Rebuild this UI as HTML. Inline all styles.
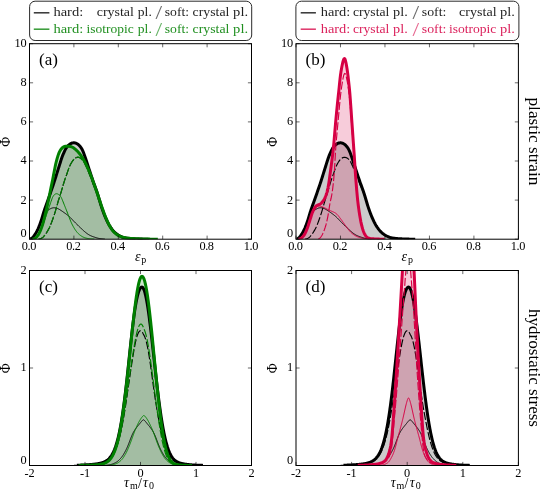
<!DOCTYPE html>
<html><head><meta charset="utf-8"><title>plot</title>
<style>html,body{margin:0;padding:0;background:#fff}body{width:540px;height:491px;overflow:hidden;font-family:"Liberation Serif",serif}</style>
</head><body>
<svg width="540" height="491" viewBox="0 0 540 491" style="display:block;font-family:'Liberation Serif',serif;will-change:transform">
<rect width="540" height="491" fill="#fff"/>
<defs>
<clipPath id="cpa"><rect x="29.5" y="43.7" width="222.0" height="195.5"/></clipPath>
<clipPath id="cpb"><rect x="296.0" y="43.7" width="222.39999999999998" height="195.5"/></clipPath>
<clipPath id="cpc"><rect x="29.5" y="270.5" width="222.0" height="195.0"/></clipPath>
<clipPath id="cpd"><rect x="296.0" y="270.5" width="222.39999999999998" height="195.0"/></clipPath>
</defs>
<g clip-path="url(#cpa)" fill="none" stroke-linejoin="round" stroke-linecap="butt">
<path d="M30.39,239.01 L30.83,238.84 L31.28,238.59 L31.72,238.27 L32.16,237.89 L32.61,237.45 L33.05,236.98 L33.50,236.48 L33.94,235.93 L34.38,235.35 L34.83,234.73 L35.27,234.05 L35.72,233.33 L36.16,232.57 L36.60,231.76 L37.05,230.91 L37.49,230.01 L37.94,229.08 L38.38,228.09 L38.82,227.04 L39.27,225.94 L39.71,224.78 L40.16,223.56 L40.60,222.29 L41.04,220.97 L41.49,219.60 L41.93,218.17 L42.38,216.70 L42.82,215.21 L43.26,213.72 L43.71,212.26 L44.15,210.85 L44.60,209.50 L45.04,208.20 L45.48,206.94 L45.93,205.71 L46.37,204.50 L46.82,203.29 L47.26,202.07 L47.70,200.84 L48.15,199.59 L48.59,198.32 L49.04,197.05 L49.48,195.76 L49.92,194.47 L50.37,193.18 L50.81,191.88 L51.26,190.59 L51.70,189.31 L52.14,188.02 L52.59,186.73 L53.03,185.43 L53.48,184.11 L53.92,182.77 L54.36,181.41 L54.81,180.02 L55.25,178.62 L55.70,177.20 L56.14,175.77 L56.58,174.34 L57.03,172.90 L57.47,171.47 L57.92,170.05 L58.36,168.62 L58.80,167.20 L59.25,165.78 L59.69,164.36 L60.14,162.93 L60.58,161.51 L61.02,160.12 L61.47,158.77 L61.91,157.48 L62.36,156.26 L62.80,155.12 L63.24,154.04 L63.69,153.02 L64.13,152.04 L64.58,151.10 L65.02,150.21 L65.46,149.36 L65.91,148.57 L66.35,147.85 L66.80,147.19 L67.24,146.61 L67.68,146.09 L68.13,145.63 L68.57,145.22 L69.02,144.84 L69.46,144.49 L69.90,144.16 L70.35,143.87 L70.79,143.60 L71.24,143.37 L71.68,143.18 L72.12,143.04 L72.57,142.94 L73.01,142.88 L73.46,142.85 L73.90,142.84 L74.34,142.85 L74.79,142.89 L75.23,142.97 L75.68,143.09 L76.12,143.25 L76.56,143.46 L77.01,143.70 L77.45,143.98 L77.90,144.28 L78.34,144.62 L78.78,145.00 L79.23,145.42 L79.67,145.90 L80.12,146.42 L80.56,147.00 L81.00,147.63 L81.45,148.31 L81.89,149.07 L82.34,149.92 L82.78,150.86 L83.22,151.89 L83.67,152.99 L84.11,154.17 L84.56,155.40 L85.00,156.68 L85.44,157.99 L85.89,159.33 L86.33,160.70 L86.78,162.07 L87.22,163.43 L87.66,164.80 L88.11,166.16 L88.55,167.51 L89.00,168.86 L89.44,170.22 L89.88,171.57 L90.33,172.92 L90.77,174.27 L91.22,175.61 L91.66,176.94 L92.10,178.26 L92.55,179.57 L92.99,180.86 L93.44,182.13 L93.88,183.39 L94.32,184.62 L94.77,185.85 L95.21,187.07 L95.66,188.30 L96.10,189.54 L96.54,190.80 L96.99,192.09 L97.43,193.42 L97.88,194.80 L98.32,196.23 L98.76,197.71 L99.21,199.23 L99.65,200.76 L100.10,202.28 L100.54,203.77 L100.98,205.21 L101.43,206.60 L101.87,207.95 L102.32,209.26 L102.76,210.54 L103.20,211.78 L103.65,212.98 L104.09,214.14 L104.54,215.26 L104.98,216.34 L105.42,217.38 L105.87,218.40 L106.31,219.39 L106.76,220.35 L107.20,221.28 L107.64,222.19 L108.09,223.06 L108.53,223.90 L108.98,224.69 L109.42,225.45 L109.86,226.17 L110.31,226.86 L110.75,227.52 L111.20,228.15 L111.64,228.75 L112.08,229.33 L112.53,229.88 L112.97,230.41 L113.42,230.92 L113.86,231.40 L114.30,231.86 L114.75,232.30 L115.19,232.71 L115.64,233.10 L116.08,233.47 L116.52,233.82 L116.97,234.16 L117.41,234.48 L117.86,234.78 L118.30,235.06 L118.74,235.32 L119.19,235.57 L119.63,235.81 L120.08,236.03 L120.52,236.25 L120.96,236.45 L121.41,236.65 L121.85,236.84 L122.30,237.02 L122.74,237.19 L123.18,237.34 L123.63,237.48 L124.07,237.60 L124.52,237.71 L124.96,237.81 L125.40,237.90 L125.85,237.97 L126.29,238.05 L126.74,238.12 L127.18,238.18 L127.62,238.24 L128.07,238.30 L128.51,238.36 L128.96,238.41 L129.40,238.46 L129.84,238.51 L130.29,238.55 L130.73,238.59 L131.18,238.63 L131.62,238.67 L132.06,238.70 L132.51,238.73 L132.95,238.76 L133.40,238.78 L133.84,238.81 L134.28,238.83 L134.73,238.85 L135.17,238.87 L135.62,238.89 L136.06,238.90 L136.50,238.92 L136.95,238.94 L137.39,238.96 L137.84,238.98 L138.28,238.99 L138.72,239.01 L139.17,239.02 L139.61,239.04 L140.06,239.05 L140.50,239.07 L140.94,239.08 L141.39,239.09 L141.83,239.10 L142.28,239.12 L142.72,239.13 L143.16,239.14 L143.61,239.15 L144.05,239.15 L144.50,239.16 L144.94,239.17 L145.38,239.18 L145.83,239.18 L146.27,239.19 L146.72,239.19 L147.16,239.19 L147.60,239.20 L148.05,239.20 L148.49,239.20 L148.49,239.20 L30.39,239.20 Z" fill="#000000" fill-opacity="0.2" stroke="none"/>
<path d="M32.16,239.18 L32.61,239.15 L33.05,239.09 L33.50,238.98 L33.94,238.83 L34.38,238.62 L34.83,238.35 L35.27,238.04 L35.72,237.68 L36.16,237.28 L36.60,236.85 L37.05,236.38 L37.49,235.87 L37.94,235.29 L38.38,234.64 L38.82,233.90 L39.27,233.07 L39.71,232.16 L40.16,231.18 L40.60,230.13 L41.04,229.01 L41.49,227.83 L41.93,226.56 L42.38,225.20 L42.82,223.76 L43.26,222.24 L43.71,220.63 L44.15,218.93 L44.60,217.16 L45.04,215.33 L45.48,213.44 L45.93,211.53 L46.37,209.59 L46.82,207.65 L47.26,205.69 L47.70,203.70 L48.15,201.65 L48.59,199.55 L49.04,197.39 L49.48,195.18 L49.92,192.95 L50.37,190.74 L50.81,188.56 L51.26,186.42 L51.70,184.30 L52.14,182.15 L52.59,179.97 L53.03,177.72 L53.48,175.40 L53.92,173.05 L54.36,170.71 L54.81,168.42 L55.25,166.24 L55.70,164.19 L56.14,162.28 L56.58,160.52 L57.03,158.87 L57.47,157.34 L57.92,155.92 L58.36,154.62 L58.80,153.44 L59.25,152.38 L59.69,151.45 L60.14,150.63 L60.58,149.91 L61.02,149.26 L61.47,148.70 L61.91,148.20 L62.36,147.78 L62.80,147.42 L63.24,147.12 L63.69,146.86 L64.13,146.64 L64.58,146.47 L65.02,146.33 L65.46,146.25 L65.91,146.20 L66.35,146.18 L66.80,146.18 L67.24,146.20 L67.68,146.22 L68.13,146.25 L68.57,146.29 L69.02,146.33 L69.46,146.38 L69.90,146.44 L70.35,146.50 L70.79,146.59 L71.24,146.70 L71.68,146.84 L72.12,147.02 L72.57,147.24 L73.01,147.50 L73.46,147.78 L73.90,148.10 L74.34,148.44 L74.79,148.80 L75.23,149.17 L75.68,149.56 L76.12,149.95 L76.56,150.36 L77.01,150.78 L77.45,151.21 L77.90,151.67 L78.34,152.16 L78.78,152.67 L79.23,153.22 L79.67,153.78 L80.12,154.37 L80.56,154.99 L81.00,155.62 L81.45,156.27 L81.89,156.94 L82.34,157.63 L82.78,158.34 L83.22,159.07 L83.67,159.83 L84.11,160.62 L84.56,161.44 L85.00,162.28 L85.44,163.16 L85.89,164.07 L86.33,164.99 L86.78,165.94 L87.22,166.91 L87.66,167.90 L88.11,168.90 L88.55,169.91 L89.00,170.95 L89.44,172.00 L89.88,173.07 L90.33,174.17 L90.77,175.29 L91.22,176.44 L91.66,177.61 L92.10,178.79 L92.55,180.00 L92.99,181.21 L93.44,182.44 L93.88,183.67 L94.32,184.91 L94.77,186.16 L95.21,187.42 L95.66,188.68 L96.10,189.96 L96.54,191.26 L96.99,192.57 L97.43,193.89 L97.88,195.22 L98.32,196.56 L98.76,197.89 L99.21,199.22 L99.65,200.54 L100.10,201.84 L100.54,203.14 L100.98,204.41 L101.43,205.68 L101.87,206.94 L102.32,208.20 L102.76,209.46 L103.20,210.72 L103.65,211.96 L104.09,213.19 L104.54,214.41 L104.98,215.59 L105.42,216.75 L105.87,217.87 L106.31,218.94 L106.76,219.97 L107.20,220.96 L107.64,221.91 L108.09,222.83 L108.53,223.72 L108.98,224.59 L109.42,225.44 L109.86,226.26 L110.31,227.06 L110.75,227.82 L111.20,228.54 L111.64,229.22 L112.08,229.86 L112.53,230.45 L112.97,231.00 L113.42,231.50 L113.86,231.97 L114.30,232.40 L114.75,232.82 L115.19,233.21 L115.64,233.58 L116.08,233.94 L116.52,234.27 L116.97,234.59 L117.41,234.88 L117.86,235.15 L118.30,235.41 L118.74,235.64 L119.19,235.85 L119.63,236.04 L120.08,236.22 L120.52,236.39 L120.96,236.55 L121.41,236.71 L121.85,236.85 L122.30,237.00 L122.74,237.13 L123.18,237.26 L123.63,237.38 L124.07,237.50 L124.52,237.61 L124.96,237.71 L125.40,237.80 L125.85,237.89 L126.29,237.97 L126.74,238.04 L127.18,238.11 L127.62,238.16 L128.07,238.21 L128.51,238.26 L128.96,238.30 L129.40,238.34 L129.84,238.37 L130.29,238.41 L130.73,238.44 L131.18,238.48 L131.62,238.51 L132.06,238.54 L132.51,238.57 L132.95,238.59 L133.40,238.62 L133.84,238.64 L134.28,238.67 L134.73,238.69 L135.17,238.71 L135.62,238.73 L136.06,238.75 L136.50,238.77 L136.95,238.79 L137.39,238.81 L137.84,238.82 L138.28,238.84 L138.72,238.85 L139.17,238.87 L139.61,238.88 L140.06,238.89 L140.50,238.91 L140.94,238.92 L141.39,238.93 L141.83,238.94 L142.28,238.95 L142.72,238.96 L143.16,238.98 L143.61,238.99 L144.05,239.00 L144.50,239.01 L144.94,239.02 L145.38,239.03 L145.83,239.04 L146.27,239.05 L146.72,239.06 L147.16,239.07 L147.60,239.08 L148.05,239.09 L148.49,239.10 L148.94,239.11 L149.38,239.11 L149.82,239.12 L150.27,239.13 L150.71,239.14 L151.16,239.14 L151.60,239.15 L152.04,239.16 L152.49,239.16 L152.93,239.17 L153.38,239.17 L153.82,239.18 L154.26,239.18 L154.71,239.19 L155.15,239.19 L155.60,239.19 L156.04,239.19 L156.48,239.20 L156.93,239.20 L157.37,239.20 L157.82,239.20 L157.82,239.20 L32.16,239.20 Z" fill="#008000" fill-opacity="0.2" stroke="none"/>
<path d="M29.83,239.13 L30.28,239.05 L30.72,238.90 L31.16,238.67 L31.61,238.37 L32.05,238.01 L32.50,237.60 L32.94,237.14 L33.38,236.65 L33.83,236.13 L34.27,235.56 L34.72,234.95 L35.16,234.30 L35.61,233.60 L36.05,232.85 L36.49,232.06 L36.94,231.22 L37.38,230.35 L37.83,229.43 L38.27,228.45 L38.71,227.42 L39.16,226.33 L39.60,225.21 L40.05,224.06 L40.49,222.92 L40.93,221.82 L41.38,220.75 L41.82,219.72 L42.27,218.73 L42.71,217.78 L43.15,216.89 L43.60,216.04 L44.04,215.25 L44.48,214.52 L44.93,213.84 L45.37,213.21 L45.82,212.62 L46.26,212.07 L46.70,211.57 L47.15,211.10 L47.59,210.68 L48.04,210.29 L48.48,209.94 L48.92,209.62 L49.37,209.34 L49.81,209.08 L50.26,208.83 L50.70,208.61 L51.14,208.40 L51.59,208.22 L52.03,208.06 L52.48,207.94 L52.92,207.85 L53.36,207.80 L53.81,207.78 L54.25,207.78 L54.70,207.81 L55.14,207.85 L55.59,207.91 L56.03,208.00 L56.47,208.11 L56.92,208.25 L57.36,208.42 L57.80,208.62 L58.25,208.84 L58.69,209.07 L59.14,209.31 L59.58,209.56 L60.03,209.82 L60.47,210.10 L60.91,210.38 L61.36,210.67 L61.80,210.98 L62.24,211.28 L62.69,211.59 L63.13,211.91 L63.58,212.22 L64.02,212.53 L64.47,212.85 L64.91,213.17 L65.35,213.49 L65.80,213.81 L66.24,214.14 L66.69,214.47 L67.13,214.81 L67.57,215.16 L68.02,215.52 L68.46,215.88 L68.91,216.26 L69.35,216.65 L69.79,217.06 L70.24,217.48 L70.68,217.92 L71.12,218.37 L71.57,218.84 L72.01,219.31 L72.46,219.79 L72.90,220.27 L73.34,220.75 L73.79,221.22 L74.23,221.68 L74.68,222.14 L75.12,222.58 L75.56,223.02 L76.01,223.46 L76.45,223.89 L76.90,224.32 L77.34,224.74 L77.78,225.17 L78.23,225.59 L78.67,226.02 L79.12,226.44 L79.56,226.87 L80.00,227.30 L80.45,227.73 L80.89,228.16 L81.34,228.59 L81.78,229.03 L82.22,229.45 L82.67,229.88 L83.11,230.29 L83.56,230.69 L84.00,231.09 L84.44,231.47 L84.89,231.84 L85.33,232.20 L85.78,232.56 L86.22,232.91 L86.66,233.25 L87.11,233.58 L87.55,233.90 L88.00,234.21 L88.44,234.50 L88.89,234.77 L89.33,235.03 L89.77,235.27 L90.22,235.49 L90.66,235.70 L91.11,235.90 L91.55,236.09 L91.99,236.27 L92.44,236.44 L92.88,236.60 L93.33,236.76 L93.77,236.91 L94.21,237.06 L94.66,237.21 L95.10,237.35 L95.55,237.49 L95.99,237.63 L96.43,237.77 L96.88,237.91 L97.32,238.04 L97.77,238.16 L98.21,238.27 L98.65,238.37 L99.10,238.46 L99.54,238.54 L99.98,238.61 L100.43,238.68 L100.87,238.73 L101.32,238.79 L101.76,238.84 L102.20,238.89 L102.65,238.93 L103.09,238.98 L103.54,239.02 L103.98,239.05 L104.43,239.09 L104.87,239.12" stroke="#000000" stroke-width="1.0"/>
<path d="M38.60,239.13 L39.05,239.07 L39.49,238.98 L39.93,238.86 L40.38,238.71 L40.82,238.52 L41.27,238.31 L41.71,238.07 L42.15,237.79 L42.60,237.46 L43.04,237.08 L43.49,236.64 L43.93,236.16 L44.37,235.64 L44.82,235.09 L45.26,234.51 L45.71,233.90 L46.15,233.26 L46.59,232.60 L47.04,231.90 L47.48,231.17 L47.93,230.41 L48.37,229.61 L48.81,228.77 L49.26,227.89 L49.70,226.94 L50.15,225.94 L50.59,224.89 L51.03,223.78 L51.48,222.64 L51.92,221.46 L52.37,220.25 L52.81,219.01 L53.25,217.75 L53.70,216.45 L54.14,215.12 L54.59,213.75 L55.03,212.34 L55.47,210.88 L55.92,209.37 L56.36,207.82 L56.81,206.24 L57.25,204.63 L57.69,203.04 L58.14,201.49 L58.58,199.99 L59.03,198.56 L59.47,197.17 L59.91,195.81 L60.36,194.46 L60.80,193.08 L61.25,191.65 L61.69,190.16 L62.13,188.63 L62.58,187.07 L63.02,185.52 L63.47,184.00 L63.91,182.55 L64.35,181.16 L64.80,179.83 L65.24,178.54 L65.69,177.27 L66.13,176.00 L66.57,174.73 L67.02,173.44 L67.46,172.15 L67.91,170.86 L68.35,169.62 L68.79,168.44 L69.24,167.32 L69.68,166.27 L70.13,165.28 L70.57,164.36 L71.01,163.50 L71.46,162.70 L71.90,161.98 L72.35,161.32 L72.79,160.71 L73.23,160.16 L73.68,159.65 L74.12,159.18 L74.57,158.77 L75.01,158.41 L75.45,158.10 L75.90,157.85 L76.34,157.65 L76.79,157.49 L77.23,157.38 L77.67,157.32 L78.12,157.31 L78.56,157.35 L79.01,157.45 L79.45,157.60 L79.89,157.79 L80.34,158.02 L80.78,158.28 L81.23,158.58 L81.67,158.92 L82.11,159.32 L82.56,159.80 L83.00,160.37 L83.45,161.04 L83.89,161.79 L84.33,162.60 L84.78,163.49 L85.22,164.42 L85.67,165.39 L86.11,166.39 L86.55,167.42 L87.00,168.45 L87.44,169.50 L87.89,170.55 L88.33,171.61 L88.77,172.68 L89.22,173.77 L89.66,174.88 L90.11,176.01 L90.55,177.14 L90.99,178.29 L91.44,179.43 L91.88,180.58 L92.33,181.72 L92.77,182.86 L93.21,183.98 L93.66,185.09 L94.10,186.18 L94.55,187.27 L94.99,188.34 L95.43,189.43 L95.88,190.52 L96.32,191.63 L96.77,192.76 L97.21,193.94 L97.65,195.17 L98.10,196.46 L98.54,197.82 L98.99,199.23 L99.43,200.67 L99.87,202.13 L100.32,203.57 L100.76,204.98 L101.21,206.34 L101.65,207.66 L102.09,208.94 L102.54,210.18 L102.98,211.40 L103.43,212.58 L103.87,213.72 L104.31,214.82 L104.76,215.89 L105.20,216.93 L105.65,217.94 L106.09,218.92 L106.53,219.89 L106.98,220.83 L107.42,221.74 L107.87,222.63 L108.31,223.48 L108.75,224.30 L109.20,225.08 L109.64,225.82 L110.09,226.52 L110.53,227.19 L110.97,227.83 L111.42,228.45 L111.86,229.04 L112.31,229.61 L112.75,230.15 L113.19,230.67 L113.64,231.17 L114.08,231.64 L114.53,232.08 L114.97,232.50 L115.41,232.90 L115.86,233.29 L116.30,233.65 L116.75,233.99 L117.19,234.32 L117.63,234.63 L118.08,234.92 L118.52,235.19 L118.97,235.45 L119.41,235.69 L119.85,235.92 L120.30,236.14 L120.74,236.35 L121.19,236.55 L121.63,236.75 L122.07,236.93 L122.52,237.10 L122.96,237.26 L123.41,237.41 L123.85,237.54 L124.29,237.66 L124.74,237.76 L125.18,237.85 L125.63,237.94 L126.07,238.01 L126.51,238.08 L126.96,238.15 L127.40,238.21 L127.85,238.27 L128.29,238.33 L128.73,238.39 L129.18,238.44 L129.62,238.49 L130.07,238.53 L130.51,238.57 L130.95,238.61 L131.40,238.65 L131.84,238.69 L132.29,238.72 L132.73,238.74 L133.17,238.77 L133.62,238.79 L134.06,238.82 L134.51,238.84 L134.95,238.86 L135.39,238.88 L135.84,238.90 L136.28,238.91 L136.73,238.93 L137.17,238.95 L137.61,238.97 L138.06,238.98 L138.50,239.00 L138.95,239.02 L139.39,239.03 L139.83,239.05 L140.28,239.06 L140.72,239.07 L141.17,239.09 L141.61,239.10 L142.05,239.11 L142.50,239.12" stroke="#000000" stroke-width="1.15" stroke-dasharray="8,2.2" stroke-dashoffset="0.8"/>
<path d="M30.39,239.01 L30.83,238.84 L31.28,238.59 L31.72,238.27 L32.16,237.89 L32.61,237.45 L33.05,236.98 L33.50,236.48 L33.94,235.93 L34.38,235.35 L34.83,234.73 L35.27,234.05 L35.72,233.33 L36.16,232.57 L36.60,231.76 L37.05,230.91 L37.49,230.01 L37.94,229.08 L38.38,228.09 L38.82,227.04 L39.27,225.94 L39.71,224.78 L40.16,223.56 L40.60,222.29 L41.04,220.97 L41.49,219.60 L41.93,218.17 L42.38,216.70 L42.82,215.21 L43.26,213.72 L43.71,212.26 L44.15,210.85 L44.60,209.50 L45.04,208.20 L45.48,206.94 L45.93,205.71 L46.37,204.50 L46.82,203.29 L47.26,202.07 L47.70,200.84 L48.15,199.59 L48.59,198.32 L49.04,197.05 L49.48,195.76 L49.92,194.47 L50.37,193.18 L50.81,191.88 L51.26,190.59 L51.70,189.31 L52.14,188.02 L52.59,186.73 L53.03,185.43 L53.48,184.11 L53.92,182.77 L54.36,181.41 L54.81,180.02 L55.25,178.62 L55.70,177.20 L56.14,175.77 L56.58,174.34 L57.03,172.90 L57.47,171.47 L57.92,170.05 L58.36,168.62 L58.80,167.20 L59.25,165.78 L59.69,164.36 L60.14,162.93 L60.58,161.51 L61.02,160.12 L61.47,158.77 L61.91,157.48 L62.36,156.26 L62.80,155.12 L63.24,154.04 L63.69,153.02 L64.13,152.04 L64.58,151.10 L65.02,150.21 L65.46,149.36 L65.91,148.57 L66.35,147.85 L66.80,147.19 L67.24,146.61 L67.68,146.09 L68.13,145.63 L68.57,145.22 L69.02,144.84 L69.46,144.49 L69.90,144.16 L70.35,143.87 L70.79,143.60 L71.24,143.37 L71.68,143.18 L72.12,143.04 L72.57,142.94 L73.01,142.88 L73.46,142.85 L73.90,142.84 L74.34,142.85 L74.79,142.89 L75.23,142.97 L75.68,143.09 L76.12,143.25 L76.56,143.46 L77.01,143.70 L77.45,143.98 L77.90,144.28 L78.34,144.62 L78.78,145.00 L79.23,145.42 L79.67,145.90 L80.12,146.42 L80.56,147.00 L81.00,147.63 L81.45,148.31 L81.89,149.07 L82.34,149.92 L82.78,150.86 L83.22,151.89 L83.67,152.99 L84.11,154.17 L84.56,155.40 L85.00,156.68 L85.44,157.99 L85.89,159.33 L86.33,160.70 L86.78,162.07 L87.22,163.43 L87.66,164.80 L88.11,166.16 L88.55,167.51 L89.00,168.86 L89.44,170.22 L89.88,171.57 L90.33,172.92 L90.77,174.27 L91.22,175.61 L91.66,176.94 L92.10,178.26 L92.55,179.57 L92.99,180.86 L93.44,182.13 L93.88,183.39 L94.32,184.62 L94.77,185.85 L95.21,187.07 L95.66,188.30 L96.10,189.54 L96.54,190.80 L96.99,192.09 L97.43,193.42 L97.88,194.80 L98.32,196.23 L98.76,197.71 L99.21,199.23 L99.65,200.76 L100.10,202.28 L100.54,203.77 L100.98,205.21 L101.43,206.60 L101.87,207.95 L102.32,209.26 L102.76,210.54 L103.20,211.78 L103.65,212.98 L104.09,214.14 L104.54,215.26 L104.98,216.34 L105.42,217.38 L105.87,218.40 L106.31,219.39 L106.76,220.35 L107.20,221.28 L107.64,222.19 L108.09,223.06 L108.53,223.90 L108.98,224.69 L109.42,225.45 L109.86,226.17 L110.31,226.86 L110.75,227.52 L111.20,228.15 L111.64,228.75 L112.08,229.33 L112.53,229.88 L112.97,230.41 L113.42,230.92 L113.86,231.40 L114.30,231.86 L114.75,232.30 L115.19,232.71 L115.64,233.10 L116.08,233.47 L116.52,233.82 L116.97,234.16 L117.41,234.48 L117.86,234.78 L118.30,235.06 L118.74,235.32 L119.19,235.57 L119.63,235.81 L120.08,236.03 L120.52,236.25 L120.96,236.45 L121.41,236.65 L121.85,236.84 L122.30,237.02 L122.74,237.19 L123.18,237.34 L123.63,237.48 L124.07,237.60 L124.52,237.71 L124.96,237.81 L125.40,237.90 L125.85,237.97 L126.29,238.05 L126.74,238.12 L127.18,238.18 L127.62,238.24 L128.07,238.30 L128.51,238.36 L128.96,238.41 L129.40,238.46 L129.84,238.51 L130.29,238.55 L130.73,238.59 L131.18,238.63 L131.62,238.67 L132.06,238.70 L132.51,238.73 L132.95,238.76 L133.40,238.78 L133.84,238.81 L134.28,238.83 L134.73,238.85 L135.17,238.87 L135.62,238.89 L136.06,238.90 L136.50,238.92 L136.95,238.94 L137.39,238.96 L137.84,238.98 L138.28,238.99 L138.72,239.01 L139.17,239.02 L139.61,239.04 L140.06,239.05 L140.50,239.07 L140.94,239.08 L141.39,239.09 L141.83,239.10 L142.28,239.12 L142.72,239.13 L143.16,239.14 L143.61,239.15 L144.05,239.15 L144.50,239.16 L144.94,239.17 L145.38,239.18 L145.83,239.18 L146.27,239.19 L146.72,239.19 L147.16,239.19 L147.60,239.20 L148.05,239.20 L148.49,239.20" stroke="#000000" stroke-width="3.0"/>
<path d="M33.38,239.12 L33.83,239.03 L34.27,238.88 L34.72,238.65 L35.16,238.36 L35.61,238.01 L36.05,237.60 L36.49,237.14 L36.94,236.65 L37.38,236.10 L37.83,235.50 L38.27,234.84 L38.71,234.11 L39.16,233.31 L39.60,232.45 L40.05,231.55 L40.49,230.60 L40.93,229.62 L41.38,228.61 L41.82,227.56 L42.27,226.48 L42.71,225.35 L43.15,224.20 L43.60,223.01 L44.04,221.80 L44.48,220.57 L44.93,219.32 L45.37,218.04 L45.82,216.76 L46.26,215.48 L46.70,214.19 L47.15,212.90 L47.59,211.61 L48.04,210.31 L48.48,209.02 L48.92,207.73 L49.37,206.43 L49.81,205.13 L50.26,203.83 L50.70,202.53 L51.14,201.23 L51.59,199.94 L52.03,198.73 L52.48,197.62 L52.92,196.69 L53.36,195.93 L53.81,195.33 L54.25,194.84 L54.70,194.46 L55.14,194.15 L55.59,193.93 L56.03,193.78 L56.47,193.72 L56.92,193.75 L57.36,193.85 L57.80,194.02 L58.25,194.26 L58.69,194.55 L59.14,194.89 L59.58,195.29 L60.03,195.76 L60.47,196.31 L60.91,196.97 L61.36,197.76 L61.80,198.68 L62.24,199.71 L62.69,200.80 L63.13,201.93 L63.58,203.06 L64.02,204.18 L64.47,205.29 L64.91,206.40 L65.35,207.51 L65.80,208.62 L66.24,209.74 L66.69,210.87 L67.13,212.00 L67.57,213.14 L68.02,214.29 L68.46,215.45 L68.91,216.62 L69.35,217.79 L69.79,218.95 L70.24,220.08 L70.68,221.18 L71.12,222.22 L71.57,223.21 L72.01,224.15 L72.46,225.04 L72.90,225.89 L73.34,226.70 L73.79,227.48 L74.23,228.23 L74.68,228.94 L75.12,229.62 L75.56,230.27 L76.01,230.88 L76.45,231.47 L76.90,232.04 L77.34,232.57 L77.78,233.06 L78.23,233.53 L78.67,233.95 L79.12,234.35 L79.56,234.72 L80.00,235.06 L80.45,235.39 L80.89,235.71 L81.34,236.01 L81.78,236.30 L82.22,236.56 L82.67,236.82 L83.11,237.05 L83.56,237.26 L84.00,237.45 L84.44,237.62 L84.89,237.77 L85.33,237.90 L85.78,238.02 L86.22,238.14 L86.66,238.24 L87.11,238.34 L87.55,238.44 L88.00,238.53 L88.44,238.61 L88.89,238.69 L89.33,238.75 L89.77,238.82 L90.22,238.87 L90.66,238.92 L91.11,238.95 L91.55,238.99 L91.99,239.02 L92.44,239.04 L92.88,239.06 L93.33,239.08 L93.77,239.10 L94.21,239.11" stroke="#008000" stroke-width="1.0"/>
<path d="M38.60,239.13 L39.05,239.07 L39.49,238.98 L39.93,238.86 L40.38,238.71 L40.82,238.52 L41.27,238.31 L41.71,238.07 L42.15,237.79 L42.60,237.46 L43.04,237.08 L43.49,236.64 L43.93,236.16 L44.37,235.64 L44.82,235.09 L45.26,234.51 L45.71,233.90 L46.15,233.26 L46.59,232.60 L47.04,231.90 L47.48,231.17 L47.93,230.41 L48.37,229.61 L48.81,228.77 L49.26,227.89 L49.70,226.94 L50.15,225.94 L50.59,224.89 L51.03,223.78 L51.48,222.64 L51.92,221.46 L52.37,220.25 L52.81,219.01 L53.25,217.75 L53.70,216.45 L54.14,215.12 L54.59,213.75 L55.03,212.34 L55.47,210.88 L55.92,209.37 L56.36,207.82 L56.81,206.24 L57.25,204.63 L57.69,203.04 L58.14,201.49 L58.58,199.99 L59.03,198.56 L59.47,197.17 L59.91,195.81 L60.36,194.46 L60.80,193.08 L61.25,191.65 L61.69,190.16 L62.13,188.63 L62.58,187.07 L63.02,185.52 L63.47,184.00 L63.91,182.55 L64.35,181.16 L64.80,179.83 L65.24,178.54 L65.69,177.27 L66.13,176.00 L66.57,174.73 L67.02,173.44 L67.46,172.15 L67.91,170.86 L68.35,169.62 L68.79,168.44 L69.24,167.32 L69.68,166.27 L70.13,165.28 L70.57,164.36 L71.01,163.50 L71.46,162.70 L71.90,161.98 L72.35,161.32 L72.79,160.71 L73.23,160.16 L73.68,159.65 L74.12,159.18 L74.57,158.75 L75.01,158.37 L75.45,158.04 L75.90,157.75 L76.34,157.51 L76.79,157.32 L77.23,157.17 L77.67,157.10 L78.12,157.09 L78.56,157.17 L79.01,157.34 L79.45,157.58 L79.89,157.89 L80.34,158.25 L80.78,158.65 L81.23,159.07 L81.67,159.51 L82.11,159.96 L82.56,160.43 L83.00,160.91 L83.45,161.44 L83.89,162.02 L84.33,162.65 L84.78,163.33 L85.22,164.05 L85.67,164.82 L86.11,165.62 L86.55,166.45 L87.00,167.31 L87.44,168.19 L87.89,169.09 L88.33,170.01 L88.77,170.96 L89.22,171.93 L89.66,172.93 L90.11,173.96 L90.55,175.02 L90.99,176.12 L91.44,177.24 L91.88,178.39 L92.33,179.56 L92.77,180.75 L93.21,181.95 L93.66,183.16 L94.10,184.38 L94.55,185.61 L94.99,186.85 L95.43,188.09 L95.88,189.36 L96.32,190.64 L96.77,191.93 L97.21,193.24 L97.65,194.57 L98.10,195.89 L98.54,197.23 L98.99,198.56 L99.43,199.88 L99.87,201.19 L100.32,202.49 L100.76,203.78 L101.21,205.05 L101.65,206.31 L102.09,207.57 L102.54,208.83 L102.98,210.09 L103.43,211.34 L103.87,212.58 L104.31,213.80 L104.76,215.00 L105.20,216.18 L105.65,217.31 L106.09,218.41 L106.53,219.46 L106.98,220.47 L107.42,221.44 L107.87,222.37 L108.31,223.28 L108.75,224.16 L109.20,225.02 L109.64,225.86 L110.09,226.66 L110.53,227.44 L110.97,228.19 L111.42,228.89 L111.86,229.55 L112.31,230.16 L112.75,230.73 L113.19,231.25 L113.64,231.74 L114.08,232.19 L114.53,232.61 L114.97,233.02 L115.41,233.40 L115.86,233.76 L116.30,234.11 L116.75,234.43 L117.19,234.74 L117.63,235.02 L118.08,235.28 L118.52,235.52 L118.97,235.75 L119.41,235.95 L119.85,236.13 L120.30,236.31 L120.74,236.47 L121.19,236.63 L121.63,236.78 L122.07,236.93 L122.52,237.06 L122.96,237.20 L123.41,237.32 L123.85,237.44 L124.29,237.55 L124.74,237.66 L125.18,237.76 L125.63,237.85 L126.07,237.93 L126.51,238.01 L126.96,238.07 L127.40,238.13 L127.85,238.19 L128.29,238.24 L128.73,238.28 L129.18,238.32 L129.62,238.36 L130.07,238.39 L130.51,238.43 L130.95,238.46 L131.40,238.49 L131.84,238.52 L132.29,238.55 L132.73,238.58 L133.17,238.61 L133.62,238.63 L134.06,238.66 L134.51,238.68 L134.95,238.70 L135.39,238.72 L135.84,238.74 L136.28,238.76 L136.73,238.78 L137.17,238.80 L137.61,238.81 L138.06,238.83 L138.50,238.85 L138.95,238.86 L139.39,238.87 L139.83,238.89 L140.28,238.90 L140.72,238.91 L141.17,238.92 L141.61,238.94 L142.05,238.95 L142.50,238.96 L142.94,238.97 L143.39,238.98 L143.83,238.99 L144.27,239.00 L144.72,239.01 L145.16,239.03 L145.61,239.04 L146.05,239.05 L146.49,239.06 L146.94,239.07 L147.38,239.08 L147.83,239.08 L148.27,239.09 L148.71,239.10 L149.16,239.11 L149.60,239.12" stroke="#008000" stroke-width="1.15" stroke-dasharray="8,2.2" stroke-dashoffset="0"/>
<path d="M32.16,239.18 L32.61,239.15 L33.05,239.09 L33.50,238.98 L33.94,238.83 L34.38,238.62 L34.83,238.35 L35.27,238.04 L35.72,237.68 L36.16,237.28 L36.60,236.85 L37.05,236.38 L37.49,235.87 L37.94,235.29 L38.38,234.64 L38.82,233.90 L39.27,233.07 L39.71,232.16 L40.16,231.18 L40.60,230.13 L41.04,229.01 L41.49,227.83 L41.93,226.56 L42.38,225.20 L42.82,223.76 L43.26,222.24 L43.71,220.63 L44.15,218.93 L44.60,217.16 L45.04,215.33 L45.48,213.44 L45.93,211.53 L46.37,209.59 L46.82,207.65 L47.26,205.69 L47.70,203.70 L48.15,201.65 L48.59,199.55 L49.04,197.39 L49.48,195.18 L49.92,192.95 L50.37,190.74 L50.81,188.56 L51.26,186.42 L51.70,184.30 L52.14,182.15 L52.59,179.97 L53.03,177.72 L53.48,175.40 L53.92,173.05 L54.36,170.71 L54.81,168.42 L55.25,166.24 L55.70,164.19 L56.14,162.28 L56.58,160.52 L57.03,158.87 L57.47,157.34 L57.92,155.92 L58.36,154.62 L58.80,153.44 L59.25,152.38 L59.69,151.45 L60.14,150.63 L60.58,149.91 L61.02,149.26 L61.47,148.70 L61.91,148.20 L62.36,147.78 L62.80,147.42 L63.24,147.12 L63.69,146.86 L64.13,146.64 L64.58,146.47 L65.02,146.33 L65.46,146.25 L65.91,146.20 L66.35,146.18 L66.80,146.18 L67.24,146.20 L67.68,146.22 L68.13,146.25 L68.57,146.29 L69.02,146.33 L69.46,146.38 L69.90,146.44 L70.35,146.50 L70.79,146.59 L71.24,146.70 L71.68,146.84 L72.12,147.02 L72.57,147.24 L73.01,147.50 L73.46,147.78 L73.90,148.10 L74.34,148.44 L74.79,148.80 L75.23,149.17 L75.68,149.56 L76.12,149.95 L76.56,150.36 L77.01,150.78 L77.45,151.21 L77.90,151.67 L78.34,152.16 L78.78,152.67 L79.23,153.22 L79.67,153.78 L80.12,154.37 L80.56,154.99 L81.00,155.62 L81.45,156.27 L81.89,156.94 L82.34,157.63 L82.78,158.34 L83.22,159.07 L83.67,159.83 L84.11,160.62 L84.56,161.44 L85.00,162.28 L85.44,163.16 L85.89,164.07 L86.33,164.99 L86.78,165.94 L87.22,166.91 L87.66,167.90 L88.11,168.90 L88.55,169.91 L89.00,170.95 L89.44,172.00 L89.88,173.07 L90.33,174.17 L90.77,175.29 L91.22,176.44 L91.66,177.61 L92.10,178.79 L92.55,180.00 L92.99,181.21 L93.44,182.44 L93.88,183.67 L94.32,184.91 L94.77,186.16 L95.21,187.42 L95.66,188.68 L96.10,189.96 L96.54,191.26 L96.99,192.57 L97.43,193.89 L97.88,195.22 L98.32,196.56 L98.76,197.89 L99.21,199.22 L99.65,200.54 L100.10,201.84 L100.54,203.14 L100.98,204.41 L101.43,205.68 L101.87,206.94 L102.32,208.20 L102.76,209.46 L103.20,210.72 L103.65,211.96 L104.09,213.19 L104.54,214.41 L104.98,215.59 L105.42,216.75 L105.87,217.87 L106.31,218.94 L106.76,219.97 L107.20,220.96 L107.64,221.91 L108.09,222.83 L108.53,223.72 L108.98,224.59 L109.42,225.44 L109.86,226.26 L110.31,227.06 L110.75,227.82 L111.20,228.54 L111.64,229.22 L112.08,229.86 L112.53,230.45 L112.97,231.00 L113.42,231.50 L113.86,231.97 L114.30,232.40 L114.75,232.82 L115.19,233.21 L115.64,233.58 L116.08,233.94 L116.52,234.27 L116.97,234.59 L117.41,234.88 L117.86,235.15 L118.30,235.41 L118.74,235.64 L119.19,235.85 L119.63,236.04 L120.08,236.22 L120.52,236.39 L120.96,236.55 L121.41,236.71 L121.85,236.85 L122.30,237.00 L122.74,237.13 L123.18,237.26 L123.63,237.38 L124.07,237.50 L124.52,237.61 L124.96,237.71 L125.40,237.80 L125.85,237.89 L126.29,237.97 L126.74,238.04 L127.18,238.11 L127.62,238.16 L128.07,238.21 L128.51,238.26 L128.96,238.30 L129.40,238.34 L129.84,238.37 L130.29,238.41 L130.73,238.44 L131.18,238.48 L131.62,238.51 L132.06,238.54 L132.51,238.57 L132.95,238.59 L133.40,238.62 L133.84,238.64 L134.28,238.67 L134.73,238.69 L135.17,238.71 L135.62,238.73 L136.06,238.75 L136.50,238.77 L136.95,238.79 L137.39,238.81 L137.84,238.82 L138.28,238.84 L138.72,238.85 L139.17,238.87 L139.61,238.88 L140.06,238.89 L140.50,238.91 L140.94,238.92 L141.39,238.93 L141.83,238.94 L142.28,238.95 L142.72,238.96 L143.16,238.98 L143.61,238.99 L144.05,239.00 L144.50,239.01 L144.94,239.02 L145.38,239.03 L145.83,239.04 L146.27,239.05 L146.72,239.06 L147.16,239.07 L147.60,239.08 L148.05,239.09 L148.49,239.10 L148.94,239.11 L149.38,239.11 L149.82,239.12 L150.27,239.13 L150.71,239.14 L151.16,239.14 L151.60,239.15 L152.04,239.16 L152.49,239.16 L152.93,239.17 L153.38,239.17 L153.82,239.18 L154.26,239.18 L154.71,239.19 L155.15,239.19 L155.60,239.19 L156.04,239.19 L156.48,239.20 L156.93,239.20 L157.37,239.20 L157.82,239.20" stroke="#008000" stroke-width="3.0"/>
</g>
<g clip-path="url(#cpb)" fill="none" stroke-linejoin="round" stroke-linecap="butt">
<path d="M296.89,239.01 L297.33,238.84 L297.78,238.59 L298.22,238.27 L298.67,237.89 L299.11,237.45 L299.56,236.98 L300.00,236.48 L300.45,235.93 L300.89,235.35 L301.34,234.73 L301.78,234.05 L302.23,233.33 L302.67,232.57 L303.12,231.76 L303.56,230.91 L304.01,230.01 L304.45,229.08 L304.90,228.09 L305.34,227.04 L305.79,225.94 L306.23,224.78 L306.68,223.56 L307.12,222.29 L307.56,220.97 L308.01,219.60 L308.45,218.17 L308.90,216.70 L309.34,215.21 L309.79,213.72 L310.23,212.26 L310.68,210.85 L311.12,209.50 L311.57,208.20 L312.01,206.94 L312.46,205.71 L312.90,204.50 L313.35,203.29 L313.79,202.07 L314.24,200.84 L314.68,199.59 L315.13,198.32 L315.57,197.05 L316.02,195.76 L316.46,194.47 L316.91,193.18 L317.35,191.88 L317.80,190.59 L318.24,189.31 L318.68,188.02 L319.13,186.73 L319.57,185.43 L320.02,184.11 L320.46,182.77 L320.91,181.41 L321.35,180.02 L321.80,178.62 L322.24,177.20 L322.69,175.77 L323.13,174.34 L323.58,172.90 L324.02,171.47 L324.47,170.05 L324.91,168.62 L325.36,167.20 L325.80,165.78 L326.25,164.36 L326.69,162.93 L327.14,161.51 L327.58,160.12 L328.03,158.77 L328.47,157.48 L328.92,156.26 L329.36,155.12 L329.80,154.04 L330.25,153.02 L330.69,152.04 L331.14,151.10 L331.58,150.21 L332.03,149.36 L332.47,148.57 L332.92,147.85 L333.36,147.19 L333.81,146.61 L334.25,146.09 L334.70,145.63 L335.14,145.22 L335.59,144.84 L336.03,144.49 L336.48,144.16 L336.92,143.87 L337.37,143.60 L337.81,143.37 L338.26,143.18 L338.70,143.04 L339.15,142.94 L339.59,142.88 L340.04,142.85 L340.48,142.84 L340.92,142.85 L341.37,142.89 L341.81,142.97 L342.26,143.09 L342.70,143.25 L343.15,143.46 L343.59,143.70 L344.04,143.98 L344.48,144.28 L344.93,144.62 L345.37,145.00 L345.82,145.42 L346.26,145.90 L346.71,146.42 L347.15,147.00 L347.60,147.63 L348.04,148.31 L348.49,149.07 L348.93,149.92 L349.38,150.86 L349.82,151.89 L350.27,152.99 L350.71,154.17 L351.16,155.40 L351.60,156.68 L352.04,157.99 L352.49,159.33 L352.93,160.70 L353.38,162.07 L353.82,163.43 L354.27,164.80 L354.71,166.16 L355.16,167.51 L355.60,168.86 L356.05,170.22 L356.49,171.57 L356.94,172.92 L357.38,174.27 L357.83,175.61 L358.27,176.94 L358.72,178.26 L359.16,179.57 L359.61,180.86 L360.05,182.13 L360.50,183.39 L360.94,184.62 L361.39,185.85 L361.83,187.07 L362.28,188.30 L362.72,189.54 L363.16,190.80 L363.61,192.09 L364.05,193.42 L364.50,194.80 L364.94,196.23 L365.39,197.71 L365.83,199.23 L366.28,200.76 L366.72,202.28 L367.17,203.77 L367.61,205.21 L368.06,206.60 L368.50,207.95 L368.95,209.26 L369.39,210.54 L369.84,211.78 L370.28,212.98 L370.73,214.14 L371.17,215.26 L371.62,216.34 L372.06,217.38 L372.51,218.40 L372.95,219.39 L373.40,220.35 L373.84,221.28 L374.28,222.19 L374.73,223.06 L375.17,223.90 L375.62,224.69 L376.06,225.45 L376.51,226.17 L376.95,226.86 L377.40,227.52 L377.84,228.15 L378.29,228.75 L378.73,229.33 L379.18,229.88 L379.62,230.41 L380.07,230.92 L380.51,231.40 L380.96,231.86 L381.40,232.30 L381.85,232.71 L382.29,233.10 L382.74,233.47 L383.18,233.82 L383.63,234.16 L384.07,234.48 L384.52,234.78 L384.96,235.06 L385.40,235.32 L385.85,235.57 L386.29,235.81 L386.74,236.03 L387.18,236.25 L387.63,236.45 L388.07,236.65 L388.52,236.84 L388.96,237.02 L389.41,237.19 L389.85,237.34 L390.30,237.48 L390.74,237.60 L391.19,237.71 L391.63,237.81 L392.08,237.90 L392.52,237.97 L392.97,238.05 L393.41,238.12 L393.86,238.18 L394.30,238.24 L394.75,238.30 L395.19,238.36 L395.64,238.41 L396.08,238.46 L396.52,238.51 L396.97,238.55 L397.41,238.59 L397.86,238.63 L398.30,238.67 L398.75,238.70 L399.19,238.73 L399.64,238.76 L400.08,238.78 L400.53,238.81 L400.97,238.83 L401.42,238.85 L401.86,238.87 L402.31,238.89 L402.75,238.90 L403.20,238.92 L403.64,238.94 L404.09,238.96 L404.53,238.98 L404.98,238.99 L405.42,239.01 L405.87,239.02 L406.31,239.04 L406.76,239.05 L407.20,239.07 L407.64,239.08 L408.09,239.09 L408.53,239.10 L408.98,239.12 L409.42,239.13 L409.87,239.14 L410.31,239.15 L410.76,239.15 L411.20,239.16 L411.65,239.17 L412.09,239.18 L412.54,239.18 L412.98,239.19 L413.43,239.19 L413.87,239.19 L414.32,239.20 L414.76,239.20 L415.21,239.20 L415.21,239.20 L296.89,239.20 Z" fill="#000000" fill-opacity="0.2" stroke="none"/>
<path d="M298.22,239.20 L298.67,239.18 L299.11,239.13 L299.56,239.02 L300.00,238.84 L300.45,238.61 L300.89,238.33 L301.34,237.99 L301.78,237.62 L302.23,237.22 L302.67,236.79 L303.12,236.34 L303.56,235.85 L304.01,235.29 L304.45,234.61 L304.90,233.81 L305.34,232.91 L305.79,231.92 L306.23,230.88 L306.68,229.79 L307.12,228.66 L307.56,227.46 L308.01,226.17 L308.45,224.79 L308.90,223.38 L309.34,221.95 L309.79,220.55 L310.23,219.13 L310.68,217.69 L311.12,216.24 L311.57,214.84 L312.01,213.52 L312.46,212.34 L312.90,211.30 L313.35,210.36 L313.79,209.48 L314.24,208.65 L314.68,207.89 L315.13,207.21 L315.57,206.62 L316.02,206.13 L316.46,205.75 L316.91,205.45 L317.35,205.21 L317.80,205.01 L318.24,204.83 L318.68,204.66 L319.13,204.49 L319.57,204.29 L320.02,204.06 L320.46,203.78 L320.91,203.44 L321.35,203.05 L321.80,202.59 L322.24,202.07 L322.69,201.51 L323.13,200.90 L323.58,200.24 L324.02,199.52 L324.47,198.71 L324.91,197.80 L325.36,196.80 L325.80,195.70 L326.25,194.48 L326.69,193.12 L327.14,191.55 L327.58,189.72 L328.03,187.61 L328.47,185.17 L328.92,182.40 L329.36,179.36 L329.80,176.16 L330.25,172.90 L330.69,169.62 L331.14,166.29 L331.58,162.91 L332.03,159.47 L332.47,156.00 L332.92,152.37 L333.36,148.26 L333.81,143.55 L334.25,138.56 L334.70,133.48 L335.14,128.25 L335.59,122.97 L336.03,118.01 L336.48,113.43 L336.92,108.98 L337.37,104.52 L337.81,100.17 L338.26,96.02 L338.70,91.87 L339.15,87.53 L339.59,83.13 L340.04,78.99 L340.48,75.30 L340.92,72.12 L341.37,69.41 L341.81,66.99 L342.26,64.75 L342.70,62.70 L343.15,60.94 L343.59,59.59 L344.04,58.76 L344.48,58.55 L344.93,59.06 L345.37,60.27 L345.82,62.06 L346.26,64.27 L346.71,66.77 L347.15,69.52 L347.60,72.66 L348.04,76.29 L348.49,80.18 L348.93,84.14 L349.38,88.33 L349.82,93.14 L350.27,98.77 L350.71,104.99 L351.16,111.40 L351.60,117.77 L352.04,124.11 L352.49,130.48 L352.93,136.90 L353.38,143.18 L353.82,149.30 L354.27,155.66 L354.71,162.62 L355.16,169.74 L355.60,176.25 L356.05,181.97 L356.49,187.33 L356.94,192.55 L357.38,197.37 L357.83,201.57 L358.27,205.26 L358.72,208.60 L359.16,211.69 L359.61,214.59 L360.05,217.31 L360.50,219.83 L360.94,222.11 L361.39,224.15 L361.83,225.98 L362.28,227.64 L362.72,229.16 L363.16,230.53 L363.61,231.73 L364.05,232.79 L364.50,233.73 L364.94,234.59 L365.39,235.35 L365.83,235.99 L366.28,236.50 L366.72,236.89 L367.17,237.21 L367.61,237.49 L368.06,237.75 L368.50,237.98 L368.95,238.17 L369.39,238.34 L369.84,238.46 L370.28,238.55 L370.73,238.62 L371.17,238.66 L371.62,238.70 L372.06,238.73 L372.51,238.77 L372.95,238.80 L373.40,238.83 L373.84,238.86 L374.28,238.89 L374.73,238.92 L375.17,238.94 L375.62,238.97 L376.06,238.99 L376.51,239.01 L376.95,239.03 L377.40,239.05 L377.84,239.07 L378.29,239.08 L378.73,239.10 L379.18,239.11 L379.62,239.13 L380.07,239.14 L380.51,239.15 L380.96,239.16 L381.40,239.17 L381.85,239.18 L382.29,239.18 L382.74,239.19 L383.18,239.19 L383.63,239.20 L384.07,239.20 L384.52,239.20 L384.52,239.20 L298.22,239.20 Z" fill="#d60044" fill-opacity="0.2" stroke="none"/>
<path d="M296.33,239.13 L296.78,239.05 L297.22,238.90 L297.67,238.67 L298.11,238.37 L298.56,238.01 L299.00,237.60 L299.45,237.14 L299.89,236.65 L300.34,236.13 L300.78,235.56 L301.23,234.95 L301.67,234.30 L302.12,233.60 L302.56,232.85 L303.01,232.06 L303.45,231.22 L303.90,230.35 L304.34,229.43 L304.78,228.45 L305.23,227.42 L305.67,226.33 L306.12,225.21 L306.56,224.06 L307.01,222.92 L307.45,221.82 L307.90,220.75 L308.34,219.72 L308.79,218.73 L309.23,217.78 L309.68,216.89 L310.12,216.04 L310.57,215.25 L311.01,214.52 L311.46,213.84 L311.90,213.21 L312.35,212.62 L312.79,212.07 L313.24,211.57 L313.68,211.10 L314.13,210.68 L314.57,210.29 L315.02,209.94 L315.46,209.62 L315.90,209.34 L316.35,209.08 L316.79,208.83 L317.24,208.61 L317.68,208.40 L318.13,208.22 L318.57,208.06 L319.02,207.94 L319.46,207.85 L319.91,207.80 L320.35,207.78 L320.80,207.78 L321.24,207.81 L321.69,207.85 L322.13,207.91 L322.58,208.00 L323.02,208.11 L323.47,208.25 L323.91,208.42 L324.36,208.62 L324.80,208.84 L325.25,209.07 L325.69,209.31 L326.14,209.56 L326.58,209.82 L327.02,210.10 L327.47,210.38 L327.91,210.67 L328.36,210.98 L328.80,211.28 L329.25,211.59 L329.69,211.91 L330.14,212.22 L330.58,212.53 L331.03,212.85 L331.47,213.17 L331.92,213.49 L332.36,213.81 L332.81,214.14 L333.25,214.47 L333.70,214.81 L334.14,215.16 L334.59,215.52 L335.03,215.88 L335.48,216.26 L335.92,216.65 L336.37,217.06 L336.81,217.48 L337.26,217.92 L337.70,218.37 L338.14,218.84 L338.59,219.31 L339.03,219.79 L339.48,220.27 L339.92,220.75 L340.37,221.22 L340.81,221.68 L341.26,222.14 L341.70,222.58 L342.15,223.02 L342.59,223.46 L343.04,223.89 L343.48,224.32 L343.93,224.74 L344.37,225.17 L344.82,225.59 L345.26,226.02 L345.71,226.44 L346.15,226.87 L346.60,227.30 L347.04,227.73 L347.49,228.16 L347.93,228.59 L348.38,229.03 L348.82,229.45 L349.26,229.88 L349.71,230.29 L350.15,230.69 L350.60,231.09 L351.04,231.47 L351.49,231.84 L351.93,232.20 L352.38,232.56 L352.82,232.91 L353.27,233.25 L353.71,233.58 L354.16,233.90 L354.60,234.21 L355.05,234.50 L355.49,234.77 L355.94,235.03 L356.38,235.27 L356.83,235.49 L357.27,235.70 L357.72,235.90 L358.16,236.09 L358.61,236.27 L359.05,236.44 L359.50,236.60 L359.94,236.76 L360.38,236.91 L360.83,237.06 L361.27,237.21 L361.72,237.35 L362.16,237.49 L362.61,237.63 L363.05,237.77 L363.50,237.91 L363.94,238.04 L364.39,238.16 L364.83,238.27 L365.28,238.37 L365.72,238.46 L366.17,238.54 L366.61,238.61 L367.06,238.68 L367.50,238.73 L367.95,238.79 L368.39,238.84 L368.84,238.89 L369.28,238.93 L369.73,238.98 L370.17,239.02 L370.62,239.05 L371.06,239.09 L371.50,239.12" stroke="#000000" stroke-width="1.0"/>
<path d="M305.12,239.13 L305.56,239.07 L306.01,238.98 L306.45,238.86 L306.90,238.71 L307.34,238.52 L307.79,238.31 L308.23,238.07 L308.68,237.79 L309.12,237.46 L309.57,237.08 L310.01,236.64 L310.46,236.16 L310.90,235.64 L311.35,235.09 L311.79,234.51 L312.24,233.90 L312.68,233.26 L313.12,232.60 L313.57,231.90 L314.01,231.17 L314.46,230.41 L314.90,229.61 L315.35,228.77 L315.79,227.89 L316.24,226.94 L316.68,225.94 L317.13,224.89 L317.57,223.78 L318.02,222.64 L318.46,221.46 L318.91,220.25 L319.35,219.01 L319.80,217.75 L320.24,216.45 L320.69,215.12 L321.13,213.75 L321.58,212.34 L322.02,210.88 L322.47,209.37 L322.91,207.82 L323.36,206.24 L323.80,204.63 L324.24,203.04 L324.69,201.49 L325.13,199.99 L325.58,198.56 L326.02,197.17 L326.47,195.81 L326.91,194.46 L327.36,193.08 L327.80,191.65 L328.25,190.16 L328.69,188.63 L329.14,187.07 L329.58,185.52 L330.03,184.00 L330.47,182.55 L330.92,181.16 L331.36,179.83 L331.81,178.54 L332.25,177.27 L332.70,176.00 L333.14,174.73 L333.59,173.44 L334.03,172.15 L334.48,170.86 L334.92,169.62 L335.36,168.44 L335.81,167.32 L336.25,166.27 L336.70,165.28 L337.14,164.36 L337.59,163.50 L338.03,162.70 L338.48,161.98 L338.92,161.32 L339.37,160.71 L339.81,160.16 L340.26,159.65 L340.70,159.18 L341.15,158.77 L341.59,158.41 L342.04,158.10 L342.48,157.85 L342.93,157.65 L343.37,157.49 L343.82,157.38 L344.26,157.32 L344.71,157.31 L345.15,157.35 L345.60,157.45 L346.04,157.60 L346.48,157.79 L346.93,158.02 L347.37,158.28 L347.82,158.58 L348.26,158.92 L348.71,159.32 L349.15,159.80 L349.60,160.37 L350.04,161.04 L350.49,161.79 L350.93,162.60 L351.38,163.49 L351.82,164.42 L352.27,165.39 L352.71,166.39 L353.16,167.42 L353.60,168.45 L354.05,169.50 L354.49,170.55 L354.94,171.61 L355.38,172.68 L355.83,173.77 L356.27,174.88 L356.72,176.01 L357.16,177.14 L357.60,178.29 L358.05,179.43 L358.49,180.58 L358.94,181.72 L359.38,182.86 L359.83,183.98 L360.27,185.09 L360.72,186.18 L361.16,187.27 L361.61,188.34 L362.05,189.43 L362.50,190.52 L362.94,191.63 L363.39,192.76 L363.83,193.94 L364.28,195.17 L364.72,196.46 L365.17,197.82 L365.61,199.23 L366.06,200.67 L366.50,202.13 L366.95,203.57 L367.39,204.98 L367.84,206.34 L368.28,207.66 L368.72,208.94 L369.17,210.18 L369.61,211.40 L370.06,212.58 L370.50,213.72 L370.95,214.82 L371.39,215.89 L371.84,216.93 L372.28,217.94 L372.73,218.92 L373.17,219.89 L373.62,220.83 L374.06,221.74 L374.51,222.63 L374.95,223.48 L375.40,224.30 L375.84,225.08 L376.29,225.82 L376.73,226.52 L377.18,227.19 L377.62,227.83 L378.07,228.45 L378.51,229.04 L378.96,229.61 L379.40,230.15 L379.84,230.67 L380.29,231.17 L380.73,231.64 L381.18,232.08 L381.62,232.50 L382.07,232.90 L382.51,233.29 L382.96,233.65 L383.40,233.99 L383.85,234.32 L384.29,234.63 L384.74,234.92 L385.18,235.19 L385.63,235.45 L386.07,235.69 L386.52,235.92 L386.96,236.14 L387.41,236.35 L387.85,236.55 L388.30,236.75 L388.74,236.93 L389.19,237.10 L389.63,237.26 L390.08,237.41 L390.52,237.54 L390.96,237.66 L391.41,237.76 L391.85,237.85 L392.30,237.94 L392.74,238.01 L393.19,238.08 L393.63,238.15 L394.08,238.21 L394.52,238.27 L394.97,238.33 L395.41,238.39 L395.86,238.44 L396.30,238.49 L396.75,238.53 L397.19,238.57 L397.64,238.61 L398.08,238.65 L398.53,238.69 L398.97,238.72 L399.42,238.74 L399.86,238.77 L400.31,238.79 L400.75,238.82 L401.20,238.84 L401.64,238.86 L402.08,238.88 L402.53,238.90 L402.97,238.91 L403.42,238.93 L403.86,238.95 L404.31,238.97 L404.75,238.98 L405.20,239.00 L405.64,239.02 L406.09,239.03 L406.53,239.05 L406.98,239.06 L407.42,239.07 L407.87,239.09 L408.31,239.10 L408.76,239.11 L409.20,239.12" stroke="#000000" stroke-width="1.15" stroke-dasharray="8,2.2" stroke-dashoffset="0.8"/>
<path d="M296.89,239.01 L297.33,238.84 L297.78,238.59 L298.22,238.27 L298.67,237.89 L299.11,237.45 L299.56,236.98 L300.00,236.48 L300.45,235.93 L300.89,235.35 L301.34,234.73 L301.78,234.05 L302.23,233.33 L302.67,232.57 L303.12,231.76 L303.56,230.91 L304.01,230.01 L304.45,229.08 L304.90,228.09 L305.34,227.04 L305.79,225.94 L306.23,224.78 L306.68,223.56 L307.12,222.29 L307.56,220.97 L308.01,219.60 L308.45,218.17 L308.90,216.70 L309.34,215.21 L309.79,213.72 L310.23,212.26 L310.68,210.85 L311.12,209.50 L311.57,208.20 L312.01,206.94 L312.46,205.71 L312.90,204.50 L313.35,203.29 L313.79,202.07 L314.24,200.84 L314.68,199.59 L315.13,198.32 L315.57,197.05 L316.02,195.76 L316.46,194.47 L316.91,193.18 L317.35,191.88 L317.80,190.59 L318.24,189.31 L318.68,188.02 L319.13,186.73 L319.57,185.43 L320.02,184.11 L320.46,182.77 L320.91,181.41 L321.35,180.02 L321.80,178.62 L322.24,177.20 L322.69,175.77 L323.13,174.34 L323.58,172.90 L324.02,171.47 L324.47,170.05 L324.91,168.62 L325.36,167.20 L325.80,165.78 L326.25,164.36 L326.69,162.93 L327.14,161.51 L327.58,160.12 L328.03,158.77 L328.47,157.48 L328.92,156.26 L329.36,155.12 L329.80,154.04 L330.25,153.02 L330.69,152.04 L331.14,151.10 L331.58,150.21 L332.03,149.36 L332.47,148.57 L332.92,147.85 L333.36,147.19 L333.81,146.61 L334.25,146.09 L334.70,145.63 L335.14,145.22 L335.59,144.84 L336.03,144.49 L336.48,144.16 L336.92,143.87 L337.37,143.60 L337.81,143.37 L338.26,143.18 L338.70,143.04 L339.15,142.94 L339.59,142.88 L340.04,142.85 L340.48,142.84 L340.92,142.85 L341.37,142.89 L341.81,142.97 L342.26,143.09 L342.70,143.25 L343.15,143.46 L343.59,143.70 L344.04,143.98 L344.48,144.28 L344.93,144.62 L345.37,145.00 L345.82,145.42 L346.26,145.90 L346.71,146.42 L347.15,147.00 L347.60,147.63 L348.04,148.31 L348.49,149.07 L348.93,149.92 L349.38,150.86 L349.82,151.89 L350.27,152.99 L350.71,154.17 L351.16,155.40 L351.60,156.68 L352.04,157.99 L352.49,159.33 L352.93,160.70 L353.38,162.07 L353.82,163.43 L354.27,164.80 L354.71,166.16 L355.16,167.51 L355.60,168.86 L356.05,170.22 L356.49,171.57 L356.94,172.92 L357.38,174.27 L357.83,175.61 L358.27,176.94 L358.72,178.26 L359.16,179.57 L359.61,180.86 L360.05,182.13 L360.50,183.39 L360.94,184.62 L361.39,185.85 L361.83,187.07 L362.28,188.30 L362.72,189.54 L363.16,190.80 L363.61,192.09 L364.05,193.42 L364.50,194.80 L364.94,196.23 L365.39,197.71 L365.83,199.23 L366.28,200.76 L366.72,202.28 L367.17,203.77 L367.61,205.21 L368.06,206.60 L368.50,207.95 L368.95,209.26 L369.39,210.54 L369.84,211.78 L370.28,212.98 L370.73,214.14 L371.17,215.26 L371.62,216.34 L372.06,217.38 L372.51,218.40 L372.95,219.39 L373.40,220.35 L373.84,221.28 L374.28,222.19 L374.73,223.06 L375.17,223.90 L375.62,224.69 L376.06,225.45 L376.51,226.17 L376.95,226.86 L377.40,227.52 L377.84,228.15 L378.29,228.75 L378.73,229.33 L379.18,229.88 L379.62,230.41 L380.07,230.92 L380.51,231.40 L380.96,231.86 L381.40,232.30 L381.85,232.71 L382.29,233.10 L382.74,233.47 L383.18,233.82 L383.63,234.16 L384.07,234.48 L384.52,234.78 L384.96,235.06 L385.40,235.32 L385.85,235.57 L386.29,235.81 L386.74,236.03 L387.18,236.25 L387.63,236.45 L388.07,236.65 L388.52,236.84 L388.96,237.02 L389.41,237.19 L389.85,237.34 L390.30,237.48 L390.74,237.60 L391.19,237.71 L391.63,237.81 L392.08,237.90 L392.52,237.97 L392.97,238.05 L393.41,238.12 L393.86,238.18 L394.30,238.24 L394.75,238.30 L395.19,238.36 L395.64,238.41 L396.08,238.46 L396.52,238.51 L396.97,238.55 L397.41,238.59 L397.86,238.63 L398.30,238.67 L398.75,238.70 L399.19,238.73 L399.64,238.76 L400.08,238.78 L400.53,238.81 L400.97,238.83 L401.42,238.85 L401.86,238.87 L402.31,238.89 L402.75,238.90 L403.20,238.92 L403.64,238.94 L404.09,238.96 L404.53,238.98 L404.98,238.99 L405.42,239.01 L405.87,239.02 L406.31,239.04 L406.76,239.05 L407.20,239.07 L407.64,239.08 L408.09,239.09 L408.53,239.10 L408.98,239.12 L409.42,239.13 L409.87,239.14 L410.31,239.15 L410.76,239.15 L411.20,239.16 L411.65,239.17 L412.09,239.18 L412.54,239.18 L412.98,239.19 L413.43,239.19 L413.87,239.19 L414.32,239.20 L414.76,239.20 L415.21,239.20" stroke="#000000" stroke-width="3.0"/>
<path d="M298.67,239.13 L299.11,239.05 L299.56,238.93 L300.00,238.76 L300.45,238.53 L300.89,238.26 L301.34,237.94 L301.78,237.57 L302.23,237.18 L302.67,236.74 L303.12,236.27 L303.56,235.74 L304.01,235.14 L304.45,234.45 L304.90,233.66 L305.34,232.79 L305.79,231.83 L306.23,230.80 L306.68,229.71 L307.12,228.56 L307.56,227.34 L308.01,226.06 L308.45,224.72 L308.90,223.34 L309.34,221.95 L309.79,220.56 L310.23,219.17 L310.68,217.80 L311.12,216.45 L311.57,215.17 L312.01,213.96 L312.46,212.85 L312.90,211.84 L313.35,210.93 L313.79,210.10 L314.24,209.34 L314.68,208.66 L315.13,208.07 L315.57,207.57 L316.02,207.17 L316.46,206.85 L316.91,206.61 L317.35,206.42 L317.80,206.27 L318.24,206.17 L318.68,206.09 L319.13,206.06 L319.57,206.06 L320.02,206.11 L320.46,206.19 L320.91,206.31 L321.35,206.46 L321.80,206.63 L322.24,206.81 L322.69,206.99 L323.13,207.18 L323.58,207.37 L324.02,207.57 L324.47,207.77 L324.91,207.97 L325.36,208.19 L325.80,208.41 L326.25,208.64 L326.69,208.87 L327.14,209.10 L327.58,209.33 L328.03,209.57 L328.47,209.79 L328.92,210.02 L329.36,210.24 L329.80,210.45 L330.25,210.65 L330.69,210.85 L331.14,211.04 L331.58,211.22 L332.03,211.40 L332.47,211.59 L332.92,211.78 L333.36,211.97 L333.81,212.17 L334.25,212.39 L334.70,212.63 L335.14,212.88 L335.59,213.17 L336.03,213.48 L336.48,213.84 L336.92,214.24 L337.37,214.69 L337.81,215.18 L338.26,215.70 L338.70,216.26 L339.15,216.83 L339.59,217.42 L340.04,218.02 L340.48,218.62 L340.92,219.22 L341.37,219.82 L341.81,220.43 L342.26,221.05 L342.70,221.68 L343.15,222.31 L343.59,222.95 L344.04,223.59 L344.48,224.23 L344.93,224.86 L345.37,225.48 L345.82,226.09 L346.26,226.70 L346.71,227.29 L347.15,227.88 L347.60,228.46 L348.04,229.04 L348.49,229.61 L348.93,230.17 L349.38,230.70 L349.82,231.22 L350.27,231.70 L350.71,232.16 L351.16,232.59 L351.60,233.00 L352.04,233.38 L352.49,233.75 L352.93,234.10 L353.38,234.43 L353.82,234.75 L354.27,235.05 L354.71,235.33 L355.16,235.60 L355.60,235.85 L356.05,236.08 L356.49,236.30 L356.94,236.51 L357.38,236.70 L357.83,236.88 L358.27,237.05 L358.72,237.21 L359.16,237.37 L359.61,237.51 L360.05,237.65 L360.50,237.78 L360.94,237.90 L361.39,238.02 L361.83,238.12 L362.28,238.23 L362.72,238.32 L363.16,238.42 L363.61,238.50 L364.05,238.58 L364.50,238.66 L364.94,238.72 L365.39,238.78 L365.83,238.84 L366.28,238.89 L366.72,238.94 L367.17,238.98 L367.61,239.02 L368.06,239.06 L368.50,239.09 L368.95,239.12" stroke="#d60044" stroke-width="1.0"/>
<path d="M318.13,239.14 L318.57,239.00 L319.02,238.75 L319.46,238.41 L319.91,238.00 L320.35,237.53 L320.80,237.01 L321.24,236.42 L321.69,235.73 L322.13,234.93 L322.58,234.04 L323.02,233.07 L323.47,232.03 L323.91,230.94 L324.36,229.79 L324.80,228.54 L325.25,227.19 L325.69,225.72 L326.14,224.13 L326.58,222.40 L327.02,220.49 L327.47,218.37 L327.91,216.07 L328.36,213.58 L328.80,210.86 L329.25,207.92 L329.69,205.01 L330.14,202.46 L330.58,200.37 L331.03,198.51 L331.47,196.48 L331.92,194.02 L332.36,191.07 L332.81,187.64 L333.25,183.77 L333.70,179.42 L334.14,174.40 L334.59,168.06 L335.03,160.16 L335.48,152.27 L335.92,145.50 L336.37,140.02 L336.81,135.16 L337.26,130.26 L337.70,125.39 L338.14,120.68 L338.59,116.01 L339.03,111.15 L339.48,106.14 L339.92,101.32 L340.37,96.91 L340.81,92.99 L341.26,89.58 L341.70,86.50 L342.15,83.60 L342.59,80.87 L343.04,78.40 L343.48,76.29 L343.93,74.68 L344.37,73.67 L344.82,73.36 L345.26,73.78 L345.71,74.82 L346.15,76.34 L346.60,78.19 L347.04,80.28 L347.49,82.71 L347.93,85.64 L348.38,88.93 L348.82,92.31 L349.26,95.87 L349.71,99.97 L350.15,104.91 L350.60,110.55 L351.04,116.51 L351.49,122.48 L351.93,128.44 L352.38,134.43 L352.82,140.49 L353.27,146.48 L353.71,152.30 L354.16,158.24 L354.60,164.77 L355.05,171.66 L355.49,178.11 L355.94,183.77 L356.38,188.95 L356.83,194.01 L357.27,198.77 L357.72,202.94 L358.16,206.57 L358.61,209.82 L359.05,212.81 L359.50,215.60 L359.94,218.23 L360.38,220.67 L360.83,222.89 L361.27,224.87 L361.72,226.64 L362.16,228.24 L362.61,229.69 L363.05,231.01 L363.50,232.16 L363.94,233.18 L364.39,234.07 L364.83,234.88 L365.28,235.60 L365.72,236.22 L366.17,236.71 L366.61,237.08 L367.06,237.37 L367.50,237.62 L367.95,237.84 L368.39,238.04 L368.84,238.21 L369.28,238.36 L369.73,238.47 L370.17,238.56 L370.62,238.61 L371.06,238.65 L371.50,238.69 L371.95,238.72 L372.39,238.76 L372.84,238.79 L373.28,238.82 L373.73,238.85 L374.17,238.88 L374.62,238.91 L375.06,238.93 L375.51,238.96 L375.95,238.98 L376.40,239.00 L376.84,239.03 L377.29,239.04 L377.73,239.06 L378.18,239.08 L378.62,239.10 L379.07,239.11 L379.51,239.12" stroke="#d60044" stroke-width="1.15" stroke-dasharray="8,2.2" stroke-dashoffset="0"/>
<path d="M298.22,239.20 L298.67,239.18 L299.11,239.13 L299.56,239.02 L300.00,238.84 L300.45,238.61 L300.89,238.33 L301.34,237.99 L301.78,237.62 L302.23,237.22 L302.67,236.79 L303.12,236.34 L303.56,235.85 L304.01,235.29 L304.45,234.61 L304.90,233.81 L305.34,232.91 L305.79,231.92 L306.23,230.88 L306.68,229.79 L307.12,228.66 L307.56,227.46 L308.01,226.17 L308.45,224.79 L308.90,223.38 L309.34,221.95 L309.79,220.55 L310.23,219.13 L310.68,217.69 L311.12,216.24 L311.57,214.84 L312.01,213.52 L312.46,212.34 L312.90,211.30 L313.35,210.36 L313.79,209.48 L314.24,208.65 L314.68,207.89 L315.13,207.21 L315.57,206.62 L316.02,206.13 L316.46,205.75 L316.91,205.45 L317.35,205.21 L317.80,205.01 L318.24,204.83 L318.68,204.66 L319.13,204.49 L319.57,204.29 L320.02,204.06 L320.46,203.78 L320.91,203.44 L321.35,203.05 L321.80,202.59 L322.24,202.07 L322.69,201.51 L323.13,200.90 L323.58,200.24 L324.02,199.52 L324.47,198.71 L324.91,197.80 L325.36,196.80 L325.80,195.70 L326.25,194.48 L326.69,193.12 L327.14,191.55 L327.58,189.72 L328.03,187.61 L328.47,185.17 L328.92,182.40 L329.36,179.36 L329.80,176.16 L330.25,172.90 L330.69,169.62 L331.14,166.29 L331.58,162.91 L332.03,159.47 L332.47,156.00 L332.92,152.37 L333.36,148.26 L333.81,143.55 L334.25,138.56 L334.70,133.48 L335.14,128.25 L335.59,122.97 L336.03,118.01 L336.48,113.43 L336.92,108.98 L337.37,104.52 L337.81,100.17 L338.26,96.02 L338.70,91.87 L339.15,87.53 L339.59,83.13 L340.04,78.99 L340.48,75.30 L340.92,72.12 L341.37,69.41 L341.81,66.99 L342.26,64.75 L342.70,62.70 L343.15,60.94 L343.59,59.59 L344.04,58.76 L344.48,58.55 L344.93,59.06 L345.37,60.27 L345.82,62.06 L346.26,64.27 L346.71,66.77 L347.15,69.52 L347.60,72.66 L348.04,76.29 L348.49,80.18 L348.93,84.14 L349.38,88.33 L349.82,93.14 L350.27,98.77 L350.71,104.99 L351.16,111.40 L351.60,117.77 L352.04,124.11 L352.49,130.48 L352.93,136.90 L353.38,143.18 L353.82,149.30 L354.27,155.66 L354.71,162.62 L355.16,169.74 L355.60,176.25 L356.05,181.97 L356.49,187.33 L356.94,192.55 L357.38,197.37 L357.83,201.57 L358.27,205.26 L358.72,208.60 L359.16,211.69 L359.61,214.59 L360.05,217.31 L360.50,219.83 L360.94,222.11 L361.39,224.15 L361.83,225.98 L362.28,227.64 L362.72,229.16 L363.16,230.53 L363.61,231.73 L364.05,232.79 L364.50,233.73 L364.94,234.59 L365.39,235.35 L365.83,235.99 L366.28,236.50 L366.72,236.89 L367.17,237.21 L367.61,237.49 L368.06,237.75 L368.50,237.98 L368.95,238.17 L369.39,238.34 L369.84,238.46 L370.28,238.55 L370.73,238.62 L371.17,238.66 L371.62,238.70 L372.06,238.73 L372.51,238.77 L372.95,238.80 L373.40,238.83 L373.84,238.86 L374.28,238.89 L374.73,238.92 L375.17,238.94 L375.62,238.97 L376.06,238.99 L376.51,239.01 L376.95,239.03 L377.40,239.05 L377.84,239.07 L378.29,239.08 L378.73,239.10 L379.18,239.11 L379.62,239.13 L380.07,239.14 L380.51,239.15 L380.96,239.16 L381.40,239.17 L381.85,239.18 L382.29,239.18 L382.74,239.19 L383.18,239.19 L383.63,239.20 L384.07,239.20 L384.52,239.20" stroke="#d60044" stroke-width="3.0"/>
</g>
<g clip-path="url(#cpc)" fill="none" stroke-linejoin="round" stroke-linecap="butt">
<path d="M76.90,465.24 L77.12,465.23 L77.34,465.22 L77.56,465.22 L77.78,465.21 L78.01,465.20 L78.23,465.20 L78.45,465.19 L78.67,465.18 L78.90,465.18 L79.12,465.17 L79.34,465.16 L79.56,465.15 L79.78,465.15 L80.01,465.14 L80.23,465.13 L80.45,465.12 L80.67,465.11 L80.89,465.10 L81.12,465.10 L81.34,465.09 L81.56,465.08 L81.78,465.07 L82.00,465.06 L82.23,465.05 L82.45,465.04 L82.67,465.03 L82.89,465.02 L83.11,465.01 L83.34,465.00 L83.56,464.99 L83.78,464.98 L84.00,464.97 L84.22,464.96 L84.44,464.94 L84.67,464.93 L84.89,464.92 L85.11,464.91 L85.33,464.90 L85.56,464.89 L85.78,464.87 L86.00,464.86 L86.22,464.85 L86.44,464.83 L86.66,464.82 L86.89,464.81 L87.11,464.79 L87.33,464.78 L87.55,464.76 L87.78,464.75 L88.00,464.73 L88.22,464.72 L88.44,464.70 L88.66,464.69 L88.89,464.67 L89.11,464.66 L89.33,464.64 L89.55,464.62 L89.77,464.61 L90.00,464.59 L90.22,464.57 L90.44,464.55 L90.66,464.53 L90.88,464.52 L91.11,464.50 L91.33,464.48 L91.55,464.46 L91.77,464.44 L91.99,464.42 L92.22,464.40 L92.44,464.37 L92.66,464.35 L92.88,464.33 L93.10,464.31 L93.33,464.29 L93.55,464.26 L93.77,464.24 L93.99,464.21 L94.21,464.19 L94.44,464.16 L94.66,464.14 L94.88,464.11 L95.10,464.08 L95.32,464.06 L95.55,464.03 L95.77,464.00 L95.99,463.97 L96.21,463.94 L96.43,463.91 L96.66,463.87 L96.88,463.84 L97.10,463.81 L97.32,463.77 L97.54,463.74 L97.77,463.70 L97.99,463.66 L98.21,463.62 L98.43,463.58 L98.65,463.54 L98.88,463.50 L99.10,463.46 L99.32,463.41 L99.54,463.37 L99.76,463.32 L99.98,463.27 L100.21,463.22 L100.43,463.17 L100.65,463.12 L100.87,463.06 L101.09,463.00 L101.32,462.94 L101.54,462.88 L101.76,462.82 L101.98,462.75 L102.20,462.68 L102.43,462.61 L102.65,462.54 L102.87,462.46 L103.09,462.38 L103.31,462.30 L103.54,462.22 L103.76,462.13 L103.98,462.04 L104.20,461.94 L104.43,461.84 L104.65,461.74 L104.87,461.63 L105.09,461.52 L105.31,461.41 L105.54,461.29 L105.76,461.16 L105.98,461.03 L106.20,460.90 L106.42,460.76 L106.65,460.61 L106.87,460.46 L107.09,460.30 L107.31,460.14 L107.53,459.97 L107.75,459.79 L107.98,459.61 L108.20,459.42 L108.42,459.22 L108.64,459.01 L108.86,458.80 L109.09,458.57 L109.31,458.34 L109.53,458.10 L109.75,457.85 L109.97,457.59 L110.20,457.32 L110.42,457.04 L110.64,456.74 L110.86,456.44 L111.08,456.13 L111.31,455.80 L111.53,455.46 L111.75,455.11 L111.97,454.74 L112.19,454.37 L112.42,453.97 L112.64,453.57 L112.86,453.15 L113.08,452.71 L113.31,452.26 L113.53,451.79 L113.75,451.31 L113.97,450.81 L114.19,450.29 L114.42,449.75 L114.64,449.20 L114.86,448.63 L115.08,448.04 L115.30,447.42 L115.53,446.79 L115.75,446.14 L115.97,445.47 L116.19,444.77 L116.41,444.06 L116.64,443.32 L116.86,442.56 L117.08,441.78 L117.30,440.97 L117.52,440.14 L117.75,439.28 L117.97,438.40 L118.19,437.49 L118.41,436.56 L118.63,435.60 L118.86,434.61 L119.08,433.60 L119.30,432.56 L119.52,431.49 L119.74,430.40 L119.97,429.27 L120.19,428.12 L120.41,426.94 L120.63,425.72 L120.85,424.48 L121.08,423.21 L121.30,421.91 L121.52,420.58 L121.74,419.22 L121.96,417.82 L122.19,416.40 L122.41,414.95 L122.63,413.46 L122.85,411.95 L123.07,410.40 L123.30,408.83 L123.52,407.22 L123.74,405.59 L123.96,403.92 L124.18,402.23 L124.41,400.50 L124.63,398.75 L124.85,396.97 L125.07,395.16 L125.29,393.33 L125.52,391.47 L125.74,389.59 L125.96,387.68 L126.18,385.75 L126.40,383.79 L126.62,381.82 L126.85,379.82 L127.07,377.81 L127.29,375.78 L127.51,373.73 L127.73,371.67 L127.96,369.60 L128.18,367.52 L128.40,365.42 L128.62,363.33 L128.84,361.22 L129.07,359.11 L129.29,357.00 L129.51,354.89 L129.73,352.79 L129.95,350.69 L130.18,348.59 L130.40,346.51 L130.62,344.43 L130.84,342.37 L131.06,340.32 L131.29,338.30 L131.51,336.29 L131.73,334.30 L131.95,332.34 L132.18,330.41 L132.40,328.50 L132.62,326.62 L132.84,324.78 L133.06,322.97 L133.29,321.19 L133.51,319.45 L133.73,317.75 L133.95,316.09 L134.17,314.47 L134.40,312.90 L134.62,311.36 L134.84,309.87 L135.06,308.43 L135.28,307.03 L135.50,305.68 L135.73,304.38 L135.95,303.12 L136.17,301.91 L136.39,300.75 L136.62,299.64 L136.84,298.58 L137.06,297.57 L137.28,296.60 L137.50,295.69 L137.72,294.82 L137.95,294.00 L138.17,293.23 L138.39,292.50 L138.61,291.82 L138.83,291.19 L139.06,290.61 L139.28,290.07 L139.50,289.58 L139.72,289.13 L139.94,288.73 L140.17,288.37 L140.39,288.06 L140.61,287.79 L140.83,287.56 L141.06,287.38 L141.28,287.24 L141.50,287.14 L141.72,287.09 L141.94,287.08 L142.17,287.12 L142.39,287.23 L142.61,287.40 L142.83,287.62 L143.05,287.91 L143.27,288.26 L143.50,288.67 L143.72,289.13 L143.94,289.66 L144.16,290.24 L144.38,290.88 L144.61,291.58 L144.83,292.33 L145.05,293.14 L145.27,294.01 L145.50,294.93 L145.72,295.90 L145.94,296.92 L146.16,298.00 L146.38,299.13 L146.60,300.30 L146.83,301.52 L147.05,302.79 L147.27,304.11 L147.49,305.47 L147.71,306.87 L147.94,308.31 L148.16,309.80 L148.38,311.32 L148.60,312.88 L148.82,314.48 L149.05,316.11 L149.27,317.78 L149.49,319.47 L149.71,321.20 L149.94,322.96 L150.16,324.74 L150.38,326.55 L150.60,328.39 L150.82,330.25 L151.05,332.12 L151.27,334.02 L151.49,335.94 L151.71,337.87 L151.93,339.82 L152.16,341.78 L152.38,343.75 L152.60,345.73 L152.82,347.73 L153.04,349.73 L153.26,351.73 L153.49,353.74 L153.71,355.75 L153.93,357.77 L154.15,359.78 L154.38,361.79 L154.60,363.80 L154.82,365.81 L155.04,367.81 L155.26,369.80 L155.49,371.79 L155.71,373.76 L155.93,375.73 L156.15,377.68 L156.37,379.63 L156.59,381.55 L156.82,383.47 L157.04,385.36 L157.26,387.25 L157.48,389.11 L157.71,390.95 L157.93,392.78 L158.15,394.59 L158.37,396.37 L158.59,398.13 L158.81,399.87 L159.04,401.59 L159.26,403.28 L159.48,404.95 L159.70,406.59 L159.93,408.21 L160.15,409.81 L160.37,411.37 L160.59,412.91 L160.81,414.43 L161.03,415.91 L161.26,417.37 L161.48,418.80 L161.70,420.20 L161.92,421.58 L162.15,422.92 L162.37,424.24 L162.59,425.53 L162.81,426.79 L163.03,428.02 L163.25,429.23 L163.48,430.40 L163.70,431.55 L163.92,432.67 L164.14,433.76 L164.37,434.82 L164.59,435.86 L164.81,436.87 L165.03,437.85 L165.25,438.80 L165.48,439.73 L165.70,440.63 L165.92,441.51 L166.14,442.36 L166.36,443.19 L166.59,443.99 L166.81,444.76 L167.03,445.51 L167.25,446.24 L167.47,446.95 L167.70,447.63 L167.92,448.29 L168.14,448.93 L168.36,449.54 L168.58,450.14 L168.81,450.71 L169.03,451.27 L169.25,451.80 L169.47,452.32 L169.69,452.82 L169.92,453.30 L170.14,453.76 L170.36,454.20 L170.58,454.63 L170.80,455.04 L171.03,455.44 L171.25,455.82 L171.47,456.19 L171.69,456.54 L171.91,456.88 L172.13,457.20 L172.36,457.51 L172.58,457.81 L172.80,458.10 L173.02,458.37 L173.25,458.63 L173.47,458.89 L173.69,459.13 L173.91,459.36 L174.13,459.58 L174.35,459.79 L174.58,460.00 L174.80,460.19 L175.02,460.38 L175.24,460.56 L175.47,460.73 L175.69,460.89 L175.91,461.05 L176.13,461.20 L176.35,461.35 L176.57,461.48 L176.80,461.61 L177.02,461.74 L177.24,461.86 L177.46,461.98 L177.69,462.09 L177.91,462.19 L178.13,462.30 L178.35,462.39 L178.57,462.49 L178.79,462.58 L179.02,462.66 L179.24,462.75 L179.46,462.83 L179.68,462.90 L179.91,462.98 L180.13,463.05 L180.35,463.11 L180.57,463.18 L180.79,463.24 L181.01,463.30 L181.24,463.36 L181.46,463.42 L181.68,463.47 L181.90,463.53 L182.12,463.58 L182.35,463.63 L182.57,463.67 L182.79,463.72 L183.01,463.76 L183.24,463.81 L183.46,463.85 L183.68,463.89 L183.90,463.93 L184.12,463.97 L184.34,464.01 L184.57,464.04 L184.79,464.08 L185.01,464.11 L185.23,464.15 L185.46,464.18 L185.68,464.21 L185.90,464.24 L186.12,464.27 L186.34,464.30 L186.56,464.33 L186.79,464.36 L187.01,464.39 L187.23,464.42 L187.45,464.44 L187.68,464.47 L187.90,464.49 L188.12,464.52 L188.34,464.54 L188.56,464.57 L188.78,464.59 L189.01,464.61 L189.23,464.64 L189.45,464.66 L189.67,464.68 L189.90,464.70 L190.12,464.72 L190.34,464.74 L190.56,464.76 L190.78,464.78 L191.00,464.80 L191.23,464.82 L191.45,464.84 L191.67,464.85 L191.89,464.87 L192.12,464.89 L192.34,464.91 L192.56,464.92 L192.78,464.94 L193.00,464.95 L193.23,464.97 L193.45,464.98 L193.67,465.00 L193.89,465.01 L194.11,465.03 L194.34,465.04 L194.56,465.06 L194.78,465.07 L195.00,465.08 L195.22,465.09 L195.45,465.11 L195.67,465.12 L195.89,465.13 L196.11,465.14 L196.33,465.15 L196.56,465.16 L196.78,465.17 L197.00,465.18 L197.22,465.19 L197.44,465.20 L197.67,465.21 L197.89,465.22 L198.11,465.23 L198.33,465.24 L198.55,465.25 L198.78,465.26 L199.00,465.27 L199.22,465.27 L199.44,465.28 L199.66,465.29 L199.89,465.30 L200.11,465.30 L200.33,465.31 L200.55,465.32 L200.77,465.33 L201.00,465.33 L201.22,465.34 L201.44,465.34 L201.66,465.35 L201.88,465.36 L202.10,465.36 L202.33,465.37 L202.55,465.37 L202.77,465.38 L202.99,465.38 L202.99,465.50 L76.90,465.50 Z" fill="#000000" fill-opacity="0.2" stroke="none"/>
<path d="M78.67,465.40 L78.90,465.40 L79.12,465.40 L79.34,465.39 L79.56,465.39 L79.78,465.39 L80.01,465.39 L80.23,465.38 L80.45,465.38 L80.67,465.38 L80.89,465.37 L81.12,465.37 L81.34,465.37 L81.56,465.36 L81.78,465.36 L82.00,465.36 L82.23,465.35 L82.45,465.35 L82.67,465.35 L82.89,465.34 L83.11,465.34 L83.34,465.33 L83.56,465.33 L83.78,465.33 L84.00,465.32 L84.22,465.32 L84.44,465.31 L84.67,465.31 L84.89,465.30 L85.11,465.30 L85.33,465.30 L85.56,465.29 L85.78,465.29 L86.00,465.28 L86.22,465.27 L86.44,465.27 L86.66,465.26 L86.89,465.26 L87.11,465.25 L87.33,465.25 L87.55,465.24 L87.78,465.23 L88.00,465.23 L88.22,465.22 L88.44,465.22 L88.66,465.21 L88.89,465.20 L89.11,465.20 L89.33,465.19 L89.55,465.18 L89.77,465.17 L90.00,465.17 L90.22,465.16 L90.44,465.15 L90.66,465.14 L90.88,465.13 L91.11,465.12 L91.33,465.12 L91.55,465.11 L91.77,465.10 L91.99,465.09 L92.22,465.08 L92.44,465.07 L92.66,465.06 L92.88,465.05 L93.10,465.03 L93.33,465.02 L93.55,465.01 L93.77,465.00 L93.99,464.99 L94.21,464.97 L94.44,464.96 L94.66,464.95 L94.88,464.93 L95.10,464.92 L95.32,464.90 L95.55,464.89 L95.77,464.87 L95.99,464.86 L96.21,464.84 L96.43,464.82 L96.66,464.80 L96.88,464.78 L97.10,464.76 L97.32,464.74 L97.54,464.72 L97.77,464.70 L97.99,464.67 L98.21,464.65 L98.43,464.62 L98.65,464.60 L98.88,464.57 L99.10,464.54 L99.32,464.51 L99.54,464.48 L99.76,464.45 L99.98,464.42 L100.21,464.38 L100.43,464.34 L100.65,464.31 L100.87,464.27 L101.09,464.22 L101.32,464.18 L101.54,464.13 L101.76,464.09 L101.98,464.04 L102.20,463.98 L102.43,463.93 L102.65,463.87 L102.87,463.81 L103.09,463.75 L103.31,463.68 L103.54,463.61 L103.76,463.54 L103.98,463.47 L104.20,463.39 L104.43,463.31 L104.65,463.22 L104.87,463.13 L105.09,463.03 L105.31,462.93 L105.54,462.83 L105.76,462.72 L105.98,462.61 L106.20,462.49 L106.42,462.37 L106.65,462.24 L106.87,462.10 L107.09,461.96 L107.31,461.81 L107.53,461.65 L107.75,461.49 L107.98,461.32 L108.20,461.15 L108.42,460.96 L108.64,460.77 L108.86,460.57 L109.09,460.36 L109.31,460.14 L109.53,459.91 L109.75,459.67 L109.97,459.42 L110.20,459.16 L110.42,458.89 L110.64,458.61 L110.86,458.31 L111.08,458.01 L111.31,457.69 L111.53,457.36 L111.75,457.02 L111.97,456.66 L112.19,456.29 L112.42,455.90 L112.64,455.50 L112.86,455.08 L113.08,454.65 L113.31,454.20 L113.53,453.74 L113.75,453.25 L113.97,452.75 L114.19,452.23 L114.42,451.70 L114.64,451.14 L114.86,450.56 L115.08,449.97 L115.30,449.35 L115.53,448.72 L115.75,448.06 L115.97,447.38 L116.19,446.67 L116.41,445.95 L116.64,445.20 L116.86,444.43 L117.08,443.63 L117.30,442.81 L117.52,441.97 L117.75,441.09 L117.97,440.20 L118.19,439.28 L118.41,438.33 L118.63,437.35 L118.86,436.35 L119.08,435.32 L119.30,434.26 L119.52,433.18 L119.74,432.06 L119.97,430.92 L120.19,429.75 L120.41,428.55 L120.63,427.32 L120.85,426.07 L121.08,424.78 L121.30,423.47 L121.52,422.12 L121.74,420.75 L121.96,419.34 L122.19,417.91 L122.41,416.45 L122.63,414.96 L122.85,413.43 L123.07,411.89 L123.30,410.31 L123.52,408.70 L123.74,407.07 L123.96,405.40 L124.18,403.71 L124.41,402.00 L124.63,400.26 L124.85,398.49 L125.07,396.69 L125.29,394.87 L125.52,393.03 L125.74,391.16 L125.96,389.27 L126.18,387.36 L126.40,385.42 L126.62,383.47 L126.85,381.49 L127.07,379.50 L127.29,377.49 L127.51,375.46 L127.73,373.42 L127.96,371.36 L128.18,369.29 L128.40,367.21 L128.62,365.11 L128.84,363.00 L129.07,360.89 L129.29,358.77 L129.51,356.64 L129.73,354.51 L129.95,352.38 L130.18,350.24 L130.40,348.10 L130.62,345.97 L130.84,343.84 L131.06,341.71 L131.29,339.59 L131.51,337.47 L131.73,335.37 L131.95,333.28 L132.18,331.20 L132.40,329.13 L132.62,327.08 L132.84,325.05 L133.06,323.03 L133.29,321.04 L133.51,319.07 L133.73,317.13 L133.95,315.21 L134.17,313.32 L134.40,311.46 L134.62,309.63 L134.84,307.84 L135.06,306.08 L135.28,304.35 L135.50,302.67 L135.73,301.02 L135.95,299.42 L136.17,297.85 L136.39,296.34 L136.62,294.86 L136.84,293.44 L137.06,292.06 L137.28,290.74 L137.50,289.46 L137.72,288.24 L137.95,287.07 L138.17,285.96 L138.39,284.90 L138.61,283.90 L138.83,282.96 L139.06,282.08 L139.28,281.26 L139.50,280.50 L139.72,279.80 L139.94,279.17 L140.17,278.59 L140.39,278.08 L140.61,277.64 L140.83,277.26 L141.06,276.95 L141.28,276.70 L141.50,276.52 L141.72,276.40 L141.94,276.35 L142.17,276.37 L142.39,276.45 L142.61,276.60 L142.83,276.82 L143.05,277.10 L143.27,277.44 L143.50,277.86 L143.72,278.33 L143.94,278.87 L144.16,279.48 L144.38,280.15 L144.61,280.88 L144.83,281.68 L145.05,282.54 L145.27,283.45 L145.50,284.43 L145.72,285.47 L145.94,286.57 L146.16,287.72 L146.38,288.93 L146.60,290.20 L146.83,291.52 L147.05,292.89 L147.27,294.32 L147.49,295.80 L147.71,297.33 L147.94,298.91 L148.16,300.53 L148.38,302.20 L148.60,303.92 L148.82,305.68 L149.05,307.48 L149.27,309.32 L149.49,311.20 L149.71,313.11 L149.94,315.07 L150.16,317.05 L150.38,319.07 L150.60,321.12 L150.82,323.20 L151.05,325.31 L151.27,327.44 L151.49,329.59 L151.71,331.77 L151.93,333.97 L152.16,336.19 L152.38,338.42 L152.60,340.67 L152.82,342.93 L153.04,345.21 L153.26,347.49 L153.49,349.78 L153.71,352.08 L153.93,354.39 L154.15,356.69 L154.38,359.00 L154.60,361.31 L154.82,363.61 L155.04,365.91 L155.26,368.21 L155.49,370.49 L155.71,372.77 L155.93,375.04 L156.15,377.30 L156.37,379.54 L156.59,381.77 L156.82,383.98 L157.04,386.17 L157.26,388.35 L157.48,390.50 L157.71,392.63 L157.93,394.74 L158.15,396.82 L158.37,398.88 L158.59,400.91 L158.81,402.92 L159.04,404.89 L159.26,406.84 L159.48,408.75 L159.70,410.64 L159.93,412.49 L160.15,414.31 L160.37,416.09 L160.59,417.84 L160.81,419.55 L161.03,421.23 L161.26,422.88 L161.48,424.48 L161.70,426.05 L161.92,427.58 L162.15,429.08 L162.37,430.54 L162.59,431.96 L162.81,433.34 L163.03,434.68 L163.25,435.99 L163.48,437.26 L163.70,438.49 L163.92,439.68 L164.14,440.84 L164.37,441.96 L164.59,443.04 L164.81,444.09 L165.03,445.10 L165.25,446.07 L165.48,447.01 L165.70,447.91 L165.92,448.79 L166.14,449.62 L166.36,450.43 L166.59,451.20 L166.81,451.94 L167.03,452.65 L167.25,453.33 L167.47,453.98 L167.70,454.60 L167.92,455.20 L168.14,455.76 L168.36,456.30 L168.58,456.82 L168.81,457.31 L169.03,457.77 L169.25,458.21 L169.47,458.63 L169.69,459.03 L169.92,459.41 L170.14,459.76 L170.36,460.10 L170.58,460.42 L170.80,460.72 L171.03,461.01 L171.25,461.27 L171.47,461.53 L171.69,461.76 L171.91,461.99 L172.13,462.20 L172.36,462.40 L172.58,462.58 L172.80,462.75 L173.02,462.92 L173.25,463.07 L173.47,463.21 L173.69,463.35 L173.91,463.47 L174.13,463.59 L174.35,463.70 L174.58,463.80 L174.80,463.90 L175.02,463.99 L175.24,464.07 L175.47,464.15 L175.69,464.22 L175.91,464.29 L176.13,464.35 L176.35,464.41 L176.57,464.47 L176.80,464.52 L177.02,464.57 L177.24,464.62 L177.46,464.66 L177.69,464.70 L177.91,464.74 L178.13,464.77 L178.35,464.81 L178.57,464.84 L178.79,464.87 L179.02,464.90 L179.24,464.92 L179.46,464.95 L179.68,464.97 L179.91,465.00 L180.13,465.02 L180.35,465.04 L180.57,465.06 L180.79,465.08 L181.01,465.10 L181.24,465.11 L181.46,465.13 L181.68,465.15 L181.90,465.16 L182.12,465.18 L182.35,465.19 L182.57,465.20 L182.79,465.22 L183.01,465.23 L183.24,465.24 L183.46,465.25 L183.68,465.26 L183.90,465.27 L184.12,465.28 L184.34,465.29 L184.57,465.30 L184.79,465.31 L185.01,465.32 L185.23,465.33 L185.46,465.34 L185.68,465.35 L185.90,465.35 L186.12,465.36 L186.34,465.37 L186.56,465.38 L186.79,465.38 L187.01,465.39 L187.23,465.39 L187.45,465.40 L187.68,465.41 L187.90,465.41 L188.12,465.42 L188.34,465.42 L188.56,465.43 L188.78,465.43 L189.01,465.43 L189.23,465.44 L189.45,465.44 L189.67,465.45 L189.90,465.45 L190.12,465.45 L190.34,465.45 L190.56,465.46 L190.78,465.46 L191.00,465.46 L191.23,465.47 L191.45,465.47 L191.67,465.47 L191.89,465.47 L192.12,465.47 L192.12,465.50 L78.67,465.50 Z" fill="#008000" fill-opacity="0.2" stroke="none"/>
<path d="M105.59,465.31 L105.81,465.29 L106.03,465.27 L106.26,465.24 L106.48,465.22 L106.70,465.20 L106.92,465.17 L107.14,465.15 L107.37,465.12 L107.59,465.10 L107.81,465.07 L108.03,465.04 L108.25,465.01 L108.48,464.98 L108.70,464.95 L108.92,464.92 L109.14,464.89 L109.36,464.85 L109.59,464.81 L109.81,464.77 L110.03,464.73 L110.25,464.68 L110.47,464.62 L110.70,464.57 L110.92,464.51 L111.14,464.45 L111.36,464.38 L111.58,464.31 L111.81,464.24 L112.03,464.16 L112.25,464.09 L112.47,464.00 L112.69,463.92 L112.92,463.83 L113.14,463.75 L113.36,463.65 L113.58,463.56 L113.80,463.46 L114.03,463.37 L114.25,463.27 L114.47,463.16 L114.69,463.06 L114.91,462.95 L115.14,462.84 L115.36,462.73 L115.58,462.61 L115.80,462.49 L116.02,462.37 L116.25,462.24 L116.47,462.10 L116.69,461.95 L116.91,461.80 L117.13,461.64 L117.36,461.48 L117.58,461.31 L117.80,461.13 L118.02,460.94 L118.24,460.75 L118.47,460.56 L118.69,460.35 L118.91,460.15 L119.13,459.93 L119.35,459.72 L119.58,459.49 L119.80,459.26 L120.02,459.03 L120.24,458.80 L120.46,458.55 L120.69,458.31 L120.91,458.05 L121.13,457.80 L121.35,457.53 L121.57,457.25 L121.80,456.97 L122.02,456.68 L122.24,456.37 L122.46,456.06 L122.68,455.73 L122.91,455.40 L123.13,455.05 L123.35,454.70 L123.57,454.34 L123.79,453.97 L124.02,453.59 L124.24,453.20 L124.46,452.81 L124.68,452.41 L124.90,452.01 L125.13,451.60 L125.35,451.19 L125.57,450.77 L125.79,450.35 L126.01,449.91 L126.24,449.47 L126.46,449.02 L126.68,448.56 L126.90,448.09 L127.12,447.60 L127.35,447.09 L127.57,446.58 L127.79,446.05 L128.01,445.50 L128.23,444.95 L128.46,444.39 L128.68,443.82 L128.90,443.24 L129.12,442.66 L129.34,442.07 L129.57,441.48 L129.79,440.89 L130.01,440.30 L130.23,439.71 L130.45,439.13 L130.68,438.55 L130.90,437.98 L131.12,437.41 L131.34,436.85 L131.56,436.30 L131.79,435.77 L132.01,435.24 L132.23,434.74 L132.45,434.24 L132.67,433.77 L132.90,433.31 L133.12,432.87 L133.34,432.44 L133.56,432.03 L133.78,431.64 L134.01,431.26 L134.23,430.90 L134.45,430.54 L134.67,430.20 L134.89,429.86 L135.12,429.53 L135.34,429.21 L135.56,428.90 L135.78,428.59 L136.00,428.28 L136.23,427.99 L136.45,427.69 L136.67,427.40 L136.89,427.12 L137.11,426.84 L137.34,426.56 L137.56,426.28 L137.78,426.00 L138.00,425.73 L138.22,425.46 L138.45,425.18 L138.67,424.91 L138.89,424.64 L139.11,424.36 L139.33,424.09 L139.56,423.82 L139.78,423.54 L140.00,423.27 L140.22,422.99 L140.44,422.72 L140.67,422.45 L140.89,422.18 L141.11,421.91 L141.33,421.64 L141.55,421.38 L141.78,421.12 L142.00,420.86 L142.22,420.61 L142.44,420.38 L142.66,420.17 L142.89,419.99 L143.11,419.87 L143.33,419.80 L143.55,419.80 L143.77,419.87 L144.00,419.99 L144.22,420.17 L144.44,420.38 L144.66,420.61 L144.88,420.86 L145.11,421.12 L145.33,421.38 L145.55,421.64 L145.77,421.91 L145.99,422.18 L146.22,422.45 L146.44,422.72 L146.66,422.99 L146.88,423.27 L147.10,423.54 L147.33,423.82 L147.55,424.09 L147.77,424.36 L147.99,424.64 L148.21,424.91 L148.44,425.18 L148.66,425.46 L148.88,425.73 L149.10,426.00 L149.32,426.28 L149.55,426.56 L149.77,426.84 L149.99,427.12 L150.21,427.40 L150.43,427.69 L150.66,427.99 L150.88,428.28 L151.10,428.59 L151.32,428.90 L151.54,429.21 L151.77,429.53 L151.99,429.86 L152.21,430.20 L152.43,430.54 L152.65,430.90 L152.88,431.26 L153.10,431.64 L153.32,432.03 L153.54,432.44 L153.76,432.87 L153.99,433.31 L154.21,433.77 L154.43,434.24 L154.65,434.74 L154.87,435.24 L155.10,435.77 L155.32,436.30 L155.54,436.85 L155.76,437.41 L155.98,437.98 L156.21,438.55 L156.43,439.13 L156.65,439.71 L156.87,440.30 L157.09,440.89 L157.32,441.48 L157.54,442.07 L157.76,442.66 L157.98,443.24 L158.20,443.82 L158.43,444.39 L158.65,444.95 L158.87,445.50 L159.09,446.05 L159.31,446.58 L159.54,447.09 L159.76,447.60 L159.98,448.09 L160.20,448.56 L160.42,449.02 L160.65,449.47 L160.87,449.91 L161.09,450.35 L161.31,450.77 L161.53,451.19 L161.76,451.60 L161.98,452.01 L162.20,452.41 L162.42,452.81 L162.64,453.20 L162.87,453.59 L163.09,453.97 L163.31,454.34 L163.53,454.70 L163.75,455.05 L163.98,455.40 L164.20,455.73 L164.42,456.06 L164.64,456.37 L164.86,456.68 L165.09,456.97 L165.31,457.25 L165.53,457.53 L165.75,457.80 L165.97,458.05 L166.20,458.31 L166.42,458.55 L166.64,458.80 L166.86,459.03 L167.08,459.26 L167.31,459.49 L167.53,459.72 L167.75,459.93 L167.97,460.15 L168.19,460.35 L168.42,460.56 L168.64,460.75 L168.86,460.94 L169.08,461.13 L169.30,461.31 L169.53,461.48 L169.75,461.64 L169.97,461.80 L170.19,461.95 L170.41,462.10 L170.64,462.24 L170.86,462.37 L171.08,462.49 L171.30,462.61 L171.52,462.73 L171.75,462.84 L171.97,462.95 L172.19,463.06 L172.41,463.16 L172.63,463.27 L172.86,463.37 L173.08,463.46 L173.30,463.56 L173.52,463.65 L173.74,463.75 L173.97,463.83 L174.19,463.92 L174.41,464.00 L174.63,464.09 L174.85,464.16 L175.08,464.24 L175.30,464.31 L175.52,464.38 L175.74,464.45 L175.96,464.51 L176.19,464.57 L176.41,464.62 L176.63,464.68 L176.85,464.73 L177.07,464.77 L177.30,464.81 L177.52,464.85 L177.74,464.89 L177.96,464.92 L178.18,464.95 L178.41,464.98 L178.63,465.01 L178.85,465.04 L179.07,465.07 L179.29,465.10 L179.52,465.12 L179.74,465.15 L179.96,465.17 L180.18,465.20 L180.40,465.22 L180.63,465.24 L180.85,465.27 L181.07,465.29 L181.29,465.31" stroke="#000000" stroke-width="1.0"/>
<path d="M74.01,465.31 L74.23,465.30 L74.46,465.30 L74.68,465.29 L74.90,465.29 L75.12,465.28 L75.34,465.28 L75.56,465.27 L75.79,465.27 L76.01,465.26 L76.23,465.25 L76.45,465.25 L76.68,465.24 L76.90,465.24 L77.12,465.23 L77.34,465.22 L77.56,465.22 L77.78,465.21 L78.01,465.20 L78.23,465.20 L78.45,465.19 L78.67,465.18 L78.90,465.18 L79.12,465.17 L79.34,465.16 L79.56,465.15 L79.78,465.15 L80.01,465.14 L80.23,465.13 L80.45,465.12 L80.67,465.11 L80.89,465.10 L81.12,465.10 L81.34,465.09 L81.56,465.08 L81.78,465.07 L82.00,465.06 L82.23,465.05 L82.45,465.04 L82.67,465.03 L82.89,465.02 L83.11,465.01 L83.34,465.00 L83.56,464.99 L83.78,464.98 L84.00,464.97 L84.22,464.96 L84.44,464.94 L84.67,464.93 L84.89,464.92 L85.11,464.91 L85.33,464.90 L85.56,464.89 L85.78,464.87 L86.00,464.86 L86.22,464.85 L86.44,464.83 L86.66,464.82 L86.89,464.81 L87.11,464.79 L87.33,464.78 L87.55,464.76 L87.78,464.75 L88.00,464.73 L88.22,464.72 L88.44,464.70 L88.66,464.69 L88.89,464.67 L89.11,464.66 L89.33,464.64 L89.55,464.62 L89.77,464.61 L90.00,464.59 L90.22,464.57 L90.44,464.55 L90.66,464.53 L90.88,464.52 L91.11,464.50 L91.33,464.48 L91.55,464.46 L91.77,464.44 L91.99,464.42 L92.22,464.40 L92.44,464.37 L92.66,464.35 L92.88,464.33 L93.10,464.31 L93.33,464.29 L93.55,464.26 L93.77,464.24 L93.99,464.21 L94.21,464.19 L94.44,464.16 L94.66,464.14 L94.88,464.11 L95.10,464.08 L95.32,464.06 L95.55,464.03 L95.77,464.00 L95.99,463.97 L96.21,463.94 L96.43,463.91 L96.66,463.87 L96.88,463.84 L97.10,463.81 L97.32,463.77 L97.54,463.74 L97.77,463.70 L97.99,463.66 L98.21,463.62 L98.43,463.58 L98.65,463.54 L98.88,463.50 L99.10,463.46 L99.32,463.41 L99.54,463.37 L99.76,463.32 L99.98,463.27 L100.21,463.22 L100.43,463.17 L100.65,463.12 L100.87,463.06 L101.09,463.00 L101.32,462.94 L101.54,462.88 L101.76,462.82 L101.98,462.76 L102.20,462.69 L102.43,462.62 L102.65,462.55 L102.87,462.48 L103.09,462.41 L103.31,462.34 L103.54,462.26 L103.76,462.19 L103.98,462.11 L104.20,462.03 L104.43,461.94 L104.65,461.85 L104.87,461.76 L105.09,461.67 L105.31,461.57 L105.54,461.47 L105.76,461.37 L105.98,461.26 L106.20,461.15 L106.42,461.03 L106.65,460.91 L106.87,460.78 L107.09,460.65 L107.31,460.51 L107.53,460.37 L107.75,460.22 L107.98,460.06 L108.20,459.90 L108.42,459.73 L108.64,459.55 L108.86,459.37 L109.09,459.18 L109.31,458.98 L109.53,458.78 L109.75,458.57 L109.97,458.35 L110.20,458.13 L110.42,457.90 L110.64,457.66 L110.86,457.42 L111.08,457.16 L111.31,456.90 L111.53,456.63 L111.75,456.35 L111.97,456.06 L112.19,455.76 L112.42,455.45 L112.64,455.13 L112.86,454.79 L113.08,454.44 L113.31,454.08 L113.53,453.71 L113.75,453.32 L113.97,452.92 L114.19,452.50 L114.42,452.07 L114.64,451.62 L114.86,451.15 L115.08,450.67 L115.30,450.17 L115.53,449.65 L115.75,449.12 L115.97,448.57 L116.19,448.01 L116.41,447.43 L116.64,446.83 L116.86,446.22 L117.08,445.59 L117.30,444.95 L117.52,444.28 L117.75,443.60 L117.97,442.91 L118.19,442.19 L118.41,441.45 L118.63,440.69 L118.86,439.91 L119.08,439.11 L119.30,438.29 L119.52,437.44 L119.74,436.57 L119.97,435.68 L120.19,434.76 L120.41,433.82 L120.63,432.85 L120.85,431.86 L121.08,430.85 L121.30,429.81 L121.52,428.75 L121.74,427.67 L121.96,426.57 L122.19,425.45 L122.41,424.31 L122.63,423.15 L122.85,421.97 L123.07,420.76 L123.30,419.54 L123.52,418.30 L123.74,417.03 L123.96,415.74 L124.18,414.43 L124.41,413.09 L124.63,411.74 L124.85,410.36 L125.07,408.96 L125.29,407.54 L125.52,406.09 L125.74,404.63 L125.96,403.15 L126.18,401.66 L126.40,400.15 L126.62,398.64 L126.85,397.11 L127.07,395.59 L127.29,394.06 L127.51,392.52 L127.73,390.99 L127.96,389.46 L128.18,387.93 L128.40,386.39 L128.62,384.86 L128.84,383.33 L129.07,381.81 L129.29,380.28 L129.51,378.76 L129.73,377.25 L129.95,375.74 L130.18,374.23 L130.40,372.73 L130.62,371.24 L130.84,369.75 L131.06,368.27 L131.29,366.81 L131.51,365.35 L131.73,363.90 L131.95,362.47 L132.18,361.05 L132.40,359.64 L132.62,358.24 L132.84,356.86 L133.06,355.49 L133.29,354.15 L133.51,352.82 L133.73,351.52 L133.95,350.24 L134.17,348.99 L134.40,347.77 L134.62,346.58 L134.84,345.43 L135.06,344.31 L135.28,343.24 L135.50,342.21 L135.73,341.21 L135.95,340.26 L136.17,339.35 L136.39,338.49 L136.62,337.67 L136.84,336.89 L137.06,336.16 L137.28,335.48 L137.50,334.84 L137.72,334.25 L137.95,333.70 L138.17,333.20 L138.39,332.75 L138.61,332.35 L138.83,331.99 L139.06,331.68 L139.28,331.41 L139.50,331.19 L139.72,331.02 L139.94,330.89 L140.17,330.81 L140.39,330.77 L140.61,330.77 L140.83,330.81 L141.06,330.90 L141.28,331.03 L141.50,331.20 L141.72,331.40 L141.94,331.65 L142.17,331.95 L142.39,332.29 L142.61,332.68 L142.83,333.09 L143.05,333.52 L143.27,333.95 L143.50,334.37 L143.72,334.79 L143.94,335.20 L144.16,335.62 L144.38,336.06 L144.61,336.53 L144.83,337.04 L145.05,337.59 L145.27,338.20 L145.50,338.85 L145.72,339.56 L145.94,340.31 L146.16,341.12 L146.38,341.97 L146.60,342.88 L146.83,343.82 L147.05,344.82 L147.27,345.86 L147.49,346.94 L147.71,348.07 L147.94,349.24 L148.16,350.45 L148.38,351.70 L148.60,352.99 L148.82,354.32 L149.05,355.68 L149.27,357.07 L149.49,358.49 L149.71,359.94 L149.94,361.41 L150.16,362.91 L150.38,364.43 L150.60,365.98 L150.82,367.54 L151.05,369.11 L151.27,370.70 L151.49,372.31 L151.71,373.92 L151.93,375.54 L152.16,377.17 L152.38,378.80 L152.60,380.43 L152.82,382.06 L153.04,383.68 L153.26,385.30 L153.49,386.90 L153.71,388.49 L153.93,390.07 L154.15,391.63 L154.38,393.17 L154.60,394.69 L154.82,396.19 L155.04,397.67 L155.26,399.13 L155.49,400.57 L155.71,401.99 L155.93,403.40 L156.15,404.78 L156.37,406.14 L156.59,407.49 L156.82,408.81 L157.04,410.12 L157.26,411.41 L157.48,412.69 L157.71,413.94 L157.93,415.18 L158.15,416.41 L158.37,417.62 L158.59,418.82 L158.81,420.00 L159.04,421.18 L159.26,422.34 L159.48,423.48 L159.70,424.62 L159.93,425.75 L160.15,426.86 L160.37,427.96 L160.59,429.05 L160.81,430.12 L161.03,431.17 L161.26,432.20 L161.48,433.21 L161.70,434.20 L161.92,435.17 L162.15,436.11 L162.37,437.03 L162.59,437.92 L162.81,438.80 L163.03,439.65 L163.25,440.48 L163.48,441.29 L163.70,442.08 L163.92,442.86 L164.14,443.61 L164.37,444.35 L164.59,445.06 L164.81,445.77 L165.03,446.45 L165.25,447.12 L165.48,447.77 L165.70,448.40 L165.92,449.02 L166.14,449.62 L166.36,450.19 L166.59,450.75 L166.81,451.29 L167.03,451.81 L167.25,452.31 L167.47,452.79 L167.70,453.25 L167.92,453.69 L168.14,454.12 L168.36,454.54 L168.58,454.93 L168.81,455.32 L169.03,455.69 L169.25,456.04 L169.47,456.38 L169.69,456.71 L169.92,457.03 L170.14,457.34 L170.36,457.64 L170.58,457.93 L170.80,458.21 L171.03,458.48 L171.25,458.74 L171.47,458.99 L171.69,459.22 L171.91,459.45 L172.13,459.67 L172.36,459.87 L172.58,460.07 L172.80,460.25 L173.02,460.43 L173.25,460.60 L173.47,460.76 L173.69,460.91 L173.91,461.05 L174.13,461.18 L174.35,461.31 L174.58,461.43 L174.80,461.55 L175.02,461.66 L175.24,461.77 L175.47,461.87 L175.69,461.96 L175.91,462.06 L176.13,462.15 L176.35,462.23 L176.57,462.32 L176.80,462.40 L177.02,462.48 L177.24,462.56 L177.46,462.64 L177.69,462.71 L177.91,462.78 L178.13,462.85 L178.35,462.92 L178.57,462.98 L178.79,463.04 L179.02,463.10 L179.24,463.16 L179.46,463.21 L179.68,463.26 L179.91,463.31 L180.13,463.35 L180.35,463.40 L180.57,463.44 L180.79,463.48 L181.01,463.52 L181.24,463.56 L181.46,463.60 L181.68,463.63 L181.90,463.67 L182.12,463.70 L182.35,463.73 L182.57,463.77 L182.79,463.80 L183.01,463.83 L183.24,463.86 L183.46,463.89 L183.68,463.92 L183.90,463.96 L184.12,463.99 L184.34,464.02 L184.57,464.05 L184.79,464.08 L185.01,464.12 L185.23,464.15 L185.46,464.18 L185.68,464.21 L185.90,464.24 L186.12,464.27 L186.34,464.30 L186.56,464.33 L186.79,464.36 L187.01,464.39 L187.23,464.42 L187.45,464.44 L187.68,464.47 L187.90,464.49 L188.12,464.52 L188.34,464.54 L188.56,464.57 L188.78,464.59 L189.01,464.61 L189.23,464.64 L189.45,464.66 L189.67,464.68 L189.90,464.70 L190.12,464.72 L190.34,464.74 L190.56,464.76 L190.78,464.78 L191.00,464.80 L191.23,464.82 L191.45,464.84 L191.67,464.85 L191.89,464.87 L192.12,464.89 L192.34,464.91 L192.56,464.92 L192.78,464.94 L193.00,464.95 L193.23,464.97 L193.45,464.98 L193.67,465.00 L193.89,465.01 L194.11,465.03 L194.34,465.04 L194.56,465.06 L194.78,465.07 L195.00,465.08 L195.22,465.09 L195.45,465.11 L195.67,465.12 L195.89,465.13 L196.11,465.14 L196.33,465.15 L196.56,465.16 L196.78,465.17 L197.00,465.18 L197.22,465.19 L197.44,465.20 L197.67,465.21 L197.89,465.22 L198.11,465.23 L198.33,465.24 L198.55,465.25 L198.78,465.26 L199.00,465.27 L199.22,465.27 L199.44,465.28 L199.66,465.29 L199.89,465.30 L200.11,465.30" stroke="#000000" stroke-width="1.15" stroke-dasharray="8,2.2" stroke-dashoffset="0.8"/>
<path d="M76.90,465.24 L77.12,465.23 L77.34,465.22 L77.56,465.22 L77.78,465.21 L78.01,465.20 L78.23,465.20 L78.45,465.19 L78.67,465.18 L78.90,465.18 L79.12,465.17 L79.34,465.16 L79.56,465.15 L79.78,465.15 L80.01,465.14 L80.23,465.13 L80.45,465.12 L80.67,465.11 L80.89,465.10 L81.12,465.10 L81.34,465.09 L81.56,465.08 L81.78,465.07 L82.00,465.06 L82.23,465.05 L82.45,465.04 L82.67,465.03 L82.89,465.02 L83.11,465.01 L83.34,465.00 L83.56,464.99 L83.78,464.98 L84.00,464.97 L84.22,464.96 L84.44,464.94 L84.67,464.93 L84.89,464.92 L85.11,464.91 L85.33,464.90 L85.56,464.89 L85.78,464.87 L86.00,464.86 L86.22,464.85 L86.44,464.83 L86.66,464.82 L86.89,464.81 L87.11,464.79 L87.33,464.78 L87.55,464.76 L87.78,464.75 L88.00,464.73 L88.22,464.72 L88.44,464.70 L88.66,464.69 L88.89,464.67 L89.11,464.66 L89.33,464.64 L89.55,464.62 L89.77,464.61 L90.00,464.59 L90.22,464.57 L90.44,464.55 L90.66,464.53 L90.88,464.52 L91.11,464.50 L91.33,464.48 L91.55,464.46 L91.77,464.44 L91.99,464.42 L92.22,464.40 L92.44,464.37 L92.66,464.35 L92.88,464.33 L93.10,464.31 L93.33,464.29 L93.55,464.26 L93.77,464.24 L93.99,464.21 L94.21,464.19 L94.44,464.16 L94.66,464.14 L94.88,464.11 L95.10,464.08 L95.32,464.06 L95.55,464.03 L95.77,464.00 L95.99,463.97 L96.21,463.94 L96.43,463.91 L96.66,463.87 L96.88,463.84 L97.10,463.81 L97.32,463.77 L97.54,463.74 L97.77,463.70 L97.99,463.66 L98.21,463.62 L98.43,463.58 L98.65,463.54 L98.88,463.50 L99.10,463.46 L99.32,463.41 L99.54,463.37 L99.76,463.32 L99.98,463.27 L100.21,463.22 L100.43,463.17 L100.65,463.12 L100.87,463.06 L101.09,463.00 L101.32,462.94 L101.54,462.88 L101.76,462.82 L101.98,462.75 L102.20,462.68 L102.43,462.61 L102.65,462.54 L102.87,462.46 L103.09,462.38 L103.31,462.30 L103.54,462.22 L103.76,462.13 L103.98,462.04 L104.20,461.94 L104.43,461.84 L104.65,461.74 L104.87,461.63 L105.09,461.52 L105.31,461.41 L105.54,461.29 L105.76,461.16 L105.98,461.03 L106.20,460.90 L106.42,460.76 L106.65,460.61 L106.87,460.46 L107.09,460.30 L107.31,460.14 L107.53,459.97 L107.75,459.79 L107.98,459.61 L108.20,459.42 L108.42,459.22 L108.64,459.01 L108.86,458.80 L109.09,458.57 L109.31,458.34 L109.53,458.10 L109.75,457.85 L109.97,457.59 L110.20,457.32 L110.42,457.04 L110.64,456.74 L110.86,456.44 L111.08,456.13 L111.31,455.80 L111.53,455.46 L111.75,455.11 L111.97,454.74 L112.19,454.37 L112.42,453.97 L112.64,453.57 L112.86,453.15 L113.08,452.71 L113.31,452.26 L113.53,451.79 L113.75,451.31 L113.97,450.81 L114.19,450.29 L114.42,449.75 L114.64,449.20 L114.86,448.63 L115.08,448.04 L115.30,447.42 L115.53,446.79 L115.75,446.14 L115.97,445.47 L116.19,444.77 L116.41,444.06 L116.64,443.32 L116.86,442.56 L117.08,441.78 L117.30,440.97 L117.52,440.14 L117.75,439.28 L117.97,438.40 L118.19,437.49 L118.41,436.56 L118.63,435.60 L118.86,434.61 L119.08,433.60 L119.30,432.56 L119.52,431.49 L119.74,430.40 L119.97,429.27 L120.19,428.12 L120.41,426.94 L120.63,425.72 L120.85,424.48 L121.08,423.21 L121.30,421.91 L121.52,420.58 L121.74,419.22 L121.96,417.82 L122.19,416.40 L122.41,414.95 L122.63,413.46 L122.85,411.95 L123.07,410.40 L123.30,408.83 L123.52,407.22 L123.74,405.59 L123.96,403.92 L124.18,402.23 L124.41,400.50 L124.63,398.75 L124.85,396.97 L125.07,395.16 L125.29,393.33 L125.52,391.47 L125.74,389.59 L125.96,387.68 L126.18,385.75 L126.40,383.79 L126.62,381.82 L126.85,379.82 L127.07,377.81 L127.29,375.78 L127.51,373.73 L127.73,371.67 L127.96,369.60 L128.18,367.52 L128.40,365.42 L128.62,363.33 L128.84,361.22 L129.07,359.11 L129.29,357.00 L129.51,354.89 L129.73,352.79 L129.95,350.69 L130.18,348.59 L130.40,346.51 L130.62,344.43 L130.84,342.37 L131.06,340.32 L131.29,338.30 L131.51,336.29 L131.73,334.30 L131.95,332.34 L132.18,330.41 L132.40,328.50 L132.62,326.62 L132.84,324.78 L133.06,322.97 L133.29,321.19 L133.51,319.45 L133.73,317.75 L133.95,316.09 L134.17,314.47 L134.40,312.90 L134.62,311.36 L134.84,309.87 L135.06,308.43 L135.28,307.03 L135.50,305.68 L135.73,304.38 L135.95,303.12 L136.17,301.91 L136.39,300.75 L136.62,299.64 L136.84,298.58 L137.06,297.57 L137.28,296.60 L137.50,295.69 L137.72,294.82 L137.95,294.00 L138.17,293.23 L138.39,292.50 L138.61,291.82 L138.83,291.19 L139.06,290.61 L139.28,290.07 L139.50,289.58 L139.72,289.13 L139.94,288.73 L140.17,288.37 L140.39,288.06 L140.61,287.79 L140.83,287.56 L141.06,287.38 L141.28,287.24 L141.50,287.14 L141.72,287.09 L141.94,287.08 L142.17,287.12 L142.39,287.23 L142.61,287.40 L142.83,287.62 L143.05,287.91 L143.27,288.26 L143.50,288.67 L143.72,289.13 L143.94,289.66 L144.16,290.24 L144.38,290.88 L144.61,291.58 L144.83,292.33 L145.05,293.14 L145.27,294.01 L145.50,294.93 L145.72,295.90 L145.94,296.92 L146.16,298.00 L146.38,299.13 L146.60,300.30 L146.83,301.52 L147.05,302.79 L147.27,304.11 L147.49,305.47 L147.71,306.87 L147.94,308.31 L148.16,309.80 L148.38,311.32 L148.60,312.88 L148.82,314.48 L149.05,316.11 L149.27,317.78 L149.49,319.47 L149.71,321.20 L149.94,322.96 L150.16,324.74 L150.38,326.55 L150.60,328.39 L150.82,330.25 L151.05,332.12 L151.27,334.02 L151.49,335.94 L151.71,337.87 L151.93,339.82 L152.16,341.78 L152.38,343.75 L152.60,345.73 L152.82,347.73 L153.04,349.73 L153.26,351.73 L153.49,353.74 L153.71,355.75 L153.93,357.77 L154.15,359.78 L154.38,361.79 L154.60,363.80 L154.82,365.81 L155.04,367.81 L155.26,369.80 L155.49,371.79 L155.71,373.76 L155.93,375.73 L156.15,377.68 L156.37,379.63 L156.59,381.55 L156.82,383.47 L157.04,385.36 L157.26,387.25 L157.48,389.11 L157.71,390.95 L157.93,392.78 L158.15,394.59 L158.37,396.37 L158.59,398.13 L158.81,399.87 L159.04,401.59 L159.26,403.28 L159.48,404.95 L159.70,406.59 L159.93,408.21 L160.15,409.81 L160.37,411.37 L160.59,412.91 L160.81,414.43 L161.03,415.91 L161.26,417.37 L161.48,418.80 L161.70,420.20 L161.92,421.58 L162.15,422.92 L162.37,424.24 L162.59,425.53 L162.81,426.79 L163.03,428.02 L163.25,429.23 L163.48,430.40 L163.70,431.55 L163.92,432.67 L164.14,433.76 L164.37,434.82 L164.59,435.86 L164.81,436.87 L165.03,437.85 L165.25,438.80 L165.48,439.73 L165.70,440.63 L165.92,441.51 L166.14,442.36 L166.36,443.19 L166.59,443.99 L166.81,444.76 L167.03,445.51 L167.25,446.24 L167.47,446.95 L167.70,447.63 L167.92,448.29 L168.14,448.93 L168.36,449.54 L168.58,450.14 L168.81,450.71 L169.03,451.27 L169.25,451.80 L169.47,452.32 L169.69,452.82 L169.92,453.30 L170.14,453.76 L170.36,454.20 L170.58,454.63 L170.80,455.04 L171.03,455.44 L171.25,455.82 L171.47,456.19 L171.69,456.54 L171.91,456.88 L172.13,457.20 L172.36,457.51 L172.58,457.81 L172.80,458.10 L173.02,458.37 L173.25,458.63 L173.47,458.89 L173.69,459.13 L173.91,459.36 L174.13,459.58 L174.35,459.79 L174.58,460.00 L174.80,460.19 L175.02,460.38 L175.24,460.56 L175.47,460.73 L175.69,460.89 L175.91,461.05 L176.13,461.20 L176.35,461.35 L176.57,461.48 L176.80,461.61 L177.02,461.74 L177.24,461.86 L177.46,461.98 L177.69,462.09 L177.91,462.19 L178.13,462.30 L178.35,462.39 L178.57,462.49 L178.79,462.58 L179.02,462.66 L179.24,462.75 L179.46,462.83 L179.68,462.90 L179.91,462.98 L180.13,463.05 L180.35,463.11 L180.57,463.18 L180.79,463.24 L181.01,463.30 L181.24,463.36 L181.46,463.42 L181.68,463.47 L181.90,463.53 L182.12,463.58 L182.35,463.63 L182.57,463.67 L182.79,463.72 L183.01,463.76 L183.24,463.81 L183.46,463.85 L183.68,463.89 L183.90,463.93 L184.12,463.97 L184.34,464.01 L184.57,464.04 L184.79,464.08 L185.01,464.11 L185.23,464.15 L185.46,464.18 L185.68,464.21 L185.90,464.24 L186.12,464.27 L186.34,464.30 L186.56,464.33 L186.79,464.36 L187.01,464.39 L187.23,464.42 L187.45,464.44 L187.68,464.47 L187.90,464.49 L188.12,464.52 L188.34,464.54 L188.56,464.57 L188.78,464.59 L189.01,464.61 L189.23,464.64 L189.45,464.66 L189.67,464.68 L189.90,464.70 L190.12,464.72 L190.34,464.74 L190.56,464.76 L190.78,464.78 L191.00,464.80 L191.23,464.82 L191.45,464.84 L191.67,464.85 L191.89,464.87 L192.12,464.89 L192.34,464.91 L192.56,464.92 L192.78,464.94 L193.00,464.95 L193.23,464.97 L193.45,464.98 L193.67,465.00 L193.89,465.01 L194.11,465.03 L194.34,465.04 L194.56,465.06 L194.78,465.07 L195.00,465.08 L195.22,465.09 L195.45,465.11 L195.67,465.12 L195.89,465.13 L196.11,465.14 L196.33,465.15 L196.56,465.16 L196.78,465.17 L197.00,465.18 L197.22,465.19 L197.44,465.20 L197.67,465.21 L197.89,465.22 L198.11,465.23 L198.33,465.24 L198.55,465.25 L198.78,465.26 L199.00,465.27 L199.22,465.27 L199.44,465.28 L199.66,465.29 L199.89,465.30 L200.11,465.30 L200.33,465.31 L200.55,465.32 L200.77,465.33 L201.00,465.33 L201.22,465.34 L201.44,465.34 L201.66,465.35 L201.88,465.36 L202.10,465.36 L202.33,465.37 L202.55,465.37 L202.77,465.38 L202.99,465.38" stroke="#000000" stroke-width="3.0"/>
<path d="M108.59,465.31 L108.81,465.29 L109.03,465.26 L109.25,465.24 L109.48,465.22 L109.70,465.20 L109.92,465.17 L110.14,465.15 L110.36,465.12 L110.59,465.10 L110.81,465.07 L111.03,465.04 L111.25,465.01 L111.47,464.97 L111.70,464.93 L111.92,464.90 L112.14,464.85 L112.36,464.81 L112.58,464.76 L112.81,464.71 L113.03,464.66 L113.25,464.61 L113.47,464.55 L113.69,464.50 L113.92,464.44 L114.14,464.37 L114.36,464.31 L114.58,464.24 L114.80,464.17 L115.03,464.10 L115.25,464.03 L115.47,463.95 L115.69,463.87 L115.91,463.79 L116.14,463.70 L116.36,463.61 L116.58,463.51 L116.80,463.41 L117.02,463.30 L117.25,463.18 L117.47,463.06 L117.69,462.93 L117.91,462.80 L118.13,462.66 L118.36,462.51 L118.58,462.35 L118.80,462.19 L119.02,462.03 L119.24,461.86 L119.47,461.68 L119.69,461.50 L119.91,461.32 L120.13,461.13 L120.35,460.93 L120.58,460.73 L120.80,460.53 L121.02,460.32 L121.24,460.10 L121.46,459.88 L121.69,459.64 L121.91,459.40 L122.13,459.15 L122.35,458.88 L122.57,458.61 L122.80,458.32 L123.02,458.01 L123.24,457.70 L123.46,457.37 L123.68,457.04 L123.91,456.69 L124.13,456.34 L124.35,455.98 L124.57,455.61 L124.79,455.23 L125.02,454.85 L125.24,454.46 L125.46,454.07 L125.68,453.66 L125.90,453.25 L126.13,452.83 L126.35,452.40 L126.57,451.95 L126.79,451.50 L127.01,451.03 L127.24,450.56 L127.46,450.07 L127.68,449.58 L127.90,449.08 L128.12,448.58 L128.35,448.06 L128.57,447.54 L128.79,447.02 L129.01,446.49 L129.23,445.95 L129.46,445.40 L129.68,444.85 L129.90,444.28 L130.12,443.70 L130.34,443.12 L130.57,442.53 L130.79,441.93 L131.01,441.32 L131.23,440.70 L131.45,440.09 L131.68,439.46 L131.90,438.84 L132.12,438.22 L132.34,437.59 L132.56,436.97 L132.79,436.34 L133.01,435.72 L133.23,435.11 L133.45,434.50 L133.67,433.90 L133.90,433.30 L134.12,432.71 L134.34,432.13 L134.56,431.57 L134.78,431.01 L135.01,430.46 L135.23,429.93 L135.45,429.40 L135.67,428.88 L135.89,428.37 L136.12,427.86 L136.34,427.36 L136.56,426.87 L136.78,426.38 L137.00,425.89 L137.23,425.41 L137.45,424.93 L137.67,424.46 L137.89,424.00 L138.11,423.54 L138.34,423.10 L138.56,422.66 L138.78,422.23 L139.00,421.80 L139.22,421.39 L139.45,420.99 L139.67,420.60 L139.89,420.22 L140.11,419.85 L140.33,419.49 L140.56,419.15 L140.78,418.81 L141.00,418.48 L141.22,418.16 L141.44,417.85 L141.67,417.55 L141.89,417.25 L142.11,416.97 L142.33,416.69 L142.55,416.43 L142.78,416.18 L143.00,415.97 L143.22,415.78 L143.44,415.65 L143.66,415.57 L143.89,415.55 L144.11,415.60 L144.33,415.71 L144.55,415.87 L144.77,416.07 L145.00,416.30 L145.22,416.56 L145.44,416.83 L145.66,417.11 L145.88,417.40 L146.11,417.70 L146.33,418.00 L146.55,418.32 L146.77,418.64 L146.99,418.98 L147.22,419.32 L147.44,419.67 L147.66,420.04 L147.88,420.41 L148.10,420.79 L148.33,421.19 L148.55,421.60 L148.77,422.01 L148.99,422.44 L149.21,422.88 L149.44,423.32 L149.66,423.77 L149.88,424.23 L150.10,424.70 L150.32,425.17 L150.55,425.65 L150.77,426.13 L150.99,426.62 L151.21,427.11 L151.43,427.61 L151.66,428.11 L151.88,428.62 L152.10,429.14 L152.32,429.66 L152.54,430.19 L152.77,430.73 L152.99,431.29 L153.21,431.85 L153.43,432.42 L153.65,433.01 L153.88,433.60 L154.10,434.20 L154.32,434.80 L154.54,435.42 L154.76,436.03 L154.99,436.65 L155.21,437.28 L155.43,437.90 L155.65,438.53 L155.87,439.15 L156.10,439.78 L156.32,440.40 L156.54,441.01 L156.76,441.62 L156.98,442.23 L157.21,442.82 L157.43,443.41 L157.65,443.99 L157.87,444.56 L158.09,445.13 L158.32,445.68 L158.54,446.22 L158.76,446.76 L158.98,447.28 L159.20,447.80 L159.43,448.32 L159.65,448.83 L159.87,449.33 L160.09,449.83 L160.31,450.32 L160.54,450.80 L160.76,451.27 L160.98,451.73 L161.20,452.18 L161.42,452.61 L161.65,453.04 L161.87,453.46 L162.09,453.87 L162.31,454.26 L162.53,454.66 L162.76,455.04 L162.98,455.42 L163.20,455.79 L163.42,456.16 L163.64,456.52 L163.87,456.87 L164.09,457.21 L164.31,457.54 L164.53,457.86 L164.75,458.17 L164.98,458.46 L165.20,458.75 L165.42,459.02 L165.64,459.28 L165.86,459.52 L166.09,459.76 L166.31,459.99 L166.53,460.21 L166.75,460.42 L166.97,460.63 L167.20,460.83 L167.42,461.03 L167.64,461.22 L167.86,461.41 L168.08,461.59 L168.31,461.77 L168.53,461.94 L168.75,462.11 L168.97,462.27 L169.19,462.43 L169.42,462.58 L169.64,462.73 L169.86,462.87 L170.08,463.00 L170.30,463.12 L170.53,463.24 L170.75,463.36 L170.97,463.46 L171.19,463.56 L171.41,463.66 L171.64,463.75 L171.86,463.83 L172.08,463.91 L172.30,463.99 L172.52,464.06 L172.75,464.14 L172.97,464.21 L173.19,464.27 L173.41,464.34 L173.63,464.40 L173.86,464.47 L174.08,464.52 L174.30,464.58 L174.52,464.64 L174.74,464.69 L174.97,464.74 L175.19,464.79 L175.41,464.83 L175.63,464.88 L175.85,464.92 L176.08,464.95 L176.30,464.99 L176.52,465.02 L176.74,465.05 L176.96,465.08 L177.19,465.11 L177.41,465.14 L177.63,465.16 L177.85,465.19 L178.07,465.21 L178.30,465.23 L178.52,465.25 L178.74,465.28 L178.96,465.30" stroke="#008000" stroke-width="1.0"/>
<path d="M84.83,465.31 L85.06,465.30 L85.28,465.30 L85.50,465.29 L85.72,465.29 L85.94,465.28 L86.17,465.28 L86.39,465.27 L86.61,465.27 L86.83,465.26 L87.05,465.25 L87.28,465.25 L87.50,465.24 L87.72,465.24 L87.94,465.23 L88.16,465.22 L88.39,465.22 L88.61,465.21 L88.83,465.20 L89.05,465.20 L89.27,465.19 L89.50,465.18 L89.72,465.18 L89.94,465.17 L90.16,465.16 L90.38,465.15 L90.61,465.14 L90.83,465.14 L91.05,465.13 L91.27,465.12 L91.49,465.11 L91.72,465.10 L91.94,465.09 L92.16,465.08 L92.38,465.07 L92.60,465.06 L92.83,465.05 L93.05,465.04 L93.27,465.03 L93.49,465.01 L93.71,465.00 L93.94,464.99 L94.16,464.98 L94.38,464.96 L94.60,464.95 L94.82,464.94 L95.05,464.92 L95.27,464.91 L95.49,464.89 L95.71,464.88 L95.93,464.86 L96.16,464.84 L96.38,464.82 L96.60,464.81 L96.82,464.79 L97.04,464.77 L97.27,464.75 L97.49,464.73 L97.71,464.70 L97.93,464.68 L98.15,464.66 L98.38,464.63 L98.60,464.61 L98.82,464.58 L99.04,464.55 L99.26,464.52 L99.49,464.49 L99.71,464.46 L99.93,464.42 L100.15,464.39 L100.37,464.35 L100.60,464.32 L100.82,464.28 L101.04,464.23 L101.26,464.19 L101.48,464.15 L101.71,464.10 L101.93,464.05 L102.15,464.00 L102.37,463.94 L102.59,463.89 L102.82,463.83 L103.04,463.76 L103.26,463.70 L103.48,463.63 L103.70,463.56 L103.93,463.49 L104.15,463.41 L104.37,463.33 L104.59,463.24 L104.81,463.15 L105.04,463.06 L105.26,462.97 L105.48,462.87 L105.70,462.77 L105.92,462.66 L106.15,462.55 L106.37,462.44 L106.59,462.32 L106.81,462.20 L107.03,462.07 L107.26,461.94 L107.48,461.80 L107.70,461.65 L107.92,461.50 L108.14,461.35 L108.37,461.18 L108.59,461.01 L108.81,460.83 L109.03,460.64 L109.25,460.45 L109.48,460.25 L109.70,460.03 L109.92,459.81 L110.14,459.58 L110.36,459.33 L110.59,459.08 L110.81,458.82 L111.03,458.55 L111.25,458.27 L111.47,457.97 L111.70,457.67 L111.92,457.35 L112.14,457.03 L112.36,456.69 L112.58,456.34 L112.81,455.97 L113.03,455.60 L113.25,455.21 L113.47,454.80 L113.69,454.38 L113.92,453.94 L114.14,453.49 L114.36,453.03 L114.58,452.54 L114.80,452.04 L115.03,451.52 L115.25,450.98 L115.47,450.43 L115.69,449.85 L115.91,449.26 L116.14,448.65 L116.36,448.02 L116.58,447.38 L116.80,446.71 L117.02,446.03 L117.25,445.33 L117.47,444.62 L117.69,443.88 L117.91,443.13 L118.13,442.35 L118.36,441.56 L118.58,440.74 L118.80,439.91 L119.02,439.05 L119.24,438.17 L119.47,437.27 L119.69,436.34 L119.91,435.39 L120.13,434.42 L120.35,433.42 L120.58,432.40 L120.80,431.36 L121.02,430.29 L121.24,429.20 L121.46,428.08 L121.69,426.95 L121.91,425.79 L122.13,424.62 L122.35,423.43 L122.57,422.22 L122.80,421.00 L123.02,419.76 L123.24,418.51 L123.46,417.23 L123.68,415.94 L123.91,414.63 L124.13,413.30 L124.35,411.95 L124.57,410.59 L124.79,409.20 L125.02,407.79 L125.24,406.37 L125.46,404.93 L125.68,403.47 L125.90,401.99 L126.13,400.51 L126.35,399.01 L126.57,397.51 L126.79,395.99 L127.01,394.47 L127.24,392.94 L127.46,391.40 L127.68,389.85 L127.90,388.30 L128.12,386.73 L128.35,385.16 L128.57,383.59 L128.79,382.01 L129.01,380.43 L129.23,378.85 L129.46,377.27 L129.68,375.70 L129.90,374.13 L130.12,372.57 L130.34,371.02 L130.57,369.48 L130.79,367.95 L131.01,366.42 L131.23,364.91 L131.45,363.42 L131.68,361.93 L131.90,360.46 L132.12,359.00 L132.34,357.55 L132.56,356.12 L132.79,354.71 L133.01,353.31 L133.23,351.93 L133.45,350.56 L133.67,349.22 L133.90,347.89 L134.12,346.58 L134.34,345.29 L134.56,344.02 L134.78,342.77 L135.01,341.55 L135.23,340.36 L135.45,339.19 L135.67,338.05 L135.89,336.95 L136.12,335.88 L136.34,334.85 L136.56,333.86 L136.78,332.91 L137.00,332.01 L137.23,331.15 L137.45,330.34 L137.67,329.58 L137.89,328.86 L138.11,328.19 L138.34,327.56 L138.56,326.99 L138.78,326.47 L139.00,325.99 L139.22,325.57 L139.45,325.19 L139.67,324.87 L139.89,324.60 L140.11,324.38 L140.33,324.21 L140.56,324.10 L140.78,324.04 L141.00,324.04 L141.22,324.10 L141.44,324.21 L141.67,324.38 L141.89,324.61 L142.11,324.89 L142.33,325.23 L142.55,325.63 L142.78,326.07 L143.00,326.55 L143.22,327.07 L143.44,327.60 L143.66,328.14 L143.89,328.68 L144.11,329.23 L144.33,329.77 L144.55,330.32 L144.77,330.90 L145.00,331.51 L145.22,332.16 L145.44,332.85 L145.66,333.60 L145.88,334.39 L146.11,335.23 L146.33,336.12 L146.55,337.06 L146.77,338.04 L146.99,339.07 L147.22,340.14 L147.44,341.25 L147.66,342.41 L147.88,343.60 L148.10,344.83 L148.33,346.09 L148.55,347.39 L148.77,348.72 L148.99,350.08 L149.21,351.48 L149.44,352.90 L149.66,354.36 L149.88,355.84 L150.10,357.36 L150.32,358.89 L150.55,360.46 L150.77,362.05 L150.99,363.66 L151.21,365.29 L151.43,366.94 L151.66,368.61 L151.88,370.30 L152.10,371.99 L152.32,373.70 L152.54,375.41 L152.77,377.13 L152.99,378.85 L153.21,380.57 L153.43,382.29 L153.65,384.00 L153.88,385.71 L154.10,387.42 L154.32,389.12 L154.54,390.81 L154.76,392.50 L154.99,394.18 L155.21,395.85 L155.43,397.52 L155.65,399.18 L155.87,400.82 L156.10,402.46 L156.32,404.08 L156.54,405.70 L156.76,407.31 L156.98,408.90 L157.21,410.48 L157.43,412.05 L157.65,413.61 L157.87,415.15 L158.09,416.68 L158.32,418.19 L158.54,419.69 L158.76,421.16 L158.98,422.62 L159.20,424.05 L159.43,425.46 L159.65,426.84 L159.87,428.20 L160.09,429.53 L160.31,430.83 L160.54,432.11 L160.76,433.36 L160.98,434.59 L161.20,435.79 L161.42,436.97 L161.65,438.12 L161.87,439.25 L162.09,440.34 L162.31,441.41 L162.53,442.45 L162.76,443.45 L162.98,444.43 L163.20,445.37 L163.42,446.29 L163.64,447.17 L163.87,448.02 L164.09,448.85 L164.31,449.64 L164.53,450.42 L164.75,451.16 L164.98,451.88 L165.20,452.58 L165.42,453.26 L165.64,453.91 L165.86,454.55 L166.09,455.16 L166.31,455.74 L166.53,456.30 L166.75,456.84 L166.97,457.35 L167.20,457.83 L167.42,458.29 L167.64,458.73 L167.86,459.14 L168.08,459.53 L168.31,459.90 L168.53,460.25 L168.75,460.57 L168.97,460.88 L169.19,461.17 L169.42,461.45 L169.64,461.71 L169.86,461.95 L170.08,462.18 L170.30,462.40 L170.53,462.60 L170.75,462.79 L170.97,462.97 L171.19,463.15 L171.41,463.31 L171.64,463.46 L171.86,463.60 L172.08,463.74 L172.30,463.86 L172.52,463.97 L172.75,464.08 L172.97,464.17 L173.19,464.26 L173.41,464.34 L173.63,464.41 L173.86,464.48 L174.08,464.54 L174.30,464.59 L174.52,464.64 L174.74,464.68 L174.97,464.73 L175.19,464.76 L175.41,464.80 L175.63,464.83 L175.85,464.86 L176.08,464.88 L176.30,464.91 L176.52,464.93 L176.74,464.95 L176.96,464.97 L177.19,464.99 L177.41,465.01 L177.63,465.03 L177.85,465.04 L178.07,465.05 L178.30,465.07 L178.52,465.08 L178.74,465.09 L178.96,465.09 L179.18,465.10 L179.41,465.11 L179.63,465.11 L179.85,465.12 L180.07,465.12 L180.29,465.13 L180.52,465.13 L180.74,465.14 L180.96,465.15 L181.18,465.15 L181.40,465.16 L181.63,465.17 L181.85,465.18 L182.07,465.19 L182.29,465.19 L182.51,465.21 L182.74,465.22 L182.96,465.23 L183.18,465.24 L183.40,465.25 L183.62,465.26 L183.85,465.27 L184.07,465.28 L184.29,465.29 L184.51,465.30" stroke="#008000" stroke-width="1.15" stroke-dasharray="8,2.2" stroke-dashoffset="0"/>
<path d="M78.67,465.40 L78.90,465.40 L79.12,465.40 L79.34,465.39 L79.56,465.39 L79.78,465.39 L80.01,465.39 L80.23,465.38 L80.45,465.38 L80.67,465.38 L80.89,465.37 L81.12,465.37 L81.34,465.37 L81.56,465.36 L81.78,465.36 L82.00,465.36 L82.23,465.35 L82.45,465.35 L82.67,465.35 L82.89,465.34 L83.11,465.34 L83.34,465.33 L83.56,465.33 L83.78,465.33 L84.00,465.32 L84.22,465.32 L84.44,465.31 L84.67,465.31 L84.89,465.30 L85.11,465.30 L85.33,465.30 L85.56,465.29 L85.78,465.29 L86.00,465.28 L86.22,465.27 L86.44,465.27 L86.66,465.26 L86.89,465.26 L87.11,465.25 L87.33,465.25 L87.55,465.24 L87.78,465.23 L88.00,465.23 L88.22,465.22 L88.44,465.22 L88.66,465.21 L88.89,465.20 L89.11,465.20 L89.33,465.19 L89.55,465.18 L89.77,465.17 L90.00,465.17 L90.22,465.16 L90.44,465.15 L90.66,465.14 L90.88,465.13 L91.11,465.12 L91.33,465.12 L91.55,465.11 L91.77,465.10 L91.99,465.09 L92.22,465.08 L92.44,465.07 L92.66,465.06 L92.88,465.05 L93.10,465.03 L93.33,465.02 L93.55,465.01 L93.77,465.00 L93.99,464.99 L94.21,464.97 L94.44,464.96 L94.66,464.95 L94.88,464.93 L95.10,464.92 L95.32,464.90 L95.55,464.89 L95.77,464.87 L95.99,464.86 L96.21,464.84 L96.43,464.82 L96.66,464.80 L96.88,464.78 L97.10,464.76 L97.32,464.74 L97.54,464.72 L97.77,464.70 L97.99,464.67 L98.21,464.65 L98.43,464.62 L98.65,464.60 L98.88,464.57 L99.10,464.54 L99.32,464.51 L99.54,464.48 L99.76,464.45 L99.98,464.42 L100.21,464.38 L100.43,464.34 L100.65,464.31 L100.87,464.27 L101.09,464.22 L101.32,464.18 L101.54,464.13 L101.76,464.09 L101.98,464.04 L102.20,463.98 L102.43,463.93 L102.65,463.87 L102.87,463.81 L103.09,463.75 L103.31,463.68 L103.54,463.61 L103.76,463.54 L103.98,463.47 L104.20,463.39 L104.43,463.31 L104.65,463.22 L104.87,463.13 L105.09,463.03 L105.31,462.93 L105.54,462.83 L105.76,462.72 L105.98,462.61 L106.20,462.49 L106.42,462.37 L106.65,462.24 L106.87,462.10 L107.09,461.96 L107.31,461.81 L107.53,461.65 L107.75,461.49 L107.98,461.32 L108.20,461.15 L108.42,460.96 L108.64,460.77 L108.86,460.57 L109.09,460.36 L109.31,460.14 L109.53,459.91 L109.75,459.67 L109.97,459.42 L110.20,459.16 L110.42,458.89 L110.64,458.61 L110.86,458.31 L111.08,458.01 L111.31,457.69 L111.53,457.36 L111.75,457.02 L111.97,456.66 L112.19,456.29 L112.42,455.90 L112.64,455.50 L112.86,455.08 L113.08,454.65 L113.31,454.20 L113.53,453.74 L113.75,453.25 L113.97,452.75 L114.19,452.23 L114.42,451.70 L114.64,451.14 L114.86,450.56 L115.08,449.97 L115.30,449.35 L115.53,448.72 L115.75,448.06 L115.97,447.38 L116.19,446.67 L116.41,445.95 L116.64,445.20 L116.86,444.43 L117.08,443.63 L117.30,442.81 L117.52,441.97 L117.75,441.09 L117.97,440.20 L118.19,439.28 L118.41,438.33 L118.63,437.35 L118.86,436.35 L119.08,435.32 L119.30,434.26 L119.52,433.18 L119.74,432.06 L119.97,430.92 L120.19,429.75 L120.41,428.55 L120.63,427.32 L120.85,426.07 L121.08,424.78 L121.30,423.47 L121.52,422.12 L121.74,420.75 L121.96,419.34 L122.19,417.91 L122.41,416.45 L122.63,414.96 L122.85,413.43 L123.07,411.89 L123.30,410.31 L123.52,408.70 L123.74,407.07 L123.96,405.40 L124.18,403.71 L124.41,402.00 L124.63,400.26 L124.85,398.49 L125.07,396.69 L125.29,394.87 L125.52,393.03 L125.74,391.16 L125.96,389.27 L126.18,387.36 L126.40,385.42 L126.62,383.47 L126.85,381.49 L127.07,379.50 L127.29,377.49 L127.51,375.46 L127.73,373.42 L127.96,371.36 L128.18,369.29 L128.40,367.21 L128.62,365.11 L128.84,363.00 L129.07,360.89 L129.29,358.77 L129.51,356.64 L129.73,354.51 L129.95,352.38 L130.18,350.24 L130.40,348.10 L130.62,345.97 L130.84,343.84 L131.06,341.71 L131.29,339.59 L131.51,337.47 L131.73,335.37 L131.95,333.28 L132.18,331.20 L132.40,329.13 L132.62,327.08 L132.84,325.05 L133.06,323.03 L133.29,321.04 L133.51,319.07 L133.73,317.13 L133.95,315.21 L134.17,313.32 L134.40,311.46 L134.62,309.63 L134.84,307.84 L135.06,306.08 L135.28,304.35 L135.50,302.67 L135.73,301.02 L135.95,299.42 L136.17,297.85 L136.39,296.34 L136.62,294.86 L136.84,293.44 L137.06,292.06 L137.28,290.74 L137.50,289.46 L137.72,288.24 L137.95,287.07 L138.17,285.96 L138.39,284.90 L138.61,283.90 L138.83,282.96 L139.06,282.08 L139.28,281.26 L139.50,280.50 L139.72,279.80 L139.94,279.17 L140.17,278.59 L140.39,278.08 L140.61,277.64 L140.83,277.26 L141.06,276.95 L141.28,276.70 L141.50,276.52 L141.72,276.40 L141.94,276.35 L142.17,276.37 L142.39,276.45 L142.61,276.60 L142.83,276.82 L143.05,277.10 L143.27,277.44 L143.50,277.86 L143.72,278.33 L143.94,278.87 L144.16,279.48 L144.38,280.15 L144.61,280.88 L144.83,281.68 L145.05,282.54 L145.27,283.45 L145.50,284.43 L145.72,285.47 L145.94,286.57 L146.16,287.72 L146.38,288.93 L146.60,290.20 L146.83,291.52 L147.05,292.89 L147.27,294.32 L147.49,295.80 L147.71,297.33 L147.94,298.91 L148.16,300.53 L148.38,302.20 L148.60,303.92 L148.82,305.68 L149.05,307.48 L149.27,309.32 L149.49,311.20 L149.71,313.11 L149.94,315.07 L150.16,317.05 L150.38,319.07 L150.60,321.12 L150.82,323.20 L151.05,325.31 L151.27,327.44 L151.49,329.59 L151.71,331.77 L151.93,333.97 L152.16,336.19 L152.38,338.42 L152.60,340.67 L152.82,342.93 L153.04,345.21 L153.26,347.49 L153.49,349.78 L153.71,352.08 L153.93,354.39 L154.15,356.69 L154.38,359.00 L154.60,361.31 L154.82,363.61 L155.04,365.91 L155.26,368.21 L155.49,370.49 L155.71,372.77 L155.93,375.04 L156.15,377.30 L156.37,379.54 L156.59,381.77 L156.82,383.98 L157.04,386.17 L157.26,388.35 L157.48,390.50 L157.71,392.63 L157.93,394.74 L158.15,396.82 L158.37,398.88 L158.59,400.91 L158.81,402.92 L159.04,404.89 L159.26,406.84 L159.48,408.75 L159.70,410.64 L159.93,412.49 L160.15,414.31 L160.37,416.09 L160.59,417.84 L160.81,419.55 L161.03,421.23 L161.26,422.88 L161.48,424.48 L161.70,426.05 L161.92,427.58 L162.15,429.08 L162.37,430.54 L162.59,431.96 L162.81,433.34 L163.03,434.68 L163.25,435.99 L163.48,437.26 L163.70,438.49 L163.92,439.68 L164.14,440.84 L164.37,441.96 L164.59,443.04 L164.81,444.09 L165.03,445.10 L165.25,446.07 L165.48,447.01 L165.70,447.91 L165.92,448.79 L166.14,449.62 L166.36,450.43 L166.59,451.20 L166.81,451.94 L167.03,452.65 L167.25,453.33 L167.47,453.98 L167.70,454.60 L167.92,455.20 L168.14,455.76 L168.36,456.30 L168.58,456.82 L168.81,457.31 L169.03,457.77 L169.25,458.21 L169.47,458.63 L169.69,459.03 L169.92,459.41 L170.14,459.76 L170.36,460.10 L170.58,460.42 L170.80,460.72 L171.03,461.01 L171.25,461.27 L171.47,461.53 L171.69,461.76 L171.91,461.99 L172.13,462.20 L172.36,462.40 L172.58,462.58 L172.80,462.75 L173.02,462.92 L173.25,463.07 L173.47,463.21 L173.69,463.35 L173.91,463.47 L174.13,463.59 L174.35,463.70 L174.58,463.80 L174.80,463.90 L175.02,463.99 L175.24,464.07 L175.47,464.15 L175.69,464.22 L175.91,464.29 L176.13,464.35 L176.35,464.41 L176.57,464.47 L176.80,464.52 L177.02,464.57 L177.24,464.62 L177.46,464.66 L177.69,464.70 L177.91,464.74 L178.13,464.77 L178.35,464.81 L178.57,464.84 L178.79,464.87 L179.02,464.90 L179.24,464.92 L179.46,464.95 L179.68,464.97 L179.91,465.00 L180.13,465.02 L180.35,465.04 L180.57,465.06 L180.79,465.08 L181.01,465.10 L181.24,465.11 L181.46,465.13 L181.68,465.15 L181.90,465.16 L182.12,465.18 L182.35,465.19 L182.57,465.20 L182.79,465.22 L183.01,465.23 L183.24,465.24 L183.46,465.25 L183.68,465.26 L183.90,465.27 L184.12,465.28 L184.34,465.29 L184.57,465.30 L184.79,465.31 L185.01,465.32 L185.23,465.33 L185.46,465.34 L185.68,465.35 L185.90,465.35 L186.12,465.36 L186.34,465.37 L186.56,465.38 L186.79,465.38 L187.01,465.39 L187.23,465.39 L187.45,465.40 L187.68,465.41 L187.90,465.41 L188.12,465.42 L188.34,465.42 L188.56,465.43 L188.78,465.43 L189.01,465.43 L189.23,465.44 L189.45,465.44 L189.67,465.45 L189.90,465.45 L190.12,465.45 L190.34,465.45 L190.56,465.46 L190.78,465.46 L191.00,465.46 L191.23,465.47 L191.45,465.47 L191.67,465.47 L191.89,465.47 L192.12,465.47" stroke="#008000" stroke-width="3.0"/>
</g>
<g clip-path="url(#cpd)" fill="none" stroke-linejoin="round" stroke-linecap="butt">
<path d="M343.48,465.24 L343.70,465.23 L343.93,465.22 L344.15,465.22 L344.37,465.21 L344.59,465.20 L344.82,465.20 L345.04,465.19 L345.26,465.18 L345.48,465.18 L345.71,465.17 L345.93,465.16 L346.15,465.15 L346.37,465.15 L346.60,465.14 L346.82,465.13 L347.04,465.12 L347.26,465.11 L347.49,465.10 L347.71,465.10 L347.93,465.09 L348.15,465.08 L348.38,465.07 L348.60,465.06 L348.82,465.05 L349.04,465.04 L349.26,465.03 L349.49,465.02 L349.71,465.01 L349.93,465.00 L350.15,464.99 L350.38,464.98 L350.60,464.97 L350.82,464.96 L351.04,464.94 L351.27,464.93 L351.49,464.92 L351.71,464.91 L351.93,464.90 L352.16,464.89 L352.38,464.87 L352.60,464.86 L352.82,464.85 L353.05,464.83 L353.27,464.82 L353.49,464.81 L353.71,464.79 L353.94,464.78 L354.16,464.76 L354.38,464.75 L354.60,464.73 L354.82,464.72 L355.05,464.70 L355.27,464.69 L355.49,464.67 L355.71,464.66 L355.94,464.64 L356.16,464.62 L356.38,464.61 L356.60,464.59 L356.83,464.57 L357.05,464.55 L357.27,464.53 L357.49,464.52 L357.72,464.50 L357.94,464.48 L358.16,464.46 L358.38,464.44 L358.61,464.42 L358.83,464.40 L359.05,464.37 L359.27,464.35 L359.50,464.33 L359.72,464.31 L359.94,464.29 L360.16,464.26 L360.38,464.24 L360.61,464.21 L360.83,464.19 L361.05,464.16 L361.27,464.14 L361.50,464.11 L361.72,464.08 L361.94,464.06 L362.16,464.03 L362.39,464.00 L362.61,463.97 L362.83,463.94 L363.05,463.91 L363.28,463.87 L363.50,463.84 L363.72,463.81 L363.94,463.77 L364.17,463.74 L364.39,463.70 L364.61,463.66 L364.83,463.62 L365.06,463.58 L365.28,463.54 L365.50,463.50 L365.72,463.46 L365.94,463.41 L366.17,463.37 L366.39,463.32 L366.61,463.27 L366.83,463.22 L367.06,463.17 L367.28,463.12 L367.50,463.06 L367.72,463.00 L367.95,462.94 L368.17,462.88 L368.39,462.82 L368.61,462.75 L368.84,462.68 L369.06,462.61 L369.28,462.54 L369.50,462.46 L369.73,462.38 L369.95,462.30 L370.17,462.22 L370.39,462.13 L370.62,462.04 L370.84,461.94 L371.06,461.84 L371.28,461.74 L371.50,461.63 L371.73,461.52 L371.95,461.41 L372.17,461.29 L372.39,461.16 L372.62,461.03 L372.84,460.90 L373.06,460.76 L373.28,460.61 L373.51,460.46 L373.73,460.30 L373.95,460.14 L374.17,459.97 L374.40,459.79 L374.62,459.61 L374.84,459.42 L375.06,459.22 L375.29,459.01 L375.51,458.80 L375.73,458.57 L375.95,458.34 L376.18,458.10 L376.40,457.85 L376.62,457.59 L376.84,457.32 L377.06,457.04 L377.29,456.74 L377.51,456.44 L377.73,456.13 L377.95,455.80 L378.18,455.46 L378.40,455.11 L378.62,454.74 L378.84,454.37 L379.07,453.97 L379.29,453.57 L379.51,453.15 L379.73,452.71 L379.96,452.26 L380.18,451.79 L380.40,451.31 L380.62,450.81 L380.85,450.29 L381.07,449.75 L381.29,449.20 L381.51,448.63 L381.74,448.04 L381.96,447.42 L382.18,446.79 L382.40,446.14 L382.62,445.47 L382.85,444.77 L383.07,444.06 L383.29,443.32 L383.51,442.56 L383.74,441.78 L383.96,440.97 L384.18,440.14 L384.40,439.28 L384.63,438.40 L384.85,437.49 L385.07,436.56 L385.29,435.60 L385.52,434.61 L385.74,433.60 L385.96,432.56 L386.18,431.49 L386.41,430.40 L386.63,429.27 L386.85,428.12 L387.07,426.94 L387.30,425.72 L387.52,424.48 L387.74,423.21 L387.96,421.91 L388.18,420.58 L388.41,419.22 L388.63,417.82 L388.85,416.40 L389.07,414.95 L389.30,413.46 L389.52,411.95 L389.74,410.40 L389.96,408.83 L390.19,407.22 L390.41,405.59 L390.63,403.92 L390.85,402.23 L391.08,400.50 L391.30,398.75 L391.52,396.97 L391.74,395.16 L391.97,393.33 L392.19,391.47 L392.41,389.59 L392.63,387.68 L392.86,385.75 L393.08,383.79 L393.30,381.82 L393.52,379.82 L393.74,377.81 L393.97,375.78 L394.19,373.73 L394.41,371.67 L394.63,369.60 L394.86,367.52 L395.08,365.42 L395.30,363.33 L395.52,361.22 L395.75,359.11 L395.97,357.00 L396.19,354.89 L396.41,352.79 L396.64,350.69 L396.86,348.59 L397.08,346.51 L397.30,344.43 L397.53,342.37 L397.75,340.32 L397.97,338.30 L398.19,336.29 L398.42,334.30 L398.64,332.34 L398.86,330.41 L399.08,328.50 L399.30,326.62 L399.53,324.78 L399.75,322.97 L399.97,321.19 L400.19,319.45 L400.42,317.75 L400.64,316.09 L400.86,314.47 L401.08,312.90 L401.31,311.36 L401.53,309.87 L401.75,308.43 L401.97,307.03 L402.20,305.68 L402.42,304.38 L402.64,303.12 L402.86,301.91 L403.09,300.75 L403.31,299.64 L403.53,298.58 L403.75,297.57 L403.98,296.60 L404.20,295.69 L404.42,294.82 L404.64,294.00 L404.86,293.23 L405.09,292.50 L405.31,291.82 L405.53,291.19 L405.75,290.61 L405.98,290.07 L406.20,289.58 L406.42,289.13 L406.64,288.73 L406.87,288.37 L407.09,288.06 L407.31,287.79 L407.53,287.56 L407.76,287.38 L407.98,287.24 L408.20,287.14 L408.42,287.09 L408.65,287.08 L408.87,287.12 L409.09,287.23 L409.31,287.40 L409.54,287.62 L409.76,287.91 L409.98,288.26 L410.20,288.67 L410.42,289.13 L410.65,289.66 L410.87,290.24 L411.09,290.88 L411.31,291.58 L411.54,292.33 L411.76,293.14 L411.98,294.01 L412.20,294.93 L412.43,295.90 L412.65,296.92 L412.87,298.00 L413.09,299.13 L413.32,300.30 L413.54,301.52 L413.76,302.79 L413.98,304.11 L414.21,305.47 L414.43,306.87 L414.65,308.31 L414.87,309.80 L415.10,311.32 L415.32,312.88 L415.54,314.48 L415.76,316.11 L415.98,317.78 L416.21,319.47 L416.43,321.20 L416.65,322.96 L416.87,324.74 L417.10,326.55 L417.32,328.39 L417.54,330.25 L417.76,332.12 L417.99,334.02 L418.21,335.94 L418.43,337.87 L418.65,339.82 L418.88,341.78 L419.10,343.75 L419.32,345.73 L419.54,347.73 L419.77,349.73 L419.99,351.73 L420.21,353.74 L420.43,355.75 L420.66,357.77 L420.88,359.78 L421.10,361.79 L421.32,363.80 L421.54,365.81 L421.77,367.81 L421.99,369.80 L422.21,371.79 L422.43,373.76 L422.66,375.73 L422.88,377.68 L423.10,379.63 L423.32,381.55 L423.55,383.47 L423.77,385.36 L423.99,387.25 L424.21,389.11 L424.44,390.95 L424.66,392.78 L424.88,394.59 L425.10,396.37 L425.33,398.13 L425.55,399.87 L425.77,401.59 L425.99,403.28 L426.22,404.95 L426.44,406.59 L426.66,408.21 L426.88,409.81 L427.10,411.37 L427.33,412.91 L427.55,414.43 L427.77,415.91 L427.99,417.37 L428.22,418.80 L428.44,420.20 L428.66,421.58 L428.88,422.92 L429.11,424.24 L429.33,425.53 L429.55,426.79 L429.77,428.02 L430.00,429.23 L430.22,430.40 L430.44,431.55 L430.66,432.67 L430.89,433.76 L431.11,434.82 L431.33,435.86 L431.55,436.87 L431.78,437.85 L432.00,438.80 L432.22,439.73 L432.44,440.63 L432.66,441.51 L432.89,442.36 L433.11,443.19 L433.33,443.99 L433.55,444.76 L433.78,445.51 L434.00,446.24 L434.22,446.95 L434.44,447.63 L434.67,448.29 L434.89,448.93 L435.11,449.54 L435.33,450.14 L435.56,450.71 L435.78,451.27 L436.00,451.80 L436.22,452.32 L436.45,452.82 L436.67,453.30 L436.89,453.76 L437.11,454.20 L437.34,454.63 L437.56,455.04 L437.78,455.44 L438.00,455.82 L438.22,456.19 L438.45,456.54 L438.67,456.88 L438.89,457.20 L439.11,457.51 L439.34,457.81 L439.56,458.10 L439.78,458.37 L440.00,458.63 L440.23,458.89 L440.45,459.13 L440.67,459.36 L440.89,459.58 L441.12,459.79 L441.34,460.00 L441.56,460.19 L441.78,460.38 L442.01,460.56 L442.23,460.73 L442.45,460.89 L442.67,461.05 L442.90,461.20 L443.12,461.35 L443.34,461.48 L443.56,461.61 L443.78,461.74 L444.01,461.86 L444.23,461.98 L444.45,462.09 L444.67,462.19 L444.90,462.30 L445.12,462.39 L445.34,462.49 L445.56,462.58 L445.79,462.66 L446.01,462.75 L446.23,462.83 L446.45,462.90 L446.68,462.98 L446.90,463.05 L447.12,463.11 L447.34,463.18 L447.57,463.24 L447.79,463.30 L448.01,463.36 L448.23,463.42 L448.46,463.47 L448.68,463.53 L448.90,463.58 L449.12,463.63 L449.34,463.67 L449.57,463.72 L449.79,463.76 L450.01,463.81 L450.23,463.85 L450.46,463.89 L450.68,463.93 L450.90,463.97 L451.12,464.01 L451.35,464.04 L451.57,464.08 L451.79,464.11 L452.01,464.15 L452.24,464.18 L452.46,464.21 L452.68,464.24 L452.90,464.27 L453.13,464.30 L453.35,464.33 L453.57,464.36 L453.79,464.39 L454.02,464.42 L454.24,464.44 L454.46,464.47 L454.68,464.49 L454.90,464.52 L455.13,464.54 L455.35,464.57 L455.57,464.59 L455.79,464.61 L456.02,464.64 L456.24,464.66 L456.46,464.68 L456.68,464.70 L456.91,464.72 L457.13,464.74 L457.35,464.76 L457.57,464.78 L457.80,464.80 L458.02,464.82 L458.24,464.84 L458.46,464.85 L458.69,464.87 L458.91,464.89 L459.13,464.91 L459.35,464.92 L459.58,464.94 L459.80,464.95 L460.02,464.97 L460.24,464.98 L460.46,465.00 L460.69,465.01 L460.91,465.03 L461.13,465.04 L461.35,465.06 L461.58,465.07 L461.80,465.08 L462.02,465.09 L462.24,465.11 L462.47,465.12 L462.69,465.13 L462.91,465.14 L463.13,465.15 L463.36,465.16 L463.58,465.17 L463.80,465.18 L464.02,465.19 L464.25,465.20 L464.47,465.21 L464.69,465.22 L464.91,465.23 L465.14,465.24 L465.36,465.25 L465.58,465.26 L465.80,465.27 L466.02,465.27 L466.25,465.28 L466.47,465.29 L466.69,465.30 L466.91,465.30 L467.14,465.31 L467.36,465.32 L467.58,465.33 L467.80,465.33 L468.03,465.34 L468.25,465.34 L468.47,465.35 L468.69,465.36 L468.92,465.36 L469.14,465.37 L469.36,465.37 L469.58,465.38 L469.81,465.38 L469.81,465.50 L343.48,465.50 Z" fill="#000000" fill-opacity="0.2" stroke="none"/>
<path d="M357.77,465.38 L357.99,465.37 L358.22,465.36 L358.44,465.36 L358.66,465.35 L358.88,465.34 L359.11,465.33 L359.33,465.33 L359.55,465.32 L359.77,465.31 L360.00,465.30 L360.22,465.29 L360.44,465.29 L360.66,465.28 L360.89,465.27 L361.11,465.26 L361.33,465.25 L361.55,465.24 L361.77,465.23 L362.00,465.23 L362.22,465.22 L362.44,465.21 L362.66,465.20 L362.89,465.19 L363.11,465.18 L363.33,465.17 L363.55,465.16 L363.78,465.15 L364.00,465.14 L364.22,465.13 L364.44,465.12 L364.67,465.11 L364.89,465.10 L365.11,465.09 L365.33,465.07 L365.56,465.06 L365.78,465.05 L366.00,465.04 L366.22,465.03 L366.45,465.01 L366.67,465.00 L366.89,464.99 L367.11,464.98 L367.33,464.96 L367.56,464.95 L367.78,464.94 L368.00,464.92 L368.22,464.91 L368.45,464.89 L368.67,464.88 L368.89,464.86 L369.11,464.85 L369.34,464.83 L369.56,464.82 L369.78,464.80 L370.00,464.78 L370.23,464.77 L370.45,464.75 L370.67,464.73 L370.89,464.71 L371.12,464.70 L371.34,464.68 L371.56,464.66 L371.78,464.64 L372.01,464.62 L372.23,464.60 L372.45,464.58 L372.67,464.56 L372.89,464.54 L373.12,464.52 L373.34,464.50 L373.56,464.47 L373.78,464.45 L374.01,464.43 L374.23,464.40 L374.45,464.38 L374.67,464.35 L374.90,464.33 L375.12,464.30 L375.34,464.27 L375.56,464.25 L375.79,464.22 L376.01,464.18 L376.23,464.15 L376.45,464.12 L376.68,464.08 L376.90,464.04 L377.12,464.00 L377.34,463.96 L377.57,463.92 L377.79,463.87 L378.01,463.83 L378.23,463.78 L378.45,463.73 L378.68,463.68 L378.90,463.62 L379.12,463.57 L379.34,463.51 L379.57,463.45 L379.79,463.38 L380.01,463.32 L380.23,463.25 L380.46,463.18 L380.68,463.11 L380.90,463.03 L381.12,462.95 L381.35,462.87 L381.57,462.79 L381.79,462.71 L382.01,462.62 L382.24,462.52 L382.46,462.43 L382.68,462.32 L382.90,462.21 L383.13,462.10 L383.35,461.97 L383.57,461.83 L383.79,461.68 L384.01,461.52 L384.24,461.34 L384.46,461.15 L384.68,460.94 L384.90,460.71 L385.13,460.47 L385.35,460.22 L385.57,459.95 L385.79,459.66 L386.02,459.36 L386.24,459.05 L386.46,458.71 L386.68,458.36 L386.91,457.98 L387.13,457.58 L387.35,457.15 L387.57,456.69 L387.80,456.20 L388.02,455.68 L388.24,455.11 L388.46,454.51 L388.69,453.87 L388.91,453.19 L389.13,452.47 L389.35,451.70 L389.57,450.88 L389.80,450.00 L390.02,449.06 L390.24,448.05 L390.46,446.95 L390.69,445.74 L390.91,444.41 L391.13,442.93 L391.35,441.29 L391.58,439.45 L391.80,437.40 L392.02,435.13 L392.24,432.64 L392.47,429.96 L392.69,427.09 L392.91,424.09 L393.13,420.99 L393.36,417.84 L393.58,414.67 L393.80,411.50 L394.02,408.35 L394.25,405.22 L394.47,402.10 L394.69,398.97 L394.91,395.83 L395.13,392.63 L395.36,389.38 L395.58,386.07 L395.80,382.68 L396.02,379.22 L396.25,375.70 L396.47,372.12 L396.69,368.51 L396.91,364.87 L397.14,361.21 L397.36,357.54 L397.58,353.87 L397.80,350.20 L398.03,346.52 L398.25,342.84 L398.47,339.16 L398.69,335.46 L398.92,331.76 L399.14,328.04 L399.36,324.30 L399.58,320.54 L399.81,316.77 L400.03,312.96 L400.25,309.13 L400.47,305.27 L400.69,301.39 L400.92,297.48 L401.14,293.54 L401.36,289.59 L401.58,285.62 L401.81,281.65 L402.03,277.69 L402.25,273.74 L402.47,269.80 L402.70,265.88 L402.92,261.99 L403.14,258.11 L403.36,254.25 L403.59,250.40 L403.81,246.54 L404.03,242.68 L404.25,238.80 L404.48,234.91 L404.70,231.00 L404.92,227.08 L405.14,223.18 L405.37,219.33 L405.59,215.57 L405.81,211.96 L406.03,208.52 L406.25,205.32 L406.48,202.40 L406.70,199.77 L406.92,197.47 L407.14,195.49 L407.37,193.85 L407.59,192.55 L407.81,191.60 L408.03,190.99 L408.26,190.73 L408.48,190.82 L408.70,191.25 L408.92,192.03 L409.15,193.16 L409.37,194.63 L409.59,196.44 L409.81,198.58 L410.04,201.05 L410.26,203.83 L410.48,206.89 L410.70,210.21 L410.93,213.75 L411.15,217.44 L411.37,221.25 L411.59,225.14 L411.81,229.06 L412.04,233.00 L412.26,236.94 L412.48,240.90 L412.70,244.87 L412.93,248.89 L413.15,252.96 L413.37,257.13 L413.59,261.41 L413.82,265.82 L414.04,270.37 L414.26,275.04 L414.48,279.85 L414.71,284.75 L414.93,289.72 L415.15,294.73 L415.37,299.74 L415.60,304.71 L415.82,309.61 L416.04,314.42 L416.26,319.12 L416.49,323.70 L416.71,328.18 L416.93,332.55 L417.15,336.83 L417.37,341.03 L417.60,345.18 L417.82,349.29 L418.04,353.36 L418.26,357.42 L418.49,361.46 L418.71,365.47 L418.93,369.45 L419.15,373.39 L419.38,377.28 L419.60,381.11 L419.82,384.86 L420.04,388.53 L420.27,392.13 L420.49,395.67 L420.71,399.16 L420.93,402.61 L421.16,406.05 L421.38,409.48 L421.60,412.91 L421.82,416.31 L422.05,419.66 L422.27,422.93 L422.49,426.06 L422.71,429.03 L422.93,431.78 L423.16,434.28 L423.38,436.54 L423.60,438.55 L423.82,440.33 L424.05,441.89 L424.27,443.28 L424.49,444.52 L424.71,445.63 L424.94,446.65 L425.16,447.59 L425.38,448.48 L425.60,449.32 L425.83,450.12 L426.05,450.89 L426.27,451.64 L426.49,452.36 L426.72,453.06 L426.94,453.74 L427.16,454.38 L427.38,455.00 L427.61,455.58 L427.83,456.13 L428.05,456.64 L428.27,457.12 L428.49,457.57 L428.72,457.99 L428.94,458.39 L429.16,458.76 L429.38,459.11 L429.61,459.44 L429.83,459.75 L430.05,460.04 L430.27,460.32 L430.50,460.58 L430.72,460.82 L430.94,461.05 L431.16,461.26 L431.39,461.45 L431.61,461.63 L431.83,461.79 L432.05,461.94 L432.28,462.07 L432.50,462.20 L432.72,462.32 L432.94,462.43 L433.17,462.53 L433.39,462.63 L433.61,462.72 L433.83,462.81 L434.05,462.90 L434.28,462.98 L434.50,463.06 L434.72,463.14 L434.94,463.21 L435.17,463.28 L435.39,463.35 L435.61,463.42 L435.83,463.49 L436.06,463.55 L436.28,463.61 L436.50,463.67 L436.72,463.72 L436.95,463.77 L437.17,463.83 L437.39,463.88 L437.61,463.92 L437.84,463.97 L438.06,464.01 L438.28,464.05 L438.50,464.09 L438.73,464.13 L438.95,464.16 L439.17,464.20 L439.39,464.23 L439.61,464.26 L439.84,464.29 L440.06,464.32 L440.28,464.35 L440.50,464.37 L440.73,464.40 L440.95,464.42 L441.17,464.45 L441.39,464.47 L441.62,464.49 L441.84,464.52 L442.06,464.54 L442.28,464.56 L442.51,464.58 L442.73,464.60 L442.95,464.63 L443.17,464.65 L443.40,464.67 L443.62,464.68 L443.84,464.70 L444.06,464.72 L444.29,464.74 L444.51,464.76 L444.73,464.78 L444.95,464.79 L445.17,464.81 L445.40,464.83 L445.62,464.85 L445.84,464.86 L446.06,464.88 L446.29,464.89 L446.51,464.91 L446.73,464.92 L446.95,464.94 L447.18,464.95 L447.40,464.97 L447.62,464.98 L447.84,464.99 L448.07,465.01 L448.29,465.02 L448.51,465.03 L448.73,465.05 L448.96,465.06 L449.18,465.07 L449.40,465.08 L449.62,465.09 L449.85,465.11 L450.07,465.12 L450.29,465.13 L450.51,465.14 L450.73,465.15 L450.96,465.16 L451.18,465.17 L451.40,465.18 L451.62,465.19 L451.85,465.20 L452.07,465.21 L452.29,465.22 L452.51,465.23 L452.74,465.24 L452.96,465.25 L453.18,465.26 L453.40,465.27 L453.63,465.27 L453.85,465.28 L454.07,465.29 L454.29,465.30 L454.52,465.31 L454.74,465.32 L454.96,465.33 L455.18,465.33 L455.41,465.34 L455.63,465.35 L455.85,465.36 L456.07,465.37 L456.29,465.37 L456.29,465.50 L357.77,465.50 Z" fill="#d60044" fill-opacity="0.2" stroke="none"/>
<path d="M372.23,465.31 L372.45,465.29 L372.67,465.27 L372.89,465.24 L373.12,465.22 L373.34,465.20 L373.56,465.17 L373.78,465.15 L374.01,465.12 L374.23,465.10 L374.45,465.07 L374.67,465.04 L374.90,465.01 L375.12,464.98 L375.34,464.95 L375.56,464.92 L375.79,464.89 L376.01,464.85 L376.23,464.81 L376.45,464.77 L376.68,464.73 L376.90,464.68 L377.12,464.62 L377.34,464.57 L377.57,464.51 L377.79,464.45 L378.01,464.38 L378.23,464.31 L378.45,464.24 L378.68,464.16 L378.90,464.09 L379.12,464.00 L379.34,463.92 L379.57,463.83 L379.79,463.75 L380.01,463.65 L380.23,463.56 L380.46,463.46 L380.68,463.37 L380.90,463.27 L381.12,463.16 L381.35,463.06 L381.57,462.95 L381.79,462.84 L382.01,462.73 L382.24,462.61 L382.46,462.49 L382.68,462.37 L382.90,462.24 L383.13,462.10 L383.35,461.95 L383.57,461.80 L383.79,461.64 L384.01,461.48 L384.24,461.31 L384.46,461.13 L384.68,460.94 L384.90,460.75 L385.13,460.56 L385.35,460.35 L385.57,460.15 L385.79,459.93 L386.02,459.72 L386.24,459.49 L386.46,459.26 L386.68,459.03 L386.91,458.80 L387.13,458.55 L387.35,458.31 L387.57,458.05 L387.80,457.80 L388.02,457.53 L388.24,457.25 L388.46,456.97 L388.69,456.68 L388.91,456.37 L389.13,456.06 L389.35,455.73 L389.57,455.40 L389.80,455.05 L390.02,454.70 L390.24,454.34 L390.46,453.97 L390.69,453.59 L390.91,453.20 L391.13,452.81 L391.35,452.41 L391.58,452.01 L391.80,451.60 L392.02,451.19 L392.24,450.77 L392.47,450.35 L392.69,449.91 L392.91,449.47 L393.13,449.02 L393.36,448.56 L393.58,448.09 L393.80,447.60 L394.02,447.09 L394.25,446.58 L394.47,446.05 L394.69,445.50 L394.91,444.95 L395.13,444.39 L395.36,443.82 L395.58,443.24 L395.80,442.66 L396.02,442.07 L396.25,441.48 L396.47,440.89 L396.69,440.30 L396.91,439.71 L397.14,439.13 L397.36,438.55 L397.58,437.98 L397.80,437.41 L398.03,436.85 L398.25,436.30 L398.47,435.77 L398.69,435.24 L398.92,434.74 L399.14,434.24 L399.36,433.77 L399.58,433.31 L399.81,432.87 L400.03,432.44 L400.25,432.03 L400.47,431.64 L400.69,431.26 L400.92,430.90 L401.14,430.54 L401.36,430.20 L401.58,429.86 L401.81,429.53 L402.03,429.21 L402.25,428.90 L402.47,428.59 L402.70,428.28 L402.92,427.99 L403.14,427.69 L403.36,427.40 L403.59,427.12 L403.81,426.84 L404.03,426.56 L404.25,426.28 L404.48,426.00 L404.70,425.73 L404.92,425.46 L405.14,425.18 L405.37,424.91 L405.59,424.64 L405.81,424.36 L406.03,424.09 L406.25,423.82 L406.48,423.54 L406.70,423.27 L406.92,422.99 L407.14,422.72 L407.37,422.45 L407.59,422.18 L407.81,421.91 L408.03,421.64 L408.26,421.38 L408.48,421.12 L408.70,420.86 L408.92,420.61 L409.15,420.38 L409.37,420.17 L409.59,419.99 L409.81,419.87 L410.04,419.80 L410.26,419.80 L410.48,419.87 L410.70,419.99 L410.93,420.17 L411.15,420.38 L411.37,420.61 L411.59,420.86 L411.81,421.12 L412.04,421.38 L412.26,421.64 L412.48,421.91 L412.70,422.18 L412.93,422.45 L413.15,422.72 L413.37,422.99 L413.59,423.27 L413.82,423.54 L414.04,423.82 L414.26,424.09 L414.48,424.36 L414.71,424.64 L414.93,424.91 L415.15,425.18 L415.37,425.46 L415.60,425.73 L415.82,426.00 L416.04,426.28 L416.26,426.56 L416.49,426.84 L416.71,427.12 L416.93,427.40 L417.15,427.69 L417.37,427.99 L417.60,428.28 L417.82,428.59 L418.04,428.90 L418.26,429.21 L418.49,429.53 L418.71,429.86 L418.93,430.20 L419.15,430.54 L419.38,430.90 L419.60,431.26 L419.82,431.64 L420.04,432.03 L420.27,432.44 L420.49,432.87 L420.71,433.31 L420.93,433.77 L421.16,434.24 L421.38,434.74 L421.60,435.24 L421.82,435.77 L422.05,436.30 L422.27,436.85 L422.49,437.41 L422.71,437.98 L422.93,438.55 L423.16,439.13 L423.38,439.71 L423.60,440.30 L423.82,440.89 L424.05,441.48 L424.27,442.07 L424.49,442.66 L424.71,443.24 L424.94,443.82 L425.16,444.39 L425.38,444.95 L425.60,445.50 L425.83,446.05 L426.05,446.58 L426.27,447.09 L426.49,447.60 L426.72,448.09 L426.94,448.56 L427.16,449.02 L427.38,449.47 L427.61,449.91 L427.83,450.35 L428.05,450.77 L428.27,451.19 L428.49,451.60 L428.72,452.01 L428.94,452.41 L429.16,452.81 L429.38,453.20 L429.61,453.59 L429.83,453.97 L430.05,454.34 L430.27,454.70 L430.50,455.05 L430.72,455.40 L430.94,455.73 L431.16,456.06 L431.39,456.37 L431.61,456.68 L431.83,456.97 L432.05,457.25 L432.28,457.53 L432.50,457.80 L432.72,458.05 L432.94,458.31 L433.17,458.55 L433.39,458.80 L433.61,459.03 L433.83,459.26 L434.05,459.49 L434.28,459.72 L434.50,459.93 L434.72,460.15 L434.94,460.35 L435.17,460.56 L435.39,460.75 L435.61,460.94 L435.83,461.13 L436.06,461.31 L436.28,461.48 L436.50,461.64 L436.72,461.80 L436.95,461.95 L437.17,462.10 L437.39,462.24 L437.61,462.37 L437.84,462.49 L438.06,462.61 L438.28,462.73 L438.50,462.84 L438.73,462.95 L438.95,463.06 L439.17,463.16 L439.39,463.27 L439.61,463.37 L439.84,463.46 L440.06,463.56 L440.28,463.65 L440.50,463.75 L440.73,463.83 L440.95,463.92 L441.17,464.00 L441.39,464.09 L441.62,464.16 L441.84,464.24 L442.06,464.31 L442.28,464.38 L442.51,464.45 L442.73,464.51 L442.95,464.57 L443.17,464.62 L443.40,464.68 L443.62,464.73 L443.84,464.77 L444.06,464.81 L444.29,464.85 L444.51,464.89 L444.73,464.92 L444.95,464.95 L445.17,464.98 L445.40,465.01 L445.62,465.04 L445.84,465.07 L446.06,465.10 L446.29,465.12 L446.51,465.15 L446.73,465.17 L446.95,465.20 L447.18,465.22 L447.40,465.24 L447.62,465.27 L447.84,465.29 L448.07,465.31" stroke="#000000" stroke-width="1.0"/>
<path d="M340.59,465.31 L340.81,465.30 L341.04,465.30 L341.26,465.29 L341.48,465.29 L341.70,465.28 L341.93,465.28 L342.15,465.27 L342.37,465.27 L342.59,465.26 L342.82,465.25 L343.04,465.25 L343.26,465.24 L343.48,465.24 L343.70,465.23 L343.93,465.22 L344.15,465.22 L344.37,465.21 L344.59,465.20 L344.82,465.20 L345.04,465.19 L345.26,465.18 L345.48,465.18 L345.71,465.17 L345.93,465.16 L346.15,465.15 L346.37,465.15 L346.60,465.14 L346.82,465.13 L347.04,465.12 L347.26,465.11 L347.49,465.10 L347.71,465.10 L347.93,465.09 L348.15,465.08 L348.38,465.07 L348.60,465.06 L348.82,465.05 L349.04,465.04 L349.26,465.03 L349.49,465.02 L349.71,465.01 L349.93,465.00 L350.15,464.99 L350.38,464.98 L350.60,464.97 L350.82,464.96 L351.04,464.94 L351.27,464.93 L351.49,464.92 L351.71,464.91 L351.93,464.90 L352.16,464.89 L352.38,464.87 L352.60,464.86 L352.82,464.85 L353.05,464.83 L353.27,464.82 L353.49,464.81 L353.71,464.79 L353.94,464.78 L354.16,464.76 L354.38,464.75 L354.60,464.73 L354.82,464.72 L355.05,464.70 L355.27,464.69 L355.49,464.67 L355.71,464.66 L355.94,464.64 L356.16,464.62 L356.38,464.61 L356.60,464.59 L356.83,464.57 L357.05,464.55 L357.27,464.53 L357.49,464.52 L357.72,464.50 L357.94,464.48 L358.16,464.46 L358.38,464.44 L358.61,464.42 L358.83,464.40 L359.05,464.37 L359.27,464.35 L359.50,464.33 L359.72,464.31 L359.94,464.29 L360.16,464.26 L360.38,464.24 L360.61,464.21 L360.83,464.19 L361.05,464.16 L361.27,464.14 L361.50,464.11 L361.72,464.08 L361.94,464.06 L362.16,464.03 L362.39,464.00 L362.61,463.97 L362.83,463.94 L363.05,463.91 L363.28,463.87 L363.50,463.84 L363.72,463.81 L363.94,463.77 L364.17,463.74 L364.39,463.70 L364.61,463.66 L364.83,463.62 L365.06,463.58 L365.28,463.54 L365.50,463.50 L365.72,463.46 L365.94,463.41 L366.17,463.37 L366.39,463.32 L366.61,463.27 L366.83,463.22 L367.06,463.17 L367.28,463.12 L367.50,463.06 L367.72,463.00 L367.95,462.94 L368.17,462.88 L368.39,462.82 L368.61,462.76 L368.84,462.69 L369.06,462.62 L369.28,462.55 L369.50,462.48 L369.73,462.41 L369.95,462.34 L370.17,462.26 L370.39,462.19 L370.62,462.11 L370.84,462.03 L371.06,461.94 L371.28,461.85 L371.50,461.76 L371.73,461.67 L371.95,461.57 L372.17,461.47 L372.39,461.37 L372.62,461.26 L372.84,461.15 L373.06,461.03 L373.28,460.91 L373.51,460.78 L373.73,460.65 L373.95,460.51 L374.17,460.37 L374.40,460.22 L374.62,460.06 L374.84,459.90 L375.06,459.73 L375.29,459.55 L375.51,459.37 L375.73,459.18 L375.95,458.98 L376.18,458.78 L376.40,458.57 L376.62,458.35 L376.84,458.13 L377.06,457.90 L377.29,457.66 L377.51,457.42 L377.73,457.16 L377.95,456.90 L378.18,456.63 L378.40,456.35 L378.62,456.06 L378.84,455.76 L379.07,455.45 L379.29,455.13 L379.51,454.79 L379.73,454.44 L379.96,454.08 L380.18,453.71 L380.40,453.32 L380.62,452.92 L380.85,452.50 L381.07,452.07 L381.29,451.62 L381.51,451.15 L381.74,450.67 L381.96,450.17 L382.18,449.65 L382.40,449.12 L382.62,448.57 L382.85,448.01 L383.07,447.43 L383.29,446.83 L383.51,446.22 L383.74,445.59 L383.96,444.95 L384.18,444.28 L384.40,443.60 L384.63,442.91 L384.85,442.19 L385.07,441.45 L385.29,440.69 L385.52,439.91 L385.74,439.11 L385.96,438.29 L386.18,437.44 L386.41,436.57 L386.63,435.68 L386.85,434.76 L387.07,433.82 L387.30,432.85 L387.52,431.86 L387.74,430.85 L387.96,429.81 L388.18,428.75 L388.41,427.67 L388.63,426.57 L388.85,425.45 L389.07,424.31 L389.30,423.15 L389.52,421.97 L389.74,420.76 L389.96,419.54 L390.19,418.30 L390.41,417.03 L390.63,415.74 L390.85,414.43 L391.08,413.09 L391.30,411.74 L391.52,410.36 L391.74,408.96 L391.97,407.54 L392.19,406.09 L392.41,404.63 L392.63,403.15 L392.86,401.66 L393.08,400.15 L393.30,398.64 L393.52,397.11 L393.74,395.59 L393.97,394.06 L394.19,392.52 L394.41,390.99 L394.63,389.46 L394.86,387.93 L395.08,386.39 L395.30,384.86 L395.52,383.33 L395.75,381.81 L395.97,380.28 L396.19,378.76 L396.41,377.25 L396.64,375.74 L396.86,374.23 L397.08,372.73 L397.30,371.24 L397.53,369.75 L397.75,368.27 L397.97,366.81 L398.19,365.35 L398.42,363.90 L398.64,362.47 L398.86,361.05 L399.08,359.64 L399.30,358.24 L399.53,356.86 L399.75,355.49 L399.97,354.15 L400.19,352.82 L400.42,351.52 L400.64,350.24 L400.86,348.99 L401.08,347.77 L401.31,346.58 L401.53,345.43 L401.75,344.31 L401.97,343.24 L402.20,342.21 L402.42,341.21 L402.64,340.26 L402.86,339.35 L403.09,338.49 L403.31,337.67 L403.53,336.89 L403.75,336.16 L403.98,335.48 L404.20,334.84 L404.42,334.25 L404.64,333.70 L404.86,333.20 L405.09,332.75 L405.31,332.35 L405.53,331.99 L405.75,331.68 L405.98,331.41 L406.20,331.19 L406.42,331.02 L406.64,330.89 L406.87,330.81 L407.09,330.77 L407.31,330.77 L407.53,330.81 L407.76,330.90 L407.98,331.03 L408.20,331.20 L408.42,331.40 L408.65,331.65 L408.87,331.95 L409.09,332.29 L409.31,332.68 L409.54,333.09 L409.76,333.52 L409.98,333.95 L410.20,334.37 L410.42,334.79 L410.65,335.20 L410.87,335.62 L411.09,336.06 L411.31,336.53 L411.54,337.04 L411.76,337.59 L411.98,338.20 L412.20,338.85 L412.43,339.56 L412.65,340.31 L412.87,341.12 L413.09,341.97 L413.32,342.88 L413.54,343.82 L413.76,344.82 L413.98,345.86 L414.21,346.94 L414.43,348.07 L414.65,349.24 L414.87,350.45 L415.10,351.70 L415.32,352.99 L415.54,354.32 L415.76,355.68 L415.98,357.07 L416.21,358.49 L416.43,359.94 L416.65,361.41 L416.87,362.91 L417.10,364.43 L417.32,365.98 L417.54,367.54 L417.76,369.11 L417.99,370.70 L418.21,372.31 L418.43,373.92 L418.65,375.54 L418.88,377.17 L419.10,378.80 L419.32,380.43 L419.54,382.06 L419.77,383.68 L419.99,385.30 L420.21,386.90 L420.43,388.49 L420.66,390.07 L420.88,391.63 L421.10,393.17 L421.32,394.69 L421.54,396.19 L421.77,397.67 L421.99,399.13 L422.21,400.57 L422.43,401.99 L422.66,403.40 L422.88,404.78 L423.10,406.14 L423.32,407.49 L423.55,408.81 L423.77,410.12 L423.99,411.41 L424.21,412.69 L424.44,413.94 L424.66,415.18 L424.88,416.41 L425.10,417.62 L425.33,418.82 L425.55,420.00 L425.77,421.18 L425.99,422.34 L426.22,423.48 L426.44,424.62 L426.66,425.75 L426.88,426.86 L427.10,427.96 L427.33,429.05 L427.55,430.12 L427.77,431.17 L427.99,432.20 L428.22,433.21 L428.44,434.20 L428.66,435.17 L428.88,436.11 L429.11,437.03 L429.33,437.92 L429.55,438.80 L429.77,439.65 L430.00,440.48 L430.22,441.29 L430.44,442.08 L430.66,442.86 L430.89,443.61 L431.11,444.35 L431.33,445.06 L431.55,445.77 L431.78,446.45 L432.00,447.12 L432.22,447.77 L432.44,448.40 L432.66,449.02 L432.89,449.62 L433.11,450.19 L433.33,450.75 L433.55,451.29 L433.78,451.81 L434.00,452.31 L434.22,452.79 L434.44,453.25 L434.67,453.69 L434.89,454.12 L435.11,454.54 L435.33,454.93 L435.56,455.32 L435.78,455.69 L436.00,456.04 L436.22,456.38 L436.45,456.71 L436.67,457.03 L436.89,457.34 L437.11,457.64 L437.34,457.93 L437.56,458.21 L437.78,458.48 L438.00,458.74 L438.22,458.99 L438.45,459.22 L438.67,459.45 L438.89,459.67 L439.11,459.87 L439.34,460.07 L439.56,460.25 L439.78,460.43 L440.00,460.60 L440.23,460.76 L440.45,460.91 L440.67,461.05 L440.89,461.18 L441.12,461.31 L441.34,461.43 L441.56,461.55 L441.78,461.66 L442.01,461.77 L442.23,461.87 L442.45,461.96 L442.67,462.06 L442.90,462.15 L443.12,462.23 L443.34,462.32 L443.56,462.40 L443.78,462.48 L444.01,462.56 L444.23,462.64 L444.45,462.71 L444.67,462.78 L444.90,462.85 L445.12,462.92 L445.34,462.98 L445.56,463.04 L445.79,463.10 L446.01,463.16 L446.23,463.21 L446.45,463.26 L446.68,463.31 L446.90,463.35 L447.12,463.40 L447.34,463.44 L447.57,463.48 L447.79,463.52 L448.01,463.56 L448.23,463.60 L448.46,463.63 L448.68,463.67 L448.90,463.70 L449.12,463.73 L449.34,463.77 L449.57,463.80 L449.79,463.83 L450.01,463.86 L450.23,463.89 L450.46,463.92 L450.68,463.96 L450.90,463.99 L451.12,464.02 L451.35,464.05 L451.57,464.08 L451.79,464.12 L452.01,464.15 L452.24,464.18 L452.46,464.21 L452.68,464.24 L452.90,464.27 L453.13,464.30 L453.35,464.33 L453.57,464.36 L453.79,464.39 L454.02,464.42 L454.24,464.44 L454.46,464.47 L454.68,464.49 L454.90,464.52 L455.13,464.54 L455.35,464.57 L455.57,464.59 L455.79,464.61 L456.02,464.64 L456.24,464.66 L456.46,464.68 L456.68,464.70 L456.91,464.72 L457.13,464.74 L457.35,464.76 L457.57,464.78 L457.80,464.80 L458.02,464.82 L458.24,464.84 L458.46,464.85 L458.69,464.87 L458.91,464.89 L459.13,464.91 L459.35,464.92 L459.58,464.94 L459.80,464.95 L460.02,464.97 L460.24,464.98 L460.46,465.00 L460.69,465.01 L460.91,465.03 L461.13,465.04 L461.35,465.06 L461.58,465.07 L461.80,465.08 L462.02,465.09 L462.24,465.11 L462.47,465.12 L462.69,465.13 L462.91,465.14 L463.13,465.15 L463.36,465.16 L463.58,465.17 L463.80,465.18 L464.02,465.19 L464.25,465.20 L464.47,465.21 L464.69,465.22 L464.91,465.23 L465.14,465.24 L465.36,465.25 L465.58,465.26 L465.80,465.27 L466.02,465.27 L466.25,465.28 L466.47,465.29 L466.69,465.30 L466.91,465.30" stroke="#000000" stroke-width="1.15" stroke-dasharray="8,2.2" stroke-dashoffset="0.8"/>
<path d="M343.48,465.24 L343.70,465.23 L343.93,465.22 L344.15,465.22 L344.37,465.21 L344.59,465.20 L344.82,465.20 L345.04,465.19 L345.26,465.18 L345.48,465.18 L345.71,465.17 L345.93,465.16 L346.15,465.15 L346.37,465.15 L346.60,465.14 L346.82,465.13 L347.04,465.12 L347.26,465.11 L347.49,465.10 L347.71,465.10 L347.93,465.09 L348.15,465.08 L348.38,465.07 L348.60,465.06 L348.82,465.05 L349.04,465.04 L349.26,465.03 L349.49,465.02 L349.71,465.01 L349.93,465.00 L350.15,464.99 L350.38,464.98 L350.60,464.97 L350.82,464.96 L351.04,464.94 L351.27,464.93 L351.49,464.92 L351.71,464.91 L351.93,464.90 L352.16,464.89 L352.38,464.87 L352.60,464.86 L352.82,464.85 L353.05,464.83 L353.27,464.82 L353.49,464.81 L353.71,464.79 L353.94,464.78 L354.16,464.76 L354.38,464.75 L354.60,464.73 L354.82,464.72 L355.05,464.70 L355.27,464.69 L355.49,464.67 L355.71,464.66 L355.94,464.64 L356.16,464.62 L356.38,464.61 L356.60,464.59 L356.83,464.57 L357.05,464.55 L357.27,464.53 L357.49,464.52 L357.72,464.50 L357.94,464.48 L358.16,464.46 L358.38,464.44 L358.61,464.42 L358.83,464.40 L359.05,464.37 L359.27,464.35 L359.50,464.33 L359.72,464.31 L359.94,464.29 L360.16,464.26 L360.38,464.24 L360.61,464.21 L360.83,464.19 L361.05,464.16 L361.27,464.14 L361.50,464.11 L361.72,464.08 L361.94,464.06 L362.16,464.03 L362.39,464.00 L362.61,463.97 L362.83,463.94 L363.05,463.91 L363.28,463.87 L363.50,463.84 L363.72,463.81 L363.94,463.77 L364.17,463.74 L364.39,463.70 L364.61,463.66 L364.83,463.62 L365.06,463.58 L365.28,463.54 L365.50,463.50 L365.72,463.46 L365.94,463.41 L366.17,463.37 L366.39,463.32 L366.61,463.27 L366.83,463.22 L367.06,463.17 L367.28,463.12 L367.50,463.06 L367.72,463.00 L367.95,462.94 L368.17,462.88 L368.39,462.82 L368.61,462.75 L368.84,462.68 L369.06,462.61 L369.28,462.54 L369.50,462.46 L369.73,462.38 L369.95,462.30 L370.17,462.22 L370.39,462.13 L370.62,462.04 L370.84,461.94 L371.06,461.84 L371.28,461.74 L371.50,461.63 L371.73,461.52 L371.95,461.41 L372.17,461.29 L372.39,461.16 L372.62,461.03 L372.84,460.90 L373.06,460.76 L373.28,460.61 L373.51,460.46 L373.73,460.30 L373.95,460.14 L374.17,459.97 L374.40,459.79 L374.62,459.61 L374.84,459.42 L375.06,459.22 L375.29,459.01 L375.51,458.80 L375.73,458.57 L375.95,458.34 L376.18,458.10 L376.40,457.85 L376.62,457.59 L376.84,457.32 L377.06,457.04 L377.29,456.74 L377.51,456.44 L377.73,456.13 L377.95,455.80 L378.18,455.46 L378.40,455.11 L378.62,454.74 L378.84,454.37 L379.07,453.97 L379.29,453.57 L379.51,453.15 L379.73,452.71 L379.96,452.26 L380.18,451.79 L380.40,451.31 L380.62,450.81 L380.85,450.29 L381.07,449.75 L381.29,449.20 L381.51,448.63 L381.74,448.04 L381.96,447.42 L382.18,446.79 L382.40,446.14 L382.62,445.47 L382.85,444.77 L383.07,444.06 L383.29,443.32 L383.51,442.56 L383.74,441.78 L383.96,440.97 L384.18,440.14 L384.40,439.28 L384.63,438.40 L384.85,437.49 L385.07,436.56 L385.29,435.60 L385.52,434.61 L385.74,433.60 L385.96,432.56 L386.18,431.49 L386.41,430.40 L386.63,429.27 L386.85,428.12 L387.07,426.94 L387.30,425.72 L387.52,424.48 L387.74,423.21 L387.96,421.91 L388.18,420.58 L388.41,419.22 L388.63,417.82 L388.85,416.40 L389.07,414.95 L389.30,413.46 L389.52,411.95 L389.74,410.40 L389.96,408.83 L390.19,407.22 L390.41,405.59 L390.63,403.92 L390.85,402.23 L391.08,400.50 L391.30,398.75 L391.52,396.97 L391.74,395.16 L391.97,393.33 L392.19,391.47 L392.41,389.59 L392.63,387.68 L392.86,385.75 L393.08,383.79 L393.30,381.82 L393.52,379.82 L393.74,377.81 L393.97,375.78 L394.19,373.73 L394.41,371.67 L394.63,369.60 L394.86,367.52 L395.08,365.42 L395.30,363.33 L395.52,361.22 L395.75,359.11 L395.97,357.00 L396.19,354.89 L396.41,352.79 L396.64,350.69 L396.86,348.59 L397.08,346.51 L397.30,344.43 L397.53,342.37 L397.75,340.32 L397.97,338.30 L398.19,336.29 L398.42,334.30 L398.64,332.34 L398.86,330.41 L399.08,328.50 L399.30,326.62 L399.53,324.78 L399.75,322.97 L399.97,321.19 L400.19,319.45 L400.42,317.75 L400.64,316.09 L400.86,314.47 L401.08,312.90 L401.31,311.36 L401.53,309.87 L401.75,308.43 L401.97,307.03 L402.20,305.68 L402.42,304.38 L402.64,303.12 L402.86,301.91 L403.09,300.75 L403.31,299.64 L403.53,298.58 L403.75,297.57 L403.98,296.60 L404.20,295.69 L404.42,294.82 L404.64,294.00 L404.86,293.23 L405.09,292.50 L405.31,291.82 L405.53,291.19 L405.75,290.61 L405.98,290.07 L406.20,289.58 L406.42,289.13 L406.64,288.73 L406.87,288.37 L407.09,288.06 L407.31,287.79 L407.53,287.56 L407.76,287.38 L407.98,287.24 L408.20,287.14 L408.42,287.09 L408.65,287.08 L408.87,287.12 L409.09,287.23 L409.31,287.40 L409.54,287.62 L409.76,287.91 L409.98,288.26 L410.20,288.67 L410.42,289.13 L410.65,289.66 L410.87,290.24 L411.09,290.88 L411.31,291.58 L411.54,292.33 L411.76,293.14 L411.98,294.01 L412.20,294.93 L412.43,295.90 L412.65,296.92 L412.87,298.00 L413.09,299.13 L413.32,300.30 L413.54,301.52 L413.76,302.79 L413.98,304.11 L414.21,305.47 L414.43,306.87 L414.65,308.31 L414.87,309.80 L415.10,311.32 L415.32,312.88 L415.54,314.48 L415.76,316.11 L415.98,317.78 L416.21,319.47 L416.43,321.20 L416.65,322.96 L416.87,324.74 L417.10,326.55 L417.32,328.39 L417.54,330.25 L417.76,332.12 L417.99,334.02 L418.21,335.94 L418.43,337.87 L418.65,339.82 L418.88,341.78 L419.10,343.75 L419.32,345.73 L419.54,347.73 L419.77,349.73 L419.99,351.73 L420.21,353.74 L420.43,355.75 L420.66,357.77 L420.88,359.78 L421.10,361.79 L421.32,363.80 L421.54,365.81 L421.77,367.81 L421.99,369.80 L422.21,371.79 L422.43,373.76 L422.66,375.73 L422.88,377.68 L423.10,379.63 L423.32,381.55 L423.55,383.47 L423.77,385.36 L423.99,387.25 L424.21,389.11 L424.44,390.95 L424.66,392.78 L424.88,394.59 L425.10,396.37 L425.33,398.13 L425.55,399.87 L425.77,401.59 L425.99,403.28 L426.22,404.95 L426.44,406.59 L426.66,408.21 L426.88,409.81 L427.10,411.37 L427.33,412.91 L427.55,414.43 L427.77,415.91 L427.99,417.37 L428.22,418.80 L428.44,420.20 L428.66,421.58 L428.88,422.92 L429.11,424.24 L429.33,425.53 L429.55,426.79 L429.77,428.02 L430.00,429.23 L430.22,430.40 L430.44,431.55 L430.66,432.67 L430.89,433.76 L431.11,434.82 L431.33,435.86 L431.55,436.87 L431.78,437.85 L432.00,438.80 L432.22,439.73 L432.44,440.63 L432.66,441.51 L432.89,442.36 L433.11,443.19 L433.33,443.99 L433.55,444.76 L433.78,445.51 L434.00,446.24 L434.22,446.95 L434.44,447.63 L434.67,448.29 L434.89,448.93 L435.11,449.54 L435.33,450.14 L435.56,450.71 L435.78,451.27 L436.00,451.80 L436.22,452.32 L436.45,452.82 L436.67,453.30 L436.89,453.76 L437.11,454.20 L437.34,454.63 L437.56,455.04 L437.78,455.44 L438.00,455.82 L438.22,456.19 L438.45,456.54 L438.67,456.88 L438.89,457.20 L439.11,457.51 L439.34,457.81 L439.56,458.10 L439.78,458.37 L440.00,458.63 L440.23,458.89 L440.45,459.13 L440.67,459.36 L440.89,459.58 L441.12,459.79 L441.34,460.00 L441.56,460.19 L441.78,460.38 L442.01,460.56 L442.23,460.73 L442.45,460.89 L442.67,461.05 L442.90,461.20 L443.12,461.35 L443.34,461.48 L443.56,461.61 L443.78,461.74 L444.01,461.86 L444.23,461.98 L444.45,462.09 L444.67,462.19 L444.90,462.30 L445.12,462.39 L445.34,462.49 L445.56,462.58 L445.79,462.66 L446.01,462.75 L446.23,462.83 L446.45,462.90 L446.68,462.98 L446.90,463.05 L447.12,463.11 L447.34,463.18 L447.57,463.24 L447.79,463.30 L448.01,463.36 L448.23,463.42 L448.46,463.47 L448.68,463.53 L448.90,463.58 L449.12,463.63 L449.34,463.67 L449.57,463.72 L449.79,463.76 L450.01,463.81 L450.23,463.85 L450.46,463.89 L450.68,463.93 L450.90,463.97 L451.12,464.01 L451.35,464.04 L451.57,464.08 L451.79,464.11 L452.01,464.15 L452.24,464.18 L452.46,464.21 L452.68,464.24 L452.90,464.27 L453.13,464.30 L453.35,464.33 L453.57,464.36 L453.79,464.39 L454.02,464.42 L454.24,464.44 L454.46,464.47 L454.68,464.49 L454.90,464.52 L455.13,464.54 L455.35,464.57 L455.57,464.59 L455.79,464.61 L456.02,464.64 L456.24,464.66 L456.46,464.68 L456.68,464.70 L456.91,464.72 L457.13,464.74 L457.35,464.76 L457.57,464.78 L457.80,464.80 L458.02,464.82 L458.24,464.84 L458.46,464.85 L458.69,464.87 L458.91,464.89 L459.13,464.91 L459.35,464.92 L459.58,464.94 L459.80,464.95 L460.02,464.97 L460.24,464.98 L460.46,465.00 L460.69,465.01 L460.91,465.03 L461.13,465.04 L461.35,465.06 L461.58,465.07 L461.80,465.08 L462.02,465.09 L462.24,465.11 L462.47,465.12 L462.69,465.13 L462.91,465.14 L463.13,465.15 L463.36,465.16 L463.58,465.17 L463.80,465.18 L464.02,465.19 L464.25,465.20 L464.47,465.21 L464.69,465.22 L464.91,465.23 L465.14,465.24 L465.36,465.25 L465.58,465.26 L465.80,465.27 L466.02,465.27 L466.25,465.28 L466.47,465.29 L466.69,465.30 L466.91,465.30 L467.14,465.31 L467.36,465.32 L467.58,465.33 L467.80,465.33 L468.03,465.34 L468.25,465.34 L468.47,465.35 L468.69,465.36 L468.92,465.36 L469.14,465.37 L469.36,465.37 L469.58,465.38 L469.81,465.38" stroke="#000000" stroke-width="3.0"/>
<path d="M380.40,465.31 L380.62,465.27 L380.85,465.24 L381.07,465.20 L381.29,465.17 L381.51,465.13 L381.74,465.09 L381.96,465.04 L382.18,465.00 L382.40,464.96 L382.62,464.91 L382.85,464.86 L383.07,464.81 L383.29,464.76 L383.51,464.71 L383.74,464.65 L383.96,464.59 L384.18,464.53 L384.40,464.46 L384.63,464.38 L384.85,464.30 L385.07,464.21 L385.29,464.12 L385.52,464.02 L385.74,463.92 L385.96,463.81 L386.18,463.69 L386.41,463.57 L386.63,463.44 L386.85,463.31 L387.07,463.17 L387.30,463.02 L387.52,462.87 L387.74,462.70 L387.96,462.52 L388.18,462.33 L388.41,462.12 L388.63,461.89 L388.85,461.63 L389.07,461.36 L389.30,461.07 L389.52,460.75 L389.74,460.42 L389.96,460.08 L390.19,459.72 L390.41,459.34 L390.63,458.96 L390.85,458.56 L391.08,458.16 L391.30,457.75 L391.52,457.33 L391.74,456.91 L391.97,456.47 L392.19,456.02 L392.41,455.55 L392.63,455.07 L392.86,454.56 L393.08,454.04 L393.30,453.50 L393.52,452.94 L393.74,452.36 L393.97,451.75 L394.19,451.12 L394.41,450.47 L394.63,449.79 L394.86,449.07 L395.08,448.32 L395.30,447.53 L395.52,446.71 L395.75,445.86 L395.97,444.99 L396.19,444.10 L396.41,443.20 L396.64,442.31 L396.86,441.41 L397.08,440.53 L397.30,439.66 L397.53,438.80 L397.75,437.95 L397.97,437.11 L398.19,436.28 L398.42,435.46 L398.64,434.65 L398.86,433.83 L399.08,433.02 L399.30,432.22 L399.53,431.41 L399.75,430.60 L399.97,429.79 L400.19,428.98 L400.42,428.17 L400.64,427.35 L400.86,426.53 L401.08,425.71 L401.31,424.87 L401.53,424.04 L401.75,423.19 L401.97,422.33 L402.20,421.46 L402.42,420.58 L402.64,419.68 L402.86,418.76 L403.09,417.82 L403.31,416.87 L403.53,415.89 L403.75,414.91 L403.98,413.91 L404.20,412.90 L404.42,411.89 L404.64,410.88 L404.86,409.87 L405.09,408.88 L405.31,407.90 L405.53,406.94 L405.75,406.00 L405.98,405.08 L406.20,404.20 L406.42,403.35 L406.64,402.53 L406.87,401.75 L407.09,401.01 L407.31,400.30 L407.53,399.64 L407.76,399.04 L407.98,398.54 L408.20,398.17 L408.42,397.98 L408.65,397.98 L408.87,398.17 L409.09,398.54 L409.31,399.04 L409.54,399.64 L409.76,400.30 L409.98,401.01 L410.20,401.75 L410.42,402.53 L410.65,403.35 L410.87,404.20 L411.09,405.08 L411.31,406.00 L411.54,406.94 L411.76,407.90 L411.98,408.88 L412.20,409.87 L412.43,410.88 L412.65,411.89 L412.87,412.90 L413.09,413.91 L413.32,414.91 L413.54,415.89 L413.76,416.87 L413.98,417.82 L414.21,418.76 L414.43,419.68 L414.65,420.58 L414.87,421.46 L415.10,422.33 L415.32,423.19 L415.54,424.04 L415.76,424.87 L415.98,425.71 L416.21,426.53 L416.43,427.35 L416.65,428.17 L416.87,428.98 L417.10,429.79 L417.32,430.60 L417.54,431.41 L417.76,432.22 L417.99,433.02 L418.21,433.83 L418.43,434.65 L418.65,435.46 L418.88,436.28 L419.10,437.11 L419.32,437.95 L419.54,438.80 L419.77,439.66 L419.99,440.53 L420.21,441.41 L420.43,442.31 L420.66,443.20 L420.88,444.10 L421.10,444.99 L421.32,445.86 L421.54,446.71 L421.77,447.53 L421.99,448.32 L422.21,449.07 L422.43,449.79 L422.66,450.47 L422.88,451.12 L423.10,451.75 L423.32,452.36 L423.55,452.94 L423.77,453.50 L423.99,454.04 L424.21,454.56 L424.44,455.07 L424.66,455.55 L424.88,456.02 L425.10,456.47 L425.33,456.91 L425.55,457.33 L425.77,457.75 L425.99,458.16 L426.22,458.56 L426.44,458.96 L426.66,459.34 L426.88,459.72 L427.10,460.08 L427.33,460.42 L427.55,460.75 L427.77,461.07 L427.99,461.36 L428.22,461.63 L428.44,461.89 L428.66,462.12 L428.88,462.33 L429.11,462.52 L429.33,462.70 L429.55,462.87 L429.77,463.02 L430.00,463.17 L430.22,463.31 L430.44,463.44 L430.66,463.57 L430.89,463.69 L431.11,463.81 L431.33,463.92 L431.55,464.02 L431.78,464.12 L432.00,464.21 L432.22,464.30 L432.44,464.38 L432.66,464.46 L432.89,464.53 L433.11,464.59 L433.33,464.65 L433.55,464.71 L433.78,464.76 L434.00,464.81 L434.22,464.86 L434.44,464.91 L434.67,464.96 L434.89,465.00 L435.11,465.04 L435.33,465.09 L435.56,465.13 L435.78,465.17 L436.00,465.20 L436.22,465.24 L436.45,465.27 L436.67,465.31" stroke="#d60044" stroke-width="1.0"/>
<path d="M359.88,465.31 L360.11,465.30 L360.33,465.29 L360.55,465.28 L360.77,465.27 L361.00,465.26 L361.22,465.26 L361.44,465.25 L361.66,465.24 L361.89,465.23 L362.11,465.22 L362.33,465.21 L362.55,465.20 L362.78,465.19 L363.00,465.18 L363.22,465.17 L363.44,465.16 L363.67,465.15 L363.89,465.14 L364.11,465.13 L364.33,465.12 L364.55,465.11 L364.78,465.10 L365.00,465.09 L365.22,465.08 L365.44,465.07 L365.67,465.06 L365.89,465.04 L366.11,465.03 L366.33,465.02 L366.56,465.01 L366.78,465.00 L367.00,464.98 L367.22,464.97 L367.45,464.96 L367.67,464.94 L367.89,464.93 L368.11,464.91 L368.34,464.90 L368.56,464.89 L368.78,464.87 L369.00,464.85 L369.23,464.84 L369.45,464.82 L369.67,464.81 L369.89,464.79 L370.11,464.77 L370.34,464.76 L370.56,464.74 L370.78,464.72 L371.00,464.70 L371.23,464.69 L371.45,464.67 L371.67,464.65 L371.89,464.63 L372.12,464.61 L372.34,464.59 L372.56,464.57 L372.78,464.55 L373.01,464.53 L373.23,464.51 L373.45,464.48 L373.67,464.46 L373.90,464.44 L374.12,464.42 L374.34,464.39 L374.56,464.37 L374.79,464.34 L375.01,464.32 L375.23,464.29 L375.45,464.26 L375.67,464.23 L375.90,464.20 L376.12,464.17 L376.34,464.13 L376.56,464.10 L376.79,464.06 L377.01,464.02 L377.23,463.98 L377.45,463.94 L377.68,463.90 L377.90,463.86 L378.12,463.81 L378.34,463.77 L378.57,463.73 L378.79,463.68 L379.01,463.64 L379.23,463.60 L379.46,463.56 L379.68,463.52 L379.90,463.48 L380.12,463.44 L380.35,463.40 L380.57,463.36 L380.79,463.32 L381.01,463.28 L381.23,463.24 L381.46,463.20 L381.68,463.15 L381.90,463.11 L382.12,463.06 L382.35,463.01 L382.57,462.95 L382.79,462.89 L383.01,462.83 L383.24,462.76 L383.46,462.68 L383.68,462.59 L383.90,462.49 L384.13,462.38 L384.35,462.27 L384.57,462.14 L384.79,462.01 L385.02,461.86 L385.24,461.71 L385.46,461.54 L385.68,461.37 L385.91,461.18 L386.13,460.99 L386.35,460.78 L386.57,460.56 L386.79,460.33 L387.02,460.08 L387.24,459.81 L387.46,459.52 L387.68,459.21 L387.91,458.87 L388.13,458.52 L388.35,458.14 L388.57,457.75 L388.80,457.34 L389.02,456.90 L389.24,456.45 L389.46,455.96 L389.69,455.44 L389.91,454.88 L390.13,454.26 L390.35,453.57 L390.58,452.80 L390.80,451.93 L391.02,450.93 L391.24,449.78 L391.47,448.45 L391.69,446.93 L391.91,445.21 L392.13,443.28 L392.35,441.16 L392.58,438.86 L392.80,436.42 L393.02,433.88 L393.24,431.28 L393.47,428.67 L393.69,426.08 L393.91,423.52 L394.13,421.00 L394.36,418.52 L394.58,416.08 L394.80,413.65 L395.02,411.23 L395.25,408.79 L395.47,406.32 L395.69,403.80 L395.91,401.25 L396.14,398.64 L396.36,395.99 L396.58,393.29 L396.80,390.56 L397.03,387.79 L397.25,385.01 L397.47,382.20 L397.69,379.38 L397.91,376.54 L398.14,373.69 L398.36,370.83 L398.58,367.96 L398.80,365.07 L399.03,362.17 L399.25,359.25 L399.47,356.31 L399.69,353.35 L399.92,350.37 L400.14,347.37 L400.36,344.33 L400.58,341.28 L400.81,338.20 L401.03,335.10 L401.25,331.98 L401.47,328.86 L401.70,325.74 L401.92,322.62 L402.14,319.53 L402.36,316.46 L402.59,313.43 L402.81,310.44 L403.03,307.49 L403.25,304.57 L403.47,301.68 L403.70,298.82 L403.92,295.96 L404.14,293.09 L404.36,290.22 L404.59,287.32 L404.81,284.41 L405.03,281.50 L405.25,278.61 L405.48,275.77 L405.70,273.02 L405.92,270.40 L406.14,267.98 L406.37,265.77 L406.59,263.81 L406.81,262.14 L407.03,260.75 L407.26,259.66 L407.48,258.86 L407.70,258.35 L407.92,258.09 L408.15,258.06 L408.37,258.22 L408.59,258.53 L408.81,258.99 L409.03,259.62 L409.26,260.44 L409.48,261.51 L409.70,262.84 L409.92,264.45 L410.15,266.34 L410.37,268.49 L410.59,270.88 L410.81,273.47 L411.04,276.22 L411.26,279.07 L411.48,281.99 L411.70,284.94 L411.93,287.90 L412.15,290.85 L412.37,293.79 L412.59,296.75 L412.82,299.73 L413.04,302.76 L413.26,305.88 L413.48,309.11 L413.71,312.48 L413.93,315.99 L414.15,319.66 L414.37,323.48 L414.59,327.43 L414.82,331.48 L415.04,335.61 L415.26,339.76 L415.48,343.90 L415.71,348.00 L415.93,352.03 L416.15,355.96 L416.37,359.78 L416.60,363.49 L416.82,367.09 L417.04,370.61 L417.26,374.04 L417.49,377.40 L417.71,380.72 L417.93,384.01 L418.15,387.26 L418.38,390.50 L418.60,393.71 L418.82,396.89 L419.04,400.02 L419.27,403.11 L419.49,406.12 L419.71,409.05 L419.93,411.90 L420.15,414.65 L420.38,417.33 L420.60,419.94 L420.82,422.51 L421.04,425.07 L421.27,427.62 L421.49,430.19 L421.71,432.78 L421.93,435.37 L422.16,437.92 L422.38,440.40 L422.60,442.77 L422.82,444.97 L423.05,446.96 L423.27,448.74 L423.49,450.28 L423.71,451.61 L423.94,452.73 L424.16,453.67 L424.38,454.47 L424.60,455.16 L424.83,455.75 L425.05,456.27 L425.27,456.74 L425.49,457.17 L425.71,457.57 L425.94,457.95 L426.16,458.30 L426.38,458.64 L426.60,458.97 L426.83,459.28 L427.05,459.58 L427.27,459.86 L427.49,460.12 L427.72,460.37 L427.94,460.60 L428.16,460.82 L428.38,461.03 L428.61,461.22 L428.83,461.41 L429.05,461.60 L429.27,461.78 L429.50,461.95 L429.72,462.11 L429.94,462.27 L430.16,462.41 L430.39,462.54 L430.61,462.67 L430.83,462.78 L431.05,462.88 L431.27,462.97 L431.50,463.05 L431.72,463.11 L431.94,463.17 L432.16,463.23 L432.39,463.28 L432.61,463.32 L432.83,463.36 L433.05,463.40 L433.28,463.44 L433.50,463.48 L433.72,463.51 L433.94,463.55 L434.17,463.59 L434.39,463.62 L434.61,463.65 L434.83,463.68 L435.06,463.71 L435.28,463.74 L435.50,463.77 L435.72,463.80 L435.95,463.82 L436.17,463.85 L436.39,463.87 L436.61,463.89 L436.83,463.92 L437.06,463.94 L437.28,463.97 L437.50,463.99 L437.72,464.02 L437.95,464.04 L438.17,464.07 L438.39,464.10 L438.61,464.13 L438.84,464.16 L439.06,464.19 L439.28,464.22 L439.50,464.25 L439.73,464.28 L439.95,464.30 L440.17,464.33 L440.39,464.36 L440.62,464.39 L440.84,464.41 L441.06,464.44 L441.28,464.46 L441.51,464.48 L441.73,464.51 L441.95,464.53 L442.17,464.55 L442.39,464.57 L442.62,464.59 L442.84,464.61 L443.06,464.64 L443.28,464.66 L443.51,464.68 L443.73,464.69 L443.95,464.71 L444.17,464.73 L444.40,464.75 L444.62,464.77 L444.84,464.79 L445.06,464.80 L445.29,464.82 L445.51,464.84 L445.73,464.85 L445.95,464.87 L446.18,464.88 L446.40,464.90 L446.62,464.92 L446.84,464.93 L447.07,464.94 L447.29,464.96 L447.51,464.97 L447.73,464.99 L447.95,465.00 L448.18,465.01 L448.40,465.03 L448.62,465.04 L448.84,465.05 L449.07,465.06 L449.29,465.08 L449.51,465.09 L449.73,465.10 L449.96,465.11 L450.18,465.12 L450.40,465.13 L450.62,465.14 L450.85,465.15 L451.07,465.17 L451.29,465.18 L451.51,465.19 L451.74,465.20 L451.96,465.21 L452.18,465.21 L452.40,465.22 L452.63,465.23 L452.85,465.24 L453.07,465.25 L453.29,465.26 L453.51,465.27 L453.74,465.28 L453.96,465.29 L454.18,465.30 L454.40,465.31" stroke="#d60044" stroke-width="1.15" stroke-dasharray="8,2.2" stroke-dashoffset="0"/>
<path d="M357.77,465.38 L357.99,465.37 L358.22,465.36 L358.44,465.36 L358.66,465.35 L358.88,465.34 L359.11,465.33 L359.33,465.33 L359.55,465.32 L359.77,465.31 L360.00,465.30 L360.22,465.29 L360.44,465.29 L360.66,465.28 L360.89,465.27 L361.11,465.26 L361.33,465.25 L361.55,465.24 L361.77,465.23 L362.00,465.23 L362.22,465.22 L362.44,465.21 L362.66,465.20 L362.89,465.19 L363.11,465.18 L363.33,465.17 L363.55,465.16 L363.78,465.15 L364.00,465.14 L364.22,465.13 L364.44,465.12 L364.67,465.11 L364.89,465.10 L365.11,465.09 L365.33,465.07 L365.56,465.06 L365.78,465.05 L366.00,465.04 L366.22,465.03 L366.45,465.01 L366.67,465.00 L366.89,464.99 L367.11,464.98 L367.33,464.96 L367.56,464.95 L367.78,464.94 L368.00,464.92 L368.22,464.91 L368.45,464.89 L368.67,464.88 L368.89,464.86 L369.11,464.85 L369.34,464.83 L369.56,464.82 L369.78,464.80 L370.00,464.78 L370.23,464.77 L370.45,464.75 L370.67,464.73 L370.89,464.71 L371.12,464.70 L371.34,464.68 L371.56,464.66 L371.78,464.64 L372.01,464.62 L372.23,464.60 L372.45,464.58 L372.67,464.56 L372.89,464.54 L373.12,464.52 L373.34,464.50 L373.56,464.47 L373.78,464.45 L374.01,464.43 L374.23,464.40 L374.45,464.38 L374.67,464.35 L374.90,464.33 L375.12,464.30 L375.34,464.27 L375.56,464.25 L375.79,464.22 L376.01,464.18 L376.23,464.15 L376.45,464.12 L376.68,464.08 L376.90,464.04 L377.12,464.00 L377.34,463.96 L377.57,463.92 L377.79,463.87 L378.01,463.83 L378.23,463.78 L378.45,463.73 L378.68,463.68 L378.90,463.62 L379.12,463.57 L379.34,463.51 L379.57,463.45 L379.79,463.38 L380.01,463.32 L380.23,463.25 L380.46,463.18 L380.68,463.11 L380.90,463.03 L381.12,462.95 L381.35,462.87 L381.57,462.79 L381.79,462.71 L382.01,462.62 L382.24,462.52 L382.46,462.43 L382.68,462.32 L382.90,462.21 L383.13,462.10 L383.35,461.97 L383.57,461.83 L383.79,461.68 L384.01,461.52 L384.24,461.34 L384.46,461.15 L384.68,460.94 L384.90,460.71 L385.13,460.47 L385.35,460.22 L385.57,459.95 L385.79,459.66 L386.02,459.36 L386.24,459.05 L386.46,458.71 L386.68,458.36 L386.91,457.98 L387.13,457.58 L387.35,457.15 L387.57,456.69 L387.80,456.20 L388.02,455.68 L388.24,455.11 L388.46,454.51 L388.69,453.87 L388.91,453.19 L389.13,452.47 L389.35,451.70 L389.57,450.88 L389.80,450.00 L390.02,449.06 L390.24,448.05 L390.46,446.95 L390.69,445.74 L390.91,444.41 L391.13,442.93 L391.35,441.29 L391.58,439.45 L391.80,437.40 L392.02,435.13 L392.24,432.64 L392.47,429.96 L392.69,427.09 L392.91,424.09 L393.13,420.99 L393.36,417.84 L393.58,414.67 L393.80,411.50 L394.02,408.35 L394.25,405.22 L394.47,402.10 L394.69,398.97 L394.91,395.83 L395.13,392.63 L395.36,389.38 L395.58,386.07 L395.80,382.68 L396.02,379.22 L396.25,375.70 L396.47,372.12 L396.69,368.51 L396.91,364.87 L397.14,361.21 L397.36,357.54 L397.58,353.87 L397.80,350.20 L398.03,346.52 L398.25,342.84 L398.47,339.16 L398.69,335.46 L398.92,331.76 L399.14,328.04 L399.36,324.30 L399.58,320.54 L399.81,316.77 L400.03,312.96 L400.25,309.13 L400.47,305.27 L400.69,301.39 L400.92,297.48 L401.14,293.54 L401.36,289.59 L401.58,285.62 L401.81,281.65 L402.03,277.69 L402.25,273.74 L402.47,269.80 L402.70,265.88 L402.92,261.99 L403.14,258.11 L403.36,254.25 L403.59,250.40 L403.81,246.54 L404.03,242.68 L404.25,238.80 L404.48,234.91 L404.70,231.00 L404.92,227.08 L405.14,223.18 L405.37,219.33 L405.59,215.57 L405.81,211.96 L406.03,208.52 L406.25,205.32 L406.48,202.40 L406.70,199.77 L406.92,197.47 L407.14,195.49 L407.37,193.85 L407.59,192.55 L407.81,191.60 L408.03,190.99 L408.26,190.73 L408.48,190.82 L408.70,191.25 L408.92,192.03 L409.15,193.16 L409.37,194.63 L409.59,196.44 L409.81,198.58 L410.04,201.05 L410.26,203.83 L410.48,206.89 L410.70,210.21 L410.93,213.75 L411.15,217.44 L411.37,221.25 L411.59,225.14 L411.81,229.06 L412.04,233.00 L412.26,236.94 L412.48,240.90 L412.70,244.87 L412.93,248.89 L413.15,252.96 L413.37,257.13 L413.59,261.41 L413.82,265.82 L414.04,270.37 L414.26,275.04 L414.48,279.85 L414.71,284.75 L414.93,289.72 L415.15,294.73 L415.37,299.74 L415.60,304.71 L415.82,309.61 L416.04,314.42 L416.26,319.12 L416.49,323.70 L416.71,328.18 L416.93,332.55 L417.15,336.83 L417.37,341.03 L417.60,345.18 L417.82,349.29 L418.04,353.36 L418.26,357.42 L418.49,361.46 L418.71,365.47 L418.93,369.45 L419.15,373.39 L419.38,377.28 L419.60,381.11 L419.82,384.86 L420.04,388.53 L420.27,392.13 L420.49,395.67 L420.71,399.16 L420.93,402.61 L421.16,406.05 L421.38,409.48 L421.60,412.91 L421.82,416.31 L422.05,419.66 L422.27,422.93 L422.49,426.06 L422.71,429.03 L422.93,431.78 L423.16,434.28 L423.38,436.54 L423.60,438.55 L423.82,440.33 L424.05,441.89 L424.27,443.28 L424.49,444.52 L424.71,445.63 L424.94,446.65 L425.16,447.59 L425.38,448.48 L425.60,449.32 L425.83,450.12 L426.05,450.89 L426.27,451.64 L426.49,452.36 L426.72,453.06 L426.94,453.74 L427.16,454.38 L427.38,455.00 L427.61,455.58 L427.83,456.13 L428.05,456.64 L428.27,457.12 L428.49,457.57 L428.72,457.99 L428.94,458.39 L429.16,458.76 L429.38,459.11 L429.61,459.44 L429.83,459.75 L430.05,460.04 L430.27,460.32 L430.50,460.58 L430.72,460.82 L430.94,461.05 L431.16,461.26 L431.39,461.45 L431.61,461.63 L431.83,461.79 L432.05,461.94 L432.28,462.07 L432.50,462.20 L432.72,462.32 L432.94,462.43 L433.17,462.53 L433.39,462.63 L433.61,462.72 L433.83,462.81 L434.05,462.90 L434.28,462.98 L434.50,463.06 L434.72,463.14 L434.94,463.21 L435.17,463.28 L435.39,463.35 L435.61,463.42 L435.83,463.49 L436.06,463.55 L436.28,463.61 L436.50,463.67 L436.72,463.72 L436.95,463.77 L437.17,463.83 L437.39,463.88 L437.61,463.92 L437.84,463.97 L438.06,464.01 L438.28,464.05 L438.50,464.09 L438.73,464.13 L438.95,464.16 L439.17,464.20 L439.39,464.23 L439.61,464.26 L439.84,464.29 L440.06,464.32 L440.28,464.35 L440.50,464.37 L440.73,464.40 L440.95,464.42 L441.17,464.45 L441.39,464.47 L441.62,464.49 L441.84,464.52 L442.06,464.54 L442.28,464.56 L442.51,464.58 L442.73,464.60 L442.95,464.63 L443.17,464.65 L443.40,464.67 L443.62,464.68 L443.84,464.70 L444.06,464.72 L444.29,464.74 L444.51,464.76 L444.73,464.78 L444.95,464.79 L445.17,464.81 L445.40,464.83 L445.62,464.85 L445.84,464.86 L446.06,464.88 L446.29,464.89 L446.51,464.91 L446.73,464.92 L446.95,464.94 L447.18,464.95 L447.40,464.97 L447.62,464.98 L447.84,464.99 L448.07,465.01 L448.29,465.02 L448.51,465.03 L448.73,465.05 L448.96,465.06 L449.18,465.07 L449.40,465.08 L449.62,465.09 L449.85,465.11 L450.07,465.12 L450.29,465.13 L450.51,465.14 L450.73,465.15 L450.96,465.16 L451.18,465.17 L451.40,465.18 L451.62,465.19 L451.85,465.20 L452.07,465.21 L452.29,465.22 L452.51,465.23 L452.74,465.24 L452.96,465.25 L453.18,465.26 L453.40,465.27 L453.63,465.27 L453.85,465.28 L454.07,465.29 L454.29,465.30 L454.52,465.31 L454.74,465.32 L454.96,465.33 L455.18,465.33 L455.41,465.34 L455.63,465.35 L455.85,465.36 L456.07,465.37 L456.29,465.37" stroke="#d60044" stroke-width="3.0"/>
</g>
<path d="M29.50,239.2 v-3.6 M29.50,43.7 v3.6" stroke="#000" stroke-width="0.6"/>
<path d="M73.90,239.2 v-3.6 M73.90,43.7 v3.6" stroke="#000" stroke-width="0.6"/>
<path d="M118.30,239.2 v-3.6 M118.30,43.7 v3.6" stroke="#000" stroke-width="0.6"/>
<path d="M162.70,239.2 v-3.6 M162.70,43.7 v3.6" stroke="#000" stroke-width="0.6"/>
<path d="M207.10,239.2 v-3.6 M207.10,43.7 v3.6" stroke="#000" stroke-width="0.6"/>
<path d="M251.50,239.2 v-3.6 M251.50,43.7 v3.6" stroke="#000" stroke-width="0.6"/>
<path d="M29.5,239.20 h3.6 M251.5,239.20 h-3.6" stroke="#000" stroke-width="0.6"/>
<path d="M29.5,200.10 h3.6 M251.5,200.10 h-3.6" stroke="#000" stroke-width="0.6"/>
<path d="M29.5,161.00 h3.6 M251.5,161.00 h-3.6" stroke="#000" stroke-width="0.6"/>
<path d="M29.5,121.90 h3.6 M251.5,121.90 h-3.6" stroke="#000" stroke-width="0.6"/>
<path d="M29.5,82.80 h3.6 M251.5,82.80 h-3.6" stroke="#000" stroke-width="0.6"/>
<path d="M29.5,43.70 h3.6 M251.5,43.70 h-3.6" stroke="#000" stroke-width="0.6"/>
<rect x="29.5" y="43.7" width="222.0" height="195.5" fill="none" stroke="#000" stroke-width="1.0"/>
<text x="28.90" y="250.40" font-size="12.3" text-anchor="middle" letter-spacing="-0.4">0.0</text>
<text x="73.30" y="250.40" font-size="12.3" text-anchor="middle" letter-spacing="-0.4">0.2</text>
<text x="117.70" y="250.40" font-size="12.3" text-anchor="middle" letter-spacing="-0.4">0.4</text>
<text x="162.10" y="250.40" font-size="12.3" text-anchor="middle" letter-spacing="-0.4">0.6</text>
<text x="206.50" y="250.40" font-size="12.3" text-anchor="middle" letter-spacing="-0.4">0.8</text>
<text x="250.90" y="250.40" font-size="12.3" text-anchor="middle" letter-spacing="-0.4">1.0</text>
<text x="26.70" y="237.20" font-size="12.3" text-anchor="end">0</text>
<text x="26.70" y="203.50" font-size="12.3" text-anchor="end">2</text>
<text x="26.70" y="164.40" font-size="12.3" text-anchor="end">4</text>
<text x="26.70" y="125.30" font-size="12.3" text-anchor="end">6</text>
<text x="26.70" y="86.20" font-size="12.3" text-anchor="end">8</text>
<text x="26.70" y="47.10" font-size="12.3" text-anchor="end">10</text>
<path d="M296.00,239.2 v-3.6 M296.00,43.7 v3.6" stroke="#000" stroke-width="0.6"/>
<path d="M340.48,239.2 v-3.6 M340.48,43.7 v3.6" stroke="#000" stroke-width="0.6"/>
<path d="M384.96,239.2 v-3.6 M384.96,43.7 v3.6" stroke="#000" stroke-width="0.6"/>
<path d="M429.44,239.2 v-3.6 M429.44,43.7 v3.6" stroke="#000" stroke-width="0.6"/>
<path d="M473.92,239.2 v-3.6 M473.92,43.7 v3.6" stroke="#000" stroke-width="0.6"/>
<path d="M518.40,239.2 v-3.6 M518.40,43.7 v3.6" stroke="#000" stroke-width="0.6"/>
<path d="M296.0,239.20 h3.6 M518.4,239.20 h-3.6" stroke="#000" stroke-width="0.6"/>
<path d="M296.0,200.10 h3.6 M518.4,200.10 h-3.6" stroke="#000" stroke-width="0.6"/>
<path d="M296.0,161.00 h3.6 M518.4,161.00 h-3.6" stroke="#000" stroke-width="0.6"/>
<path d="M296.0,121.90 h3.6 M518.4,121.90 h-3.6" stroke="#000" stroke-width="0.6"/>
<path d="M296.0,82.80 h3.6 M518.4,82.80 h-3.6" stroke="#000" stroke-width="0.6"/>
<path d="M296.0,43.70 h3.6 M518.4,43.70 h-3.6" stroke="#000" stroke-width="0.6"/>
<rect x="296.0" y="43.7" width="222.39999999999998" height="195.5" fill="none" stroke="#000" stroke-width="1.0"/>
<text x="295.40" y="250.40" font-size="12.3" text-anchor="middle" letter-spacing="-0.4">0.0</text>
<text x="339.88" y="250.40" font-size="12.3" text-anchor="middle" letter-spacing="-0.4">0.2</text>
<text x="384.36" y="250.40" font-size="12.3" text-anchor="middle" letter-spacing="-0.4">0.4</text>
<text x="428.84" y="250.40" font-size="12.3" text-anchor="middle" letter-spacing="-0.4">0.6</text>
<text x="473.32" y="250.40" font-size="12.3" text-anchor="middle" letter-spacing="-0.4">0.8</text>
<text x="517.80" y="250.40" font-size="12.3" text-anchor="middle" letter-spacing="-0.4">1.0</text>
<text x="293.20" y="237.20" font-size="12.3" text-anchor="end">0</text>
<text x="293.20" y="203.50" font-size="12.3" text-anchor="end">2</text>
<text x="293.20" y="164.40" font-size="12.3" text-anchor="end">4</text>
<text x="293.20" y="125.30" font-size="12.3" text-anchor="end">6</text>
<text x="293.20" y="86.20" font-size="12.3" text-anchor="end">8</text>
<text x="293.20" y="47.10" font-size="12.3" text-anchor="end">10</text>
<path d="M29.50,465.5 v-3.6 M29.50,270.5 v3.6" stroke="#000" stroke-width="0.6"/>
<path d="M85.00,465.5 v-3.6 M85.00,270.5 v3.6" stroke="#000" stroke-width="0.6"/>
<path d="M140.50,465.5 v-3.6 M140.50,270.5 v3.6" stroke="#000" stroke-width="0.6"/>
<path d="M196.00,465.5 v-3.6 M196.00,270.5 v3.6" stroke="#000" stroke-width="0.6"/>
<path d="M251.50,465.5 v-3.6 M251.50,270.5 v3.6" stroke="#000" stroke-width="0.6"/>
<path d="M29.5,465.50 h3.6 M251.5,465.50 h-3.6" stroke="#000" stroke-width="0.6"/>
<path d="M29.5,368.00 h3.6 M251.5,368.00 h-3.6" stroke="#000" stroke-width="0.6"/>
<path d="M29.5,270.50 h3.6 M251.5,270.50 h-3.6" stroke="#000" stroke-width="0.6"/>
<rect x="29.5" y="270.5" width="222.0" height="195.0" fill="none" stroke="#000" stroke-width="1.0"/>
<text x="29.50" y="476.70" font-size="12.3" text-anchor="middle">-2</text>
<text x="85.00" y="476.70" font-size="12.3" text-anchor="middle">-1</text>
<text x="140.50" y="476.70" font-size="12.3" text-anchor="middle">0</text>
<text x="196.00" y="476.70" font-size="12.3" text-anchor="middle">1</text>
<text x="251.50" y="476.70" font-size="12.3" text-anchor="middle">2</text>
<text x="26.70" y="463.50" font-size="12.3" text-anchor="end">0</text>
<text x="26.70" y="371.40" font-size="12.3" text-anchor="end">1</text>
<text x="26.70" y="273.90" font-size="12.3" text-anchor="end">2</text>
<path d="M296.00,465.5 v-3.6 M296.00,270.5 v3.6" stroke="#000" stroke-width="0.6"/>
<path d="M351.60,465.5 v-3.6 M351.60,270.5 v3.6" stroke="#000" stroke-width="0.6"/>
<path d="M407.20,465.5 v-3.6 M407.20,270.5 v3.6" stroke="#000" stroke-width="0.6"/>
<path d="M462.80,465.5 v-3.6 M462.80,270.5 v3.6" stroke="#000" stroke-width="0.6"/>
<path d="M518.40,465.5 v-3.6 M518.40,270.5 v3.6" stroke="#000" stroke-width="0.6"/>
<path d="M296.0,465.50 h3.6 M518.4,465.50 h-3.6" stroke="#000" stroke-width="0.6"/>
<path d="M296.0,368.00 h3.6 M518.4,368.00 h-3.6" stroke="#000" stroke-width="0.6"/>
<path d="M296.0,270.50 h3.6 M518.4,270.50 h-3.6" stroke="#000" stroke-width="0.6"/>
<rect x="296.0" y="270.5" width="222.39999999999998" height="195.0" fill="none" stroke="#000" stroke-width="1.0"/>
<text x="296.00" y="476.70" font-size="12.3" text-anchor="middle">-2</text>
<text x="351.60" y="476.70" font-size="12.3" text-anchor="middle">-1</text>
<text x="407.20" y="476.70" font-size="12.3" text-anchor="middle">0</text>
<text x="462.80" y="476.70" font-size="12.3" text-anchor="middle">1</text>
<text x="518.40" y="476.70" font-size="12.3" text-anchor="middle">2</text>
<text x="293.20" y="463.50" font-size="12.3" text-anchor="end">0</text>
<text x="293.20" y="371.40" font-size="12.3" text-anchor="end">1</text>
<text x="293.20" y="273.90" font-size="12.3" text-anchor="end">2</text>
<text x="39.00" y="65.20" font-size="17">(a)</text>
<text x="305.50" y="65.20" font-size="17">(b)</text>
<text x="39.00" y="292.00" font-size="17">(c)</text>
<text x="305.50" y="292.00" font-size="17">(d)</text>
<rect x="29.6" y="1.2" width="222.1" height="39.3" rx="5.5" ry="5.5" fill="#fff" stroke="#2a2a2a" stroke-width="1"/>
<path d="M33.80,12.8 H49.40" stroke="#000000" stroke-width="1.5" stroke-opacity="0.8"/>
<text x="53.40" y="15.9" font-size="12.4" fill="#000000" fill-opacity="0.88" textLength="29.90" lengthAdjust="spacingAndGlyphs">hard:</text>
<text x="96.70" y="15.9" font-size="12.4" fill="#000000" fill-opacity="0.88" textLength="37.20" lengthAdjust="spacingAndGlyphs">crystal</text>
<text x="137.80" y="15.9" font-size="12.4" fill="#000000" fill-opacity="0.88" textLength="14.00" lengthAdjust="spacingAndGlyphs">pl.</text>
<text transform="translate(155.50,18.90) scale(1.4,1.15)" font-size="17" fill="#000000" fill-opacity="0.6">/</text>
<text x="164.80" y="15.9" font-size="12.4" fill="#000000" fill-opacity="0.88" textLength="24.30" lengthAdjust="spacingAndGlyphs">soft:</text>
<text x="192.60" y="15.9" font-size="12.4" fill="#000000" fill-opacity="0.88" textLength="36.80" lengthAdjust="spacingAndGlyphs">crystal</text>
<text x="233.10" y="15.9" font-size="12.4" fill="#000000" fill-opacity="0.88" textLength="15.00" lengthAdjust="spacingAndGlyphs">pl.</text>
<path d="M33.80,29.2 H49.40" stroke="#008000" stroke-width="1.5" stroke-opacity="0.8"/>
<text x="53.40" y="32.8" font-size="12.4" fill="#008000" fill-opacity="0.88" textLength="29.90" lengthAdjust="spacingAndGlyphs">hard:</text>
<text x="86.50" y="32.8" font-size="12.4" fill="#008000" fill-opacity="0.88" textLength="47.20" lengthAdjust="spacingAndGlyphs">isotropic</text>
<text x="137.80" y="32.8" font-size="12.4" fill="#008000" fill-opacity="0.88" textLength="14.00" lengthAdjust="spacingAndGlyphs">pl.</text>
<text transform="translate(155.50,35.80) scale(1.4,1.15)" font-size="17" fill="#008000" fill-opacity="0.6">/</text>
<text x="164.80" y="32.8" font-size="12.4" fill="#008000" fill-opacity="0.88" textLength="24.30" lengthAdjust="spacingAndGlyphs">soft:</text>
<text x="192.60" y="32.8" font-size="12.4" fill="#008000" fill-opacity="0.88" textLength="36.80" lengthAdjust="spacingAndGlyphs">crystal</text>
<text x="233.10" y="32.8" font-size="12.4" fill="#008000" fill-opacity="0.88" textLength="15.00" lengthAdjust="spacingAndGlyphs">pl.</text>
<rect x="295.9" y="1.2" width="223.0" height="39.3" rx="5.5" ry="5.5" fill="#fff" stroke="#2a2a2a" stroke-width="1"/>
<path d="M300.70,12.8 H315.90" stroke="#000000" stroke-width="1.5" stroke-opacity="0.8"/>
<text x="320.70" y="15.9" font-size="12.4" fill="#000000" fill-opacity="0.88" textLength="29.60" lengthAdjust="spacingAndGlyphs">hard:</text>
<text x="352.90" y="15.9" font-size="12.4" fill="#000000" fill-opacity="0.88" textLength="36.40" lengthAdjust="spacingAndGlyphs">crystal</text>
<text x="393.10" y="15.9" font-size="12.4" fill="#000000" fill-opacity="0.88" textLength="14.70" lengthAdjust="spacingAndGlyphs">pl.</text>
<text transform="translate(412.50,18.90) scale(1.4,1.15)" font-size="17" fill="#000000" fill-opacity="0.6">/</text>
<text x="421.80" y="15.9" font-size="12.4" fill="#000000" fill-opacity="0.88" textLength="24.60" lengthAdjust="spacingAndGlyphs">soft:</text>
<text x="459.10" y="15.9" font-size="12.4" fill="#000000" fill-opacity="0.88" textLength="37.50" lengthAdjust="spacingAndGlyphs">crystal</text>
<text x="500.10" y="15.9" font-size="12.4" fill="#000000" fill-opacity="0.88" textLength="14.90" lengthAdjust="spacingAndGlyphs">pl.</text>
<path d="M300.70,29.2 H315.90" stroke="#d60044" stroke-width="1.5" stroke-opacity="0.8"/>
<text x="320.70" y="32.8" font-size="12.4" fill="#d60044" fill-opacity="0.88" textLength="29.60" lengthAdjust="spacingAndGlyphs">hard:</text>
<text x="352.90" y="32.8" font-size="12.4" fill="#d60044" fill-opacity="0.88" textLength="36.40" lengthAdjust="spacingAndGlyphs">crystal</text>
<text x="393.10" y="32.8" font-size="12.4" fill="#d60044" fill-opacity="0.88" textLength="14.70" lengthAdjust="spacingAndGlyphs">pl.</text>
<text transform="translate(412.50,35.80) scale(1.4,1.15)" font-size="17" fill="#d60044" fill-opacity="0.6">/</text>
<text x="421.80" y="32.8" font-size="12.4" fill="#d60044" fill-opacity="0.88" textLength="24.60" lengthAdjust="spacingAndGlyphs">soft:</text>
<text x="448.90" y="32.8" font-size="12.4" fill="#d60044" fill-opacity="0.88" textLength="47.50" lengthAdjust="spacingAndGlyphs">isotropic</text>
<text x="500.10" y="32.8" font-size="12.4" fill="#d60044" fill-opacity="0.88" textLength="14.90" lengthAdjust="spacingAndGlyphs">pl.</text>
<text x="134.90" y="260.50" font-size="14" font-style="italic">ε</text>
<text x="141.30" y="263.00" font-size="10">p</text>
<text x="401.60" y="260.50" font-size="14" font-style="italic">ε</text>
<text x="408.00" y="263.00" font-size="10">p</text>
<text x="124.00" y="486.80" font-size="14" font-style="italic">τ</text>
<text x="129.90" y="489.30" font-size="10">m</text>
<text x="137.90" y="488.00" font-size="14">/</text>
<text x="143.10" y="486.80" font-size="14" font-style="italic">τ</text>
<text x="149.10" y="489.30" font-size="10">0</text>
<text x="390.70" y="486.80" font-size="14" font-style="italic">τ</text>
<text x="396.60" y="489.30" font-size="10">m</text>
<text x="404.60" y="488.00" font-size="14">/</text>
<text x="409.80" y="486.80" font-size="14" font-style="italic">τ</text>
<text x="415.80" y="489.30" font-size="10">0</text>
<text transform="translate(9.8,141.75) rotate(-90)" font-size="13.6" text-anchor="middle">Φ</text>
<text transform="translate(276.5,141.75) rotate(-90)" font-size="13.6" text-anchor="middle">Φ</text>
<text transform="translate(9.8,368.30) rotate(-90)" font-size="13.6" text-anchor="middle">Φ</text>
<text transform="translate(276.5,368.30) rotate(-90)" font-size="13.6" text-anchor="middle">Φ</text>
<text transform="translate(529,97.45) rotate(90)" font-size="16" textLength="88" lengthAdjust="spacingAndGlyphs">plastic strain</text>
<text transform="translate(529,309.00) rotate(90)" font-size="16" textLength="118" lengthAdjust="spacingAndGlyphs">hydrostatic stress</text>
</svg>
</body></html>
